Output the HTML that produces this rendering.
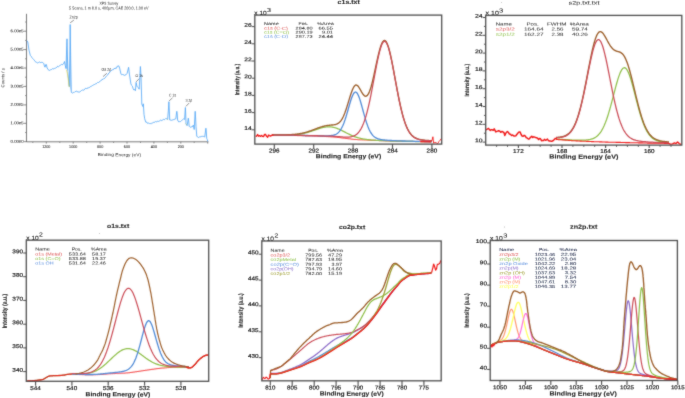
<!DOCTYPE html>
<html><head><meta charset="utf-8"><title>XPS spectra</title>
<style>
html,body{margin:0;padding:0;background:#fff;}
body{width:685px;height:398px;overflow:hidden;}
svg{display:block;font-family:"Liberation Sans", sans-serif;will-change:transform;}
</style></head><body>
<svg width="685" height="398" viewBox="0 0 685 398" fill="#333" font-family='"Liberation Sans", sans-serif'>
<defs><filter id="bl" filterUnits="userSpaceOnUse" x="0" y="0" width="685" height="398"><feConvolveMatrix order="3" kernelMatrix="1 2 1 2 16 2 1 2 1" divisor="28" edgeMode="none"/></filter><filter id="bt" filterUnits="userSpaceOnUse" x="0" y="0" width="685" height="398"><feConvolveMatrix order="3" kernelMatrix="0 1 0 1 8 1 0 1 0" divisor="12" edgeMode="none"/></filter></defs>
<rect width="685" height="398" fill="#fff"/>
<g filter="url(#bl)">
<line x1="26.5" y1="13.8" x2="26.5" y2="142.0" stroke="#6a6a6a" stroke-width="0.9"/>
<line x1="26.5" y1="141.8" x2="208.4" y2="141.8" stroke="#6a6a6a" stroke-width="0.9"/>
<line x1="24.0" y1="141.7" x2="26.5" y2="141.7" stroke="#6a6a6a" stroke-width="0.8"/>
<line x1="25.2" y1="132.5" x2="26.5" y2="132.5" stroke="#6a6a6a" stroke-width="0.8"/>
<line x1="24.0" y1="123.3" x2="26.5" y2="123.3" stroke="#6a6a6a" stroke-width="0.8"/>
<line x1="25.2" y1="114.1" x2="26.5" y2="114.1" stroke="#6a6a6a" stroke-width="0.8"/>
<line x1="24.0" y1="104.9" x2="26.5" y2="104.9" stroke="#6a6a6a" stroke-width="0.8"/>
<line x1="25.2" y1="95.6" x2="26.5" y2="95.6" stroke="#6a6a6a" stroke-width="0.8"/>
<line x1="24.0" y1="86.4" x2="26.5" y2="86.4" stroke="#6a6a6a" stroke-width="0.8"/>
<line x1="25.2" y1="77.2" x2="26.5" y2="77.2" stroke="#6a6a6a" stroke-width="0.8"/>
<line x1="24.0" y1="68.0" x2="26.5" y2="68.0" stroke="#6a6a6a" stroke-width="0.8"/>
<line x1="25.2" y1="58.8" x2="26.5" y2="58.8" stroke="#6a6a6a" stroke-width="0.8"/>
<line x1="24.0" y1="49.6" x2="26.5" y2="49.6" stroke="#6a6a6a" stroke-width="0.8"/>
<line x1="25.2" y1="40.4" x2="26.5" y2="40.4" stroke="#6a6a6a" stroke-width="0.8"/>
<line x1="24.0" y1="31.2" x2="26.5" y2="31.2" stroke="#6a6a6a" stroke-width="0.8"/>
<line x1="25.2" y1="22.0" x2="26.5" y2="22.0" stroke="#6a6a6a" stroke-width="0.8"/>
<line x1="32.8" y1="141.8" x2="32.8" y2="142.9" stroke="#6a6a6a" stroke-width="0.8"/>
<line x1="46.3" y1="141.8" x2="46.3" y2="143.6" stroke="#6a6a6a" stroke-width="0.8"/>
<line x1="59.8" y1="141.8" x2="59.8" y2="142.9" stroke="#6a6a6a" stroke-width="0.8"/>
<line x1="73.2" y1="141.8" x2="73.2" y2="143.6" stroke="#6a6a6a" stroke-width="0.8"/>
<line x1="86.7" y1="141.8" x2="86.7" y2="142.9" stroke="#6a6a6a" stroke-width="0.8"/>
<line x1="100.1" y1="141.8" x2="100.1" y2="143.6" stroke="#6a6a6a" stroke-width="0.8"/>
<line x1="113.6" y1="141.8" x2="113.6" y2="142.9" stroke="#6a6a6a" stroke-width="0.8"/>
<line x1="127.0" y1="141.8" x2="127.0" y2="143.6" stroke="#6a6a6a" stroke-width="0.8"/>
<line x1="140.5" y1="141.8" x2="140.5" y2="142.9" stroke="#6a6a6a" stroke-width="0.8"/>
<line x1="153.9" y1="141.8" x2="153.9" y2="143.6" stroke="#6a6a6a" stroke-width="0.8"/>
<line x1="167.4" y1="141.8" x2="167.4" y2="142.9" stroke="#6a6a6a" stroke-width="0.8"/>
<line x1="180.8" y1="141.8" x2="180.8" y2="143.6" stroke="#6a6a6a" stroke-width="0.8"/>
<line x1="194.2" y1="141.8" x2="194.2" y2="142.9" stroke="#6a6a6a" stroke-width="0.8"/>
<line x1="207.7" y1="141.8" x2="207.7" y2="143.6" stroke="#6a6a6a" stroke-width="0.8"/>
<line x1="70.2" y1="22.8" x2="73.9" y2="20.1" stroke="#444" stroke-width="0.6"/>
<line x1="103.0" y1="76.6" x2="106.9" y2="73.3" stroke="#444" stroke-width="0.6"/>
<line x1="136.1" y1="81.9" x2="139.3" y2="78.5" stroke="#444" stroke-width="0.6"/>
<line x1="168.9" y1="101.2" x2="172.5" y2="97.8" stroke="#444" stroke-width="0.6"/>
<line x1="185.9" y1="106.4" x2="189.2" y2="103.0" stroke="#444" stroke-width="0.6"/>
<polygon points="66.1,68 67.0,38.8 68.0,71 " fill="#b4d6f8"/>
<polygon points="69.4,86 70.2,24.5 71.2,92 " fill="#b4d6f8"/>
<polyline points="27.0,40.7 27.8,41.9 28.4,46.0 29.0,50.2 30.3,55.4 31.1,56.2 32.0,57.7 32.8,58.6 33.5,59.3 34.3,60.2 35.1,61.5 35.8,62.0 36.5,62.3 37.3,62.8 38.1,63.0 38.8,62.3 39.5,62.0 40.2,62.4 41.0,62.8 41.8,62.2 42.6,62.5 43.2,62.8 43.8,63.7 44.4,66.0 45.0,67.2 45.8,64.5 46.4,64.6 47.1,68.0 47.9,69.1 48.6,70.2 49.4,70.4 50.2,69.8 50.9,69.8 51.7,69.4 52.5,68.7 53.2,68.9 54.0,68.9 54.7,68.2 55.5,68.1 56.2,67.5 57.0,67.3 57.7,66.2 58.5,66.7 59.2,66.1 60.0,65.3 60.7,65.2 61.5,64.3 62.2,64.9 63.0,64.0 63.7,63.7 64.5,61.5 65.2,65.2 66.0,68.6 66.6,50.0 67.0,38.8 67.4,55.0 67.9,71.5 68.6,80.0 69.3,86.5 69.8,60.0 70.2,24.5 70.7,60.0 71.3,92.2 72.1,93.0 72.8,93.0 73.5,92.4 74.3,92.4 75.1,91.5 75.8,91.5 76.6,91.0 77.3,91.9 78.1,91.7 78.8,92.2 79.7,92.1 80.5,91.2 81.5,90.5 82.6,90.0 83.4,90.2 84.2,89.9 84.9,88.7 85.7,88.4 86.5,88.6 87.2,87.9 88.0,88.5 88.7,87.5 89.5,87.4 90.2,86.9 91.0,86.2 91.7,86.1 92.5,85.5 93.2,85.0 94.0,84.8 94.7,84.4 95.5,83.9 96.2,83.8 97.0,83.1 97.7,82.4 98.5,82.5 99.2,81.9 100.0,81.6 100.7,80.6 101.5,80.3 102.2,79.2 103.0,79.5 103.7,78.6 104.5,78.5 105.2,77.8 106.0,76.6 106.7,75.8 107.5,75.2 108.2,74.1 109.0,72.8 109.7,72.5 110.5,71.1 111.2,70.7 112.0,70.2 112.8,69.6 113.5,69.6 114.3,68.2 115.0,69.0 115.8,67.8 116.5,68.2 117.3,66.1 118.0,66.3 118.8,65.8 119.6,68.1 121.0,74.1 121.8,74.9 122.5,74.5 123.3,74.9 124.0,74.6 124.8,75.6 125.5,74.7 126.2,74.6 127.1,73.4 128.6,67.3 129.4,74.1 130.9,83.9 131.7,85.5 132.4,86.2 133.2,88.8 133.9,90.0 134.7,89.5 135.4,90.7 136.1,82.4 136.9,86.2 137.7,87.2 138.4,87.7 139.2,89.2 139.8,78.0 140.4,66.5 141.0,76.0 141.3,86.0 141.8,104.1 142.8,106.5 143.3,103.8 144.0,114.3 144.7,118.8 145.8,122.2 146.6,122.0 147.3,123.2 148.1,123.3 148.8,123.0 149.6,123.6 150.3,123.7 151.1,123.0 151.8,123.6 152.6,122.9 153.3,122.5 154.1,122.0 154.8,122.4 155.6,121.5 156.3,121.9 157.1,121.3 157.9,121.3 158.6,121.4 159.4,121.0 160.2,120.3 161.0,120.0 161.8,120.7 162.6,120.0 163.4,119.4 164.1,119.8 164.9,119.4 165.7,118.5 166.6,118.8 167.6,119.4 168.4,110.0 168.9,101.8 169.3,110.0 169.7,120.0 170.6,120.1 171.4,120.3 172.2,120.0 173.1,119.9 173.9,119.4 174.9,119.2 175.8,118.8 176.4,114.0 176.8,111.3 177.2,114.0 177.6,120.0 178.1,121.0 178.7,121.9 179.6,121.6 180.5,121.6 181.4,120.7 182.4,119.9 183.3,119.0 183.9,119.1 184.6,119.4 185.1,112.0 185.4,107.5 185.7,114.0 186.0,123.8 186.6,125.0 187.1,125.7 187.9,121.0 188.3,118.2 188.7,121.0 189.2,126.3 190.2,127.3 191.1,126.8 192.1,127.0 192.8,125.8 193.4,125.1 194.2,129.5 194.8,118.0 195.2,111.3 195.6,118.0 196.0,126.3 196.8,136.4 197.8,137.0 198.6,137.5 199.5,136.9 200.3,136.8 201.1,136.8 201.9,136.0 202.6,136.4 203.4,136.4 204.1,136.8 204.7,137.0 205.4,132.0 205.9,128.2 206.3,132.0 206.7,138.3 207.2,139.3 207.8,141.4" fill="none" stroke="#55a8f6" stroke-width="0.85" stroke-linejoin="round"/>
<polyline points="66.4,69.5 67.3,73.0 68.1,78.0 68.8,84.0 69.3,87.0" fill="none" stroke="#d8d040" stroke-width="0.7" stroke-linejoin="round"/>
<polyline points="167.0,118.8 167.8,119.6" fill="none" stroke="#c8d040" stroke-width="0.6" stroke-linejoin="round"/>
<polyline points="185.9,123.6 186.6,124.8" fill="none" stroke="#c8d040" stroke-width="0.6" stroke-linejoin="round"/>
<polyline points="272.0,135.2 272.5,135.2 273.0,135.2 273.5,135.2 274.0,135.2 274.5,135.2 275.0,135.2 275.5,135.2 276.0,135.2 276.5,135.2 277.0,135.2 277.5,135.2 278.0,135.2 278.5,135.2 279.0,135.2 279.5,135.2 280.0,135.3 280.5,135.3 281.0,135.3 281.5,135.3 282.0,135.3 282.5,135.3 283.0,135.3 283.5,135.3 284.0,135.3 284.5,135.3 285.0,135.3 285.5,135.3 286.0,135.3 286.5,135.3 287.0,135.3 287.5,135.4 288.0,135.4 288.5,135.4 289.0,135.4 289.5,135.4 290.0,135.4 290.5,135.4 291.0,135.4 291.5,135.4 292.0,135.4 292.5,135.4 293.0,135.5 293.5,135.5 294.0,135.5 294.5,135.5 295.0,135.5 295.5,135.5 296.0,135.5 296.5,135.5 297.0,135.5 297.5,135.6 298.0,135.6 298.5,135.6 299.0,135.6 299.5,135.6 300.0,135.6 300.5,135.6 301.0,135.6 301.5,135.7 302.0,135.7 302.5,135.7 303.0,135.7 303.5,135.7 304.0,135.7 304.5,135.7 305.0,135.8 305.5,135.8 306.0,135.8 306.5,135.8 307.0,135.8 307.5,135.8 308.0,135.8 308.5,135.9 309.0,135.9 309.5,135.9 310.0,135.9 310.5,135.9 311.0,135.9 311.5,135.9 312.0,136.0 312.5,136.0 313.0,136.0 313.5,136.0 314.0,136.0 314.5,136.1 315.0,136.1 315.5,136.1 316.0,136.1 316.5,136.1 317.0,136.1 317.5,136.2 318.0,136.2 318.5,136.2 319.0,136.2 319.5,136.2 320.0,136.3 320.5,136.3 321.0,136.3 321.5,136.3 322.0,136.4 322.5,136.4 323.0,136.4 323.5,136.4 324.0,136.5 324.5,136.5 325.0,136.5 325.5,136.5 326.0,136.6 326.5,136.6 327.0,136.6 327.5,136.6 328.0,136.7 328.5,136.7 329.0,136.7 329.5,136.7 330.0,136.8 330.5,136.8 331.0,136.8 331.5,136.9 332.0,136.9 332.5,136.9 333.0,137.0 333.5,137.0 334.0,137.0 334.5,137.1 335.0,137.1 335.5,137.2 336.0,137.2 336.5,137.2 337.0,137.3 337.5,137.4 338.0,137.4 338.5,137.5 339.0,137.5 339.5,137.6 340.0,137.7 340.5,137.7 341.0,137.8 341.5,137.9 342.0,137.9 342.5,138.0 343.0,138.1 343.5,138.1 344.0,138.2 344.5,138.2 345.0,138.3 345.5,138.4 346.0,138.4 346.5,138.5 347.0,138.5 347.5,138.6 348.0,138.7 348.5,138.7 349.0,138.8 349.5,138.8 350.0,138.9 350.5,138.9 351.0,139.0 351.5,139.1 352.0,139.1 352.5,139.2 353.0,139.2 353.5,139.3 354.0,139.3 354.5,139.4 355.0,139.4 355.5,139.4 356.0,139.5 356.5,139.5 357.0,139.6 357.5,139.6 358.0,139.6 358.5,139.7 359.0,139.7 359.5,139.7 360.0,139.7 360.5,139.8 361.0,139.8 361.5,139.8 362.0,139.9 362.5,139.9 363.0,139.9 363.5,139.9 364.0,140.0 364.5,140.0 365.0,140.0 365.5,140.0 366.0,140.0 366.5,140.1 367.0,140.1 367.5,140.1 368.0,140.1 368.5,140.2 369.0,140.2 369.5,140.2 370.0,140.2 370.5,140.2 371.0,140.2 371.5,140.3 372.0,140.3 372.5,140.3 373.0,140.3 373.5,140.3 374.0,140.4 374.5,140.4 375.0,140.4 375.5,140.4 376.0,140.4 376.5,140.5 377.0,140.5 377.5,140.5 378.0,140.5 378.5,140.6 379.0,140.6 379.5,140.6 380.0,140.6 380.5,140.6 381.0,140.7 381.5,140.7 382.0,140.7 382.5,140.7 383.0,140.7 383.5,140.8 384.0,140.8 384.5,140.8 385.0,140.8 385.5,140.8 386.0,140.9 386.5,140.9 387.0,140.9 387.5,140.9 388.0,140.9 388.5,141.0 389.0,141.0 389.5,141.0 390.0,141.0 390.5,141.0 391.0,141.0 391.5,141.0 392.0,141.1 392.5,141.1 393.0,141.1 393.5,141.1 394.0,141.1 394.5,141.1 395.0,141.1 395.5,141.1 396.0,141.1 396.5,141.2 397.0,141.2 397.5,141.2 398.0,141.2 398.5,141.2 399.0,141.2 399.5,141.2 400.0,141.2 400.5,141.2 401.0,141.2 401.5,141.3 402.0,141.3 402.5,141.3 403.0,141.3 403.5,141.3 404.0,141.3 404.5,141.3 405.0,141.3 405.5,141.3 406.0,141.3 406.5,141.3 407.0,141.3 407.5,141.4 408.0,141.4 408.5,141.4 409.0,141.4 409.5,141.4 410.0,141.4 410.5,141.4 411.0,141.4 411.5,141.4 412.0,141.4 412.5,141.4 413.0,141.4 413.5,141.5 414.0,141.5 414.5,141.5 415.0,141.5 415.5,141.5 416.0,141.5 416.5,141.5 417.0,141.5 417.5,141.5 418.0,141.5 418.5,141.5 419.0,141.5 419.5,141.5 420.0,141.5 420.5,141.5 421.0,141.6 421.5,141.6 422.0,141.6 422.5,141.6 423.0,141.6 423.5,141.6 424.0,141.6 424.5,141.6 425.0,141.6 425.5,141.6 426.0,141.6 426.5,141.6 427.0,141.6 427.5,141.6 428.0,141.6 428.5,141.6 429.0,141.6 429.5,141.7 430.0,141.7 430.5,141.7 431.0,141.7 431.5,141.7 432.0,141.7" fill="none" stroke="#f01c1c" stroke-width="1.0" stroke-linejoin="round"/>
<polyline points="272.0,135.1 272.5,135.1 273.0,135.1 273.5,135.1 274.0,135.1 274.5,135.2 275.0,135.2 275.5,135.2 276.0,135.2 276.5,135.2 277.0,135.2 277.5,135.2 278.0,135.2 278.5,135.2 279.0,135.2 279.5,135.2 280.0,135.2 280.5,135.2 281.0,135.2 281.5,135.1 282.0,135.1 282.5,135.1 283.0,135.1 283.5,135.1 284.0,135.1 284.5,135.1 285.0,135.1 285.5,135.1 286.0,135.1 286.5,135.1 287.0,135.1 287.5,135.1 288.0,135.1 288.5,135.1 289.0,135.0 289.5,135.0 290.0,135.0 290.5,135.0 291.0,135.0 291.5,134.9 292.0,134.9 292.5,134.9 293.0,134.9 293.5,134.8 294.0,134.8 294.5,134.8 295.0,134.7 295.5,134.7 296.0,134.6 296.5,134.6 297.0,134.5 297.5,134.5 298.0,134.4 298.5,134.3 299.0,134.3 299.5,134.2 300.0,134.1 300.5,134.0 301.0,134.0 301.5,133.9 302.0,133.8 302.5,133.7 303.0,133.6 303.5,133.5 304.0,133.4 304.5,133.2 305.0,133.1 305.5,133.0 306.0,132.9 306.5,132.7 307.0,132.6 307.5,132.4 308.0,132.3 308.5,132.2 309.0,132.0 309.5,131.8 310.0,131.7 310.5,131.5 311.0,131.4 311.5,131.2 312.0,131.0 312.5,130.8 313.0,130.7 313.5,130.5 314.0,130.3 314.5,130.1 315.0,130.0 315.5,129.8 316.0,129.6 316.5,129.4 317.0,129.3 317.5,129.1 318.0,128.9 318.5,128.8 319.0,128.6 319.5,128.4 320.0,128.3 320.5,128.1 321.0,128.0 321.5,127.9 322.0,127.7 322.5,127.6 323.0,127.5 323.5,127.4 324.0,127.3 324.5,127.2 325.0,127.1 325.5,127.1 326.0,127.0 326.5,126.9 327.0,126.9 327.5,126.9 328.0,126.8 328.5,126.8 329.0,126.8 329.5,126.8 330.0,126.9 330.5,126.9 331.0,126.9 331.5,127.0 332.0,127.1 332.5,127.2 333.0,127.3 333.5,127.4 334.0,127.5 334.5,127.6 335.0,127.7 335.5,127.9 336.0,128.0 336.5,128.2 337.0,128.4 337.5,128.6 338.0,128.8 338.5,129.0 339.0,129.2 339.5,129.4 340.0,129.7 340.5,129.9 341.0,130.2 341.5,130.4 342.0,130.7 342.5,130.9 343.0,131.2 343.5,131.4 344.0,131.7 344.5,131.9 345.0,132.2 345.5,132.4 346.0,132.7 346.5,133.0 347.0,133.2 347.5,133.5 348.0,133.7 348.5,134.0 349.0,134.2 349.5,134.4 350.0,134.7 350.5,134.9 351.0,135.1 351.5,135.4 352.0,135.6 352.5,135.8 353.0,136.0 353.5,136.2 354.0,136.4 354.5,136.6 355.0,136.8 355.5,136.9 356.0,137.1 356.5,137.3 357.0,137.4 357.5,137.6 358.0,137.7 358.5,137.9 359.0,138.0 359.5,138.1 360.0,138.2 360.5,138.4 361.0,138.5 361.5,138.6 362.0,138.7 362.5,138.8 363.0,138.9 363.5,139.0 364.0,139.0 364.5,139.1 365.0,139.2 365.5,139.3 366.0,139.4 366.5,139.4 367.0,139.5 367.5,139.6 368.0,139.6 368.5,139.7 369.0,139.7 369.5,139.8 370.0,139.8 370.5,139.9 371.0,139.9 371.5,140.0 372.0,140.0 372.5,140.0 373.0,140.1 373.5,140.1 374.0,140.1 374.5,140.2 375.0,140.2 375.5,140.2 376.0,140.3 376.5,140.3 377.0,140.3 377.5,140.4 378.0,140.4 378.5,140.4 379.0,140.5 379.5,140.5 380.0,140.5 380.5,140.5 381.0,140.6 381.5,140.6 382.0,140.6 382.5,140.6 383.0,140.7 383.5,140.7 384.0,140.7 384.5,140.7 385.0,140.8 385.5,140.8 386.0,140.8 386.5,140.8 387.0,140.8 387.5,140.9 388.0,140.9 388.5,140.9 389.0,140.9 389.5,140.9 390.0,141.0 390.5,141.0 391.0,141.0 391.5,141.0 392.0,141.0 392.5,141.0 393.0,141.0 393.5,141.1 394.0,141.1 394.5,141.1 395.0,141.1 395.5,141.1 396.0,141.1 396.5,141.1 397.0,141.1 397.5,141.1 398.0,141.2 398.5,141.2 399.0,141.2 399.5,141.2 400.0,141.2 400.5,141.2 401.0,141.2 401.5,141.2 402.0,141.2 402.5,141.2 403.0,141.3 403.5,141.3 404.0,141.3 404.5,141.3 405.0,141.3 405.5,141.3 406.0,141.3 406.5,141.3 407.0,141.3 407.5,141.3 408.0,141.3 408.5,141.3 409.0,141.4 409.5,141.4 410.0,141.4 410.5,141.4 411.0,141.4 411.5,141.4 412.0,141.4 412.5,141.4 413.0,141.4 413.5,141.4 414.0,141.4 414.5,141.4 415.0,141.5 415.5,141.5 416.0,141.5 416.5,141.5 417.0,141.5 417.5,141.5 418.0,141.5 418.5,141.5 419.0,141.5 419.5,141.5 420.0,141.5 420.5,141.5 421.0,141.5 421.5,141.5 422.0,141.5 422.5,141.6 423.0,141.6 423.5,141.6 424.0,141.6 424.5,141.6 425.0,141.6 425.5,141.6 426.0,141.6 426.5,141.6 427.0,141.6 427.5,141.6 428.0,141.6 428.5,141.6 429.0,141.6 429.5,141.6 430.0,141.6 430.5,141.7 431.0,141.7 431.5,141.7 432.0,141.7" fill="none" stroke="#8fbf4a" stroke-width="1.25" stroke-linejoin="round"/>
<polyline points="272.0,135.1 272.5,135.1 273.0,135.1 273.5,135.1 274.0,135.1 274.5,135.1 275.0,135.1 275.5,135.1 276.0,135.1 276.5,135.1 277.0,135.1 277.5,135.1 278.0,135.1 278.5,135.1 279.0,135.1 279.5,135.1 280.0,135.1 280.5,135.1 281.0,135.1 281.5,135.1 282.0,135.2 282.5,135.2 283.0,135.2 283.5,135.2 284.0,135.2 284.5,135.2 285.0,135.2 285.5,135.2 286.0,135.2 286.5,135.2 287.0,135.2 287.5,135.2 288.0,135.2 288.5,135.2 289.0,135.2 289.5,135.2 290.0,135.2 290.5,135.2 291.0,135.3 291.5,135.3 292.0,135.3 292.5,135.3 293.0,135.3 293.5,135.3 294.0,135.3 294.5,135.3 295.0,135.3 295.5,135.3 296.0,135.3 296.5,135.3 297.0,135.4 297.5,135.4 298.0,135.4 298.5,135.4 299.0,135.4 299.5,135.4 300.0,135.4 300.5,135.4 301.0,135.4 301.5,135.4 302.0,135.4 302.5,135.4 303.0,135.5 303.5,135.5 304.0,135.5 304.5,135.5 305.0,135.5 305.5,135.5 306.0,135.5 306.5,135.5 307.0,135.5 307.5,135.5 308.0,135.5 308.5,135.6 309.0,135.6 309.5,135.6 310.0,135.6 310.5,135.6 311.0,135.6 311.5,135.6 312.0,135.6 312.5,135.6 313.0,135.6 313.5,135.6 314.0,135.7 314.5,135.7 315.0,135.7 315.5,135.7 316.0,135.7 316.5,135.7 317.0,135.7 317.5,135.7 318.0,135.7 318.5,135.7 319.0,135.7 319.5,135.7 320.0,135.8 320.5,135.8 321.0,135.8 321.5,135.8 322.0,135.8 322.5,135.8 323.0,135.8 323.5,135.8 324.0,135.8 324.5,135.8 325.0,135.8 325.5,135.8 326.0,135.8 326.5,135.8 327.0,135.8 327.5,135.8 328.0,135.8 328.5,135.8 329.0,135.7 329.5,135.7 330.0,135.7 330.5,135.6 331.0,135.6 331.5,135.5 332.0,135.5 332.5,135.4 333.0,135.3 333.5,135.2 334.0,135.1 334.5,134.9 335.0,134.7 335.5,134.5 336.0,134.3 336.5,134.0 337.0,133.7 337.5,133.3 338.0,132.9 338.5,132.4 339.0,131.9 339.5,131.3 340.0,130.7 340.5,130.0 341.0,129.2 341.5,128.3 342.0,127.3 342.5,126.3 343.0,125.2 343.5,124.0 344.0,122.7 344.5,121.3 345.0,119.9 345.5,118.3 346.0,116.8 346.5,115.1 347.0,113.4 347.5,111.7 348.0,110.0 348.5,108.2 349.0,106.5 349.5,104.7 350.0,103.0 350.5,101.4 351.0,99.8 351.5,98.3 352.0,97.0 352.5,95.7 353.0,94.7 353.5,93.7 354.0,93.0 354.5,92.5 355.0,92.2 355.5,92.0 356.0,92.2 356.5,92.5 357.0,93.0 357.5,93.7 358.0,94.7 358.5,95.8 359.0,97.0 359.5,98.4 360.0,99.9 360.5,101.5 361.0,103.2 361.5,105.0 362.0,106.8 362.5,108.6 363.0,110.5 363.5,112.3 364.0,114.1 364.5,115.9 365.0,117.7 365.5,119.4 366.0,121.0 366.5,122.6 367.0,124.0 367.5,125.4 368.0,126.8 368.5,128.0 369.0,129.2 369.5,130.2 370.0,131.2 370.5,132.1 371.0,133.0 371.5,133.7 372.0,134.4 372.5,135.0 373.0,135.6 373.5,136.1 374.0,136.6 374.5,137.0 375.0,137.3 375.5,137.7 376.0,137.9 376.5,138.2 377.0,138.4 377.5,138.6 378.0,138.8 378.5,139.0 379.0,139.1 379.5,139.2 380.0,139.4 380.5,139.5 381.0,139.6 381.5,139.6 382.0,139.7 382.5,139.8 383.0,139.9 383.5,139.9 384.0,140.0 384.5,140.0 385.0,140.1 385.5,140.1 386.0,140.2 386.5,140.2 387.0,140.2 387.5,140.3 388.0,140.3 388.5,140.4 389.0,140.4 389.5,140.4 390.0,140.5 390.5,140.5 391.0,140.5 391.5,140.5 392.0,140.6 392.5,140.6 393.0,140.6 393.5,140.6 394.0,140.7 394.5,140.7 395.0,140.7 395.5,140.7 396.0,140.7 396.5,140.8 397.0,140.8 397.5,140.8 398.0,140.8 398.5,140.8 399.0,140.9 399.5,140.9 400.0,140.9 400.5,140.9 401.0,140.9 401.5,140.9 402.0,141.0 402.5,141.0 403.0,141.0 403.5,141.0 404.0,141.0 404.5,141.0 405.0,141.0 405.5,141.1 406.0,141.1 406.5,141.1 407.0,141.1 407.5,141.1 408.0,141.1 408.5,141.1 409.0,141.1 409.5,141.2 410.0,141.2 410.5,141.2 411.0,141.2 411.5,141.2 412.0,141.2 412.5,141.2 413.0,141.2 413.5,141.3 414.0,141.3 414.5,141.3 415.0,141.3 415.5,141.3 416.0,141.3 416.5,141.3 417.0,141.3 417.5,141.3 418.0,141.3 418.5,141.4 419.0,141.4 419.5,141.4 420.0,141.4 420.5,141.4 421.0,141.4 421.5,141.4 422.0,141.4 422.5,141.4 423.0,141.4 423.5,141.4 424.0,141.4 424.5,141.5 425.0,141.5 425.5,141.5 426.0,141.5 426.5,141.5 427.0,141.5 427.5,141.5 428.0,141.5 428.5,141.5 429.0,141.5 429.5,141.5 430.0,141.5 430.5,141.5 431.0,141.6 431.5,141.6 432.0,141.6" fill="none" stroke="#4f8ad6" stroke-width="1.3" stroke-linejoin="round"/>
<polyline points="272.0,134.9 272.5,134.9 273.0,134.9 273.5,134.9 274.0,134.9 274.5,134.9 275.0,134.9 275.5,134.9 276.0,134.9 276.5,134.9 277.0,134.9 277.5,134.9 278.0,134.9 278.5,134.9 279.0,134.9 279.5,134.9 280.0,134.9 280.5,134.9 281.0,134.8 281.5,134.8 282.0,134.8 282.5,134.8 283.0,134.8 283.5,134.8 284.0,134.8 284.5,134.8 285.0,134.8 285.5,134.8 286.0,134.8 286.5,134.8 287.0,134.7 287.5,134.7 288.0,134.7 288.5,134.7 289.0,134.7 289.5,134.7 290.0,134.6 290.5,134.6 291.0,134.6 291.5,134.6 292.0,134.5 292.5,134.5 293.0,134.5 293.5,134.4 294.0,134.4 294.5,134.3 295.0,134.3 295.5,134.2 296.0,134.2 296.5,134.1 297.0,134.1 297.5,134.0 298.0,133.9 298.5,133.9 299.0,133.8 299.5,133.7 300.0,133.6 300.5,133.5 301.0,133.5 301.5,133.4 302.0,133.3 302.5,133.1 303.0,133.0 303.5,132.9 304.0,132.8 304.5,132.7 305.0,132.6 305.5,132.4 306.0,132.3 306.5,132.1 307.0,132.0 307.5,131.8 308.0,131.7 308.5,131.5 309.0,131.4 309.5,131.2 310.0,131.0 310.5,130.8 311.0,130.7 311.5,130.5 312.0,130.3 312.5,130.1 313.0,129.9 313.5,129.7 314.0,129.6 314.5,129.4 315.0,129.2 315.5,129.0 316.0,128.8 316.5,128.6 317.0,128.4 317.5,128.2 318.0,128.0 318.5,127.9 319.0,127.7 319.5,127.5 320.0,127.3 320.5,127.2 321.0,127.0 321.5,126.8 322.0,126.7 322.5,126.5 323.0,126.4 323.5,126.3 324.0,126.1 324.5,126.0 325.0,125.9 325.5,125.8 326.0,125.7 326.5,125.6 327.0,125.5 327.5,125.5 328.0,125.4 328.5,125.3 329.0,125.3 329.5,125.2 330.0,125.2 330.5,125.1 331.0,125.1 331.5,125.0 332.0,125.0 332.5,125.0 333.0,124.9 333.5,124.8 334.0,124.8 334.5,124.7 335.0,124.6 335.5,124.5 336.0,124.3 336.5,124.2 337.0,124.0 337.5,123.7 338.0,123.4 338.5,123.1 339.0,122.7 339.5,122.3 340.0,121.8 340.5,121.2 341.0,120.6 341.5,119.8 342.0,119.1 342.5,118.2 343.0,117.2 343.5,116.2 344.0,115.0 344.5,113.8 345.0,112.5 345.5,111.1 346.0,109.7 346.5,108.2 347.0,106.6 347.5,105.0 348.0,103.4 348.5,101.8 349.0,100.1 349.5,98.4 350.0,96.8 350.5,95.2 351.0,93.7 351.5,92.2 352.0,90.9 352.5,89.6 353.0,88.5 353.5,87.5 354.0,86.6 354.5,86.0 355.0,85.5 355.5,85.2 356.0,85.0 356.5,85.1 357.0,85.3 357.5,85.6 358.0,86.1 358.5,86.7 359.0,87.5 359.5,88.3 360.0,89.1 360.5,90.0 361.0,90.9 361.5,91.8 362.0,92.6 362.5,93.5 363.0,94.2 363.5,94.8 364.0,95.4 364.5,95.8 365.0,96.1 365.5,96.2 366.0,96.2 366.5,96.0 367.0,95.7 367.5,95.2 368.0,94.5 368.5,93.7 369.0,92.6 369.5,91.5 370.0,90.1 370.5,88.6 371.0,87.0 371.5,85.2 372.0,83.3 372.5,81.3 373.0,79.2 373.5,77.1 374.0,74.8 374.5,72.5 375.0,70.2 375.5,67.9 376.0,65.5 376.5,63.2 377.0,60.9 377.5,58.6 378.0,56.4 378.5,54.3 379.0,52.3 379.5,50.4 380.0,48.6 380.5,47.0 381.0,45.5 381.5,44.2 382.0,43.1 382.5,42.1 383.0,41.4 383.5,40.9 384.0,40.6 384.5,40.5 385.0,40.6 385.5,40.9 386.0,41.5 386.5,42.2 387.0,43.2 387.5,44.4 388.0,45.7 388.5,47.3 389.0,49.0 389.5,50.9 390.0,52.9 390.5,55.0 391.0,57.3 391.5,59.7 392.0,62.1 392.5,64.7 393.0,67.3 393.5,69.9 394.0,72.6 394.5,75.3 395.0,78.1 395.5,80.8 396.0,83.5 396.5,86.2 397.0,88.9 397.5,91.5 398.0,94.1 398.5,96.7 399.0,99.1 399.5,101.5 400.0,103.9 400.5,106.1 401.0,108.3 401.5,110.4 402.0,112.4 402.5,114.3 403.0,116.2 403.5,117.9 404.0,119.5 404.5,121.1 405.0,122.6 405.5,124.0 406.0,125.3 406.5,126.5 407.0,127.6 407.5,128.7 408.0,129.7 408.5,130.6 409.0,131.5 409.5,132.3 410.0,133.0 410.5,133.7 411.0,134.3 411.5,134.9 412.0,135.4 412.5,135.9 413.0,136.3 413.5,136.7 414.0,137.1 414.5,137.4 415.0,137.7 415.5,138.0 416.0,138.2 416.5,138.5 417.0,138.7 417.5,138.8 418.0,139.0 418.5,139.2 419.0,139.3 419.5,139.4 420.0,139.5 420.5,139.6 421.0,139.7 421.5,139.8 422.0,139.9 422.5,140.0 423.0,140.0 423.5,140.1 424.0,140.2 424.5,140.2 425.0,140.3 425.5,140.3 426.0,140.4 426.5,140.4 427.0,140.4 427.5,140.5 428.0,140.5 428.5,140.5 429.0,140.6 429.5,140.6 430.0,140.6 430.5,140.7 431.0,140.7 431.5,140.7 432.0,140.7" fill="none" stroke="#9c5e2a" stroke-width="1.35" stroke-linejoin="round"/>
<polyline points="272.0,135.0 272.5,135.0 273.0,135.0 273.5,135.0 274.0,135.0 274.5,135.1 275.0,135.1 275.5,135.1 276.0,135.1 276.5,135.1 277.0,135.1 277.5,135.1 278.0,135.1 278.5,135.1 279.0,135.1 279.5,135.1 280.0,135.1 280.5,135.1 281.0,135.1 281.5,135.1 282.0,135.1 282.5,135.1 283.0,135.1 283.5,135.1 284.0,135.1 284.5,135.1 285.0,135.1 285.5,135.1 286.0,135.1 286.5,135.1 287.0,135.1 287.5,135.2 288.0,135.2 288.5,135.2 289.0,135.2 289.5,135.2 290.0,135.2 290.5,135.2 291.0,135.2 291.5,135.2 292.0,135.2 292.5,135.2 293.0,135.2 293.5,135.2 294.0,135.2 294.5,135.3 295.0,135.3 295.5,135.3 296.0,135.3 296.5,135.3 297.0,135.3 297.5,135.3 298.0,135.3 298.5,135.3 299.0,135.3 299.5,135.3 300.0,135.4 300.5,135.4 301.0,135.4 301.5,135.4 302.0,135.4 302.5,135.4 303.0,135.4 303.5,135.4 304.0,135.4 304.5,135.4 305.0,135.5 305.5,135.5 306.0,135.5 306.5,135.5 307.0,135.5 307.5,135.5 308.0,135.5 308.5,135.5 309.0,135.5 309.5,135.5 310.0,135.6 310.5,135.6 311.0,135.6 311.5,135.6 312.0,135.6 312.5,135.6 313.0,135.6 313.5,135.6 314.0,135.7 314.5,135.7 315.0,135.7 315.5,135.7 316.0,135.7 316.5,135.7 317.0,135.7 317.5,135.7 318.0,135.8 318.5,135.8 319.0,135.8 319.5,135.8 320.0,135.8 320.5,135.8 321.0,135.8 321.5,135.9 322.0,135.9 322.5,135.9 323.0,135.9 323.5,135.9 324.0,135.9 324.5,136.0 325.0,136.0 325.5,136.0 326.0,136.0 326.5,136.0 327.0,136.0 327.5,136.1 328.0,136.1 328.5,136.1 329.0,136.1 329.5,136.1 330.0,136.1 330.5,136.2 331.0,136.2 331.5,136.2 332.0,136.2 332.5,136.2 333.0,136.3 333.5,136.3 334.0,136.3 334.5,136.3 335.0,136.4 335.5,136.4 336.0,136.4 336.5,136.5 337.0,136.5 337.5,136.5 338.0,136.6 338.5,136.6 339.0,136.6 339.5,136.7 340.0,136.7 340.5,136.8 341.0,136.8 341.5,136.8 342.0,136.9 342.5,136.9 343.0,137.0 343.5,137.0 344.0,137.0 344.5,137.0 345.0,137.1 345.5,137.1 346.0,137.1 346.5,137.1 347.0,137.1 347.5,137.1 348.0,137.1 348.5,137.0 349.0,137.0 349.5,137.0 350.0,136.9 350.5,136.8 351.0,136.8 351.5,136.7 352.0,136.5 352.5,136.4 353.0,136.2 353.5,136.1 354.0,135.9 354.5,135.6 355.0,135.4 355.5,135.1 356.0,134.7 356.5,134.4 357.0,134.0 357.5,133.5 358.0,133.0 358.5,132.4 359.0,131.8 359.5,131.2 360.0,130.4 360.5,129.6 361.0,128.8 361.5,127.9 362.0,126.9 362.5,125.8 363.0,124.6 363.5,123.4 364.0,122.1 364.5,120.7 365.0,119.2 365.5,117.6 366.0,116.0 366.5,114.2 367.0,112.3 367.5,110.4 368.0,108.4 368.5,106.3 369.0,104.1 369.5,101.8 370.0,99.5 370.5,97.1 371.0,94.6 371.5,92.1 372.0,89.5 372.5,86.9 373.0,84.2 373.5,81.5 374.0,78.8 374.5,76.2 375.0,73.5 375.5,70.8 376.0,68.2 376.5,65.6 377.0,63.1 377.5,60.6 378.0,58.3 378.5,56.0 379.0,53.9 379.5,51.9 380.0,50.0 380.5,48.3 381.0,46.7 381.5,45.3 382.0,44.1 382.5,43.2 383.0,42.4 383.5,41.8 384.0,41.4 384.5,41.3 385.0,41.4 385.5,41.7 386.0,42.2 386.5,43.0 387.0,43.9 387.5,45.1 388.0,46.4 388.5,47.9 389.0,49.6 389.5,51.5 390.0,53.5 390.5,55.6 391.0,57.8 391.5,60.2 392.0,62.7 392.5,65.2 393.0,67.8 393.5,70.4 394.0,73.1 394.5,75.8 395.0,78.5 395.5,81.2 396.0,84.0 396.5,86.7 397.0,89.3 397.5,91.9 398.0,94.5 398.5,97.1 399.0,99.5 399.5,101.9 400.0,104.2 400.5,106.5 401.0,108.7 401.5,110.7 402.0,112.7 402.5,114.7 403.0,116.5 403.5,118.2 404.0,119.9 404.5,121.4 405.0,122.9 405.5,124.3 406.0,125.6 406.5,126.8 407.0,127.9 407.5,129.0 408.0,130.0 408.5,130.9 409.0,131.8 409.5,132.5 410.0,133.3 410.5,133.9 411.0,134.6 411.5,135.1 412.0,135.6 412.5,136.1 413.0,136.5 413.5,136.9 414.0,137.3 414.5,137.6 415.0,137.9 415.5,138.2 416.0,138.4 416.5,138.7 417.0,138.9 417.5,139.0 418.0,139.2 418.5,139.4 419.0,139.5 419.5,139.6 420.0,139.7 420.5,139.8 421.0,139.9 421.5,140.0 422.0,140.1 422.5,140.1 423.0,140.2 423.5,140.3 424.0,140.3 424.5,140.4 425.0,140.4 425.5,140.5 426.0,140.5 426.5,140.5 427.0,140.6 427.5,140.6 428.0,140.7 428.5,140.7 429.0,140.7 429.5,140.7 430.0,140.8 430.5,140.8 431.0,140.8 431.5,140.8 432.0,140.9" fill="none" stroke="#ca4a54" stroke-width="1.25" stroke-linejoin="round"/>
<polyline points="255.6,136.1 256.6,136.2 257.6,134.5 258.6,136.2 259.6,135.7 260.6,136.3 261.6,135.4 262.6,136.4 263.6,136.5 264.6,134.4 265.6,134.5 266.6,136.3 267.6,137.2 268.6,135.1 269.6,135.7 270.6,136.1 271.6,135.3 273.5,135.3" fill="none" stroke="#f01c1c" stroke-width="1.4" stroke-linejoin="round"/>
<polyline points="431.0,140.8 432.0,140.6 432.9,136.8 433.6,143.2 434.8,142.4 436.4,142.9 437.7,143.7 439.0,141.4 440.2,140.2 441.2,138.6" fill="none" stroke="#f01c1c" stroke-width="0.9" stroke-linejoin="round"/>
<polyline points="420.0,141.6 431.0,141.9" fill="none" stroke="#f01c1c" stroke-width="1.1" stroke-linejoin="round"/>
<rect x="254.8" y="15.1" width="186.9" height="129.0" fill="none" stroke="#4d4d4d" stroke-width="1.3"/>
<line x1="251.6" y1="129.8" x2="254.8" y2="129.8" stroke="#4d4d4d" stroke-width="1.0"/>
<line x1="251.6" y1="112.6" x2="254.8" y2="112.6" stroke="#4d4d4d" stroke-width="1.0"/>
<line x1="251.6" y1="95.4" x2="254.8" y2="95.4" stroke="#4d4d4d" stroke-width="1.0"/>
<line x1="251.6" y1="78.2" x2="254.8" y2="78.2" stroke="#4d4d4d" stroke-width="1.0"/>
<line x1="251.6" y1="61.0" x2="254.8" y2="61.0" stroke="#4d4d4d" stroke-width="1.0"/>
<line x1="251.6" y1="43.8" x2="254.8" y2="43.8" stroke="#4d4d4d" stroke-width="1.0"/>
<line x1="251.6" y1="26.6" x2="254.8" y2="26.6" stroke="#4d4d4d" stroke-width="1.0"/>
<line x1="274.3" y1="144.1" x2="274.3" y2="148.4" stroke="#4d4d4d" stroke-width="1.1"/>
<line x1="313.7" y1="144.1" x2="313.7" y2="148.4" stroke="#4d4d4d" stroke-width="1.1"/>
<line x1="353.1" y1="144.1" x2="353.1" y2="148.4" stroke="#4d4d4d" stroke-width="1.1"/>
<line x1="392.5" y1="144.1" x2="392.5" y2="148.4" stroke="#4d4d4d" stroke-width="1.1"/>
<line x1="431.9" y1="144.1" x2="431.9" y2="148.4" stroke="#4d4d4d" stroke-width="1.1"/>
<polyline points="556.0,139.0 556.5,139.0 557.0,139.1 557.5,139.1 558.0,139.1 558.5,139.2 559.0,139.2 559.5,139.2 560.0,139.3 560.5,139.3 561.0,139.3 561.5,139.4 562.0,139.4 562.5,139.4 563.0,139.5 563.5,139.5 564.0,139.5 564.5,139.5 565.0,139.6 565.5,139.6 566.0,139.6 566.5,139.7 567.0,139.7 567.5,139.7 568.0,139.8 568.5,139.8 569.0,139.8 569.5,139.8 570.0,139.9 570.5,139.9 571.0,139.9 571.5,139.9 572.0,140.0 572.5,140.0 573.0,140.0 573.5,140.0 574.0,140.0 574.5,140.1 575.0,140.1 575.5,140.1 576.0,140.1 576.5,140.1 577.0,140.1 577.5,140.1 578.0,140.1 578.5,140.2 579.0,140.2 579.5,140.2 580.0,140.2 580.5,140.2 581.0,140.2 581.5,140.2 582.0,140.2 582.5,140.1 583.0,140.1 583.5,140.1 584.0,140.1 584.5,140.1 585.0,140.1 585.5,140.0 586.0,140.0 586.5,139.9 587.0,139.9 587.5,139.8 588.0,139.8 588.5,139.7 589.0,139.6 589.5,139.5 590.0,139.5 590.5,139.3 591.0,139.2 591.5,139.1 592.0,138.9 592.5,138.8 593.0,138.6 593.5,138.4 594.0,138.1 594.5,137.9 595.0,137.6 595.5,137.3 596.0,137.0 596.5,136.6 597.0,136.2 597.5,135.8 598.0,135.3 598.5,134.8 599.0,134.2 599.5,133.6 600.0,133.0 600.5,132.3 601.0,131.6 601.5,130.8 602.0,129.9 602.5,129.0 603.0,128.1 603.5,127.0 604.0,126.0 604.5,124.8 605.0,123.6 605.5,122.4 606.0,121.0 606.5,119.7 607.0,118.2 607.5,116.7 608.0,115.2 608.5,113.6 609.0,111.9 609.5,110.2 610.0,108.4 610.5,106.7 611.0,104.8 611.5,103.0 612.0,101.1 612.5,99.2 613.0,97.3 613.5,95.3 614.0,93.4 614.5,91.5 615.0,89.6 615.5,87.7 616.0,85.8 616.5,84.0 617.0,82.3 617.5,80.6 618.0,78.9 618.5,77.4 619.0,75.9 619.5,74.6 620.0,73.3 620.5,72.1 621.0,71.1 621.5,70.2 622.0,69.4 622.5,68.8 623.0,68.3 623.5,68.0 624.0,67.8 624.5,67.7 625.0,67.9 625.5,68.1 626.0,68.5 626.5,69.1 627.0,69.8 627.5,70.7 628.0,71.7 628.5,72.8 629.0,74.0 629.5,75.3 630.0,76.7 630.5,78.3 631.0,79.9 631.5,81.6 632.0,83.3 632.5,85.1 633.0,87.0 633.5,88.8 634.0,90.8 634.5,92.7 635.0,94.6 635.5,96.6 636.0,98.5 636.5,100.5 637.0,102.4 637.5,104.3 638.0,106.2 638.5,108.0 639.0,109.8 639.5,111.6 640.0,113.3 640.5,115.0 641.0,116.6 641.5,118.1 642.0,119.6 642.5,121.1 643.0,122.5 643.5,123.8 644.0,125.0 644.5,126.2 645.0,127.4 645.5,128.5 646.0,129.5 646.5,130.5 647.0,131.4 647.5,132.2 648.0,133.0 648.5,133.8 649.0,134.5 649.5,135.1 650.0,135.7 650.5,136.3 651.0,136.8 651.5,137.3 652.0,137.8 652.5,138.2 653.0,138.6 653.5,138.9 654.0,139.2 654.5,139.5 655.0,139.8 655.5,140.0 656.0,140.3 656.5,140.5 657.0,140.7 657.5,140.9 658.0,141.0 658.5,141.2 659.0,141.3 659.5,141.4 660.0,141.5 660.5,141.6 661.0,141.7 661.5,141.8 662.0,141.9 662.5,141.9 663.0,142.0 663.5,142.1 664.0,142.1 664.5,142.2 665.0,142.2 665.5,142.3 666.0,142.3 666.5,142.3 667.0,142.4 667.5,142.4 668.0,142.4 668.5,142.5 669.0,142.5" fill="none" stroke="#8fbf4a" stroke-width="1.25" stroke-linejoin="round"/>
<polyline points="556.0,139.4 556.5,139.4 557.0,139.5 557.5,139.5 558.0,139.5 558.5,139.6 559.0,139.6 559.5,139.7 560.0,139.7 560.5,139.7 561.0,139.8 561.5,139.8 562.0,139.9 562.5,139.9 563.0,139.9 563.5,140.0 564.0,140.0 564.5,140.0 565.0,140.1 565.5,140.1 566.0,140.2 566.5,140.2 567.0,140.2 567.5,140.3 568.0,140.3 568.5,140.4 569.0,140.4 569.5,140.4 570.0,140.5 570.5,140.5 571.0,140.5 571.5,140.6 572.0,140.6 572.5,140.6 573.0,140.7 573.5,140.7 574.0,140.7 574.5,140.8 575.0,140.8 575.5,140.8 576.0,140.9 576.5,140.9 577.0,140.9 577.5,140.9 578.0,141.0 578.5,141.0 579.0,141.0 579.5,141.0 580.0,141.1 580.5,141.1 581.0,141.1 581.5,141.1 582.0,141.2 582.5,141.2 583.0,141.2 583.5,141.2 584.0,141.3 584.5,141.3 585.0,141.3 585.5,141.3 586.0,141.3 586.5,141.4 587.0,141.4 587.5,141.4 588.0,141.4 588.5,141.4 589.0,141.5 589.5,141.5 590.0,141.5 590.5,141.5 591.0,141.5 591.5,141.6 592.0,141.6 592.5,141.6 593.0,141.6 593.5,141.6 594.0,141.7 594.5,141.7 595.0,141.7 595.5,141.7 596.0,141.7 596.5,141.8 597.0,141.8 597.5,141.8 598.0,141.8 598.5,141.8 599.0,141.8 599.5,141.9 600.0,141.9 600.5,141.9 601.0,141.9 601.5,141.9 602.0,141.9 602.5,142.0 603.0,142.0 603.5,142.0 604.0,142.0 604.5,142.0 605.0,142.0 605.5,142.1 606.0,142.1 606.5,142.1 607.0,142.1 607.5,142.1 608.0,142.1 608.5,142.2 609.0,142.2 609.5,142.2 610.0,142.2 610.5,142.2 611.0,142.2 611.5,142.2 612.0,142.3 612.5,142.3 613.0,142.3 613.5,142.3 614.0,142.3 614.5,142.3 615.0,142.3 615.5,142.3 616.0,142.4 616.5,142.4 617.0,142.4 617.5,142.4 618.0,142.4 618.5,142.4 619.0,142.4 619.5,142.4 620.0,142.4 620.5,142.4 621.0,142.5 621.5,142.5 622.0,142.5 622.5,142.5 623.0,142.5 623.5,142.5 624.0,142.5 624.5,142.5 625.0,142.5 625.5,142.6 626.0,142.6 626.5,142.6 627.0,142.6 627.5,142.6 628.0,142.6 628.5,142.6 629.0,142.6 629.5,142.6 630.0,142.7 630.5,142.7 631.0,142.7 631.5,142.7 632.0,142.7 632.5,142.7 633.0,142.7 633.5,142.7 634.0,142.7 634.5,142.8 635.0,142.8 635.5,142.8 636.0,142.8 636.5,142.8 637.0,142.8 637.5,142.8 638.0,142.8 638.5,142.9 639.0,142.9 639.5,142.9 640.0,142.9 640.5,142.9 641.0,142.9 641.5,142.9 642.0,142.9 642.5,142.9 643.0,143.0 643.5,143.0 644.0,143.0 644.5,143.0 645.0,143.0 645.5,143.0 646.0,143.0 646.5,143.0 647.0,143.0 647.5,143.1 648.0,143.1 648.5,143.1 649.0,143.1 649.5,143.1 650.0,143.1 650.5,143.1 651.0,143.1 651.5,143.1 652.0,143.2 652.5,143.2 653.0,143.2 653.5,143.2 654.0,143.2 654.5,143.2 655.0,143.2 655.5,143.2 656.0,143.2 656.5,143.2 657.0,143.3 657.5,143.3 658.0,143.3 658.5,143.3 659.0,143.3 659.5,143.3 660.0,143.3 660.5,143.3 661.0,143.3 661.5,143.3 662.0,143.3 662.5,143.3 663.0,143.3 663.5,143.3 664.0,143.3 664.5,143.4 665.0,143.4 665.5,143.4 666.0,143.4 666.5,143.4 667.0,143.4 667.5,143.4 668.0,143.4 668.5,143.4 669.0,143.4" fill="none" stroke="#f01c1c" stroke-width="1.1" stroke-linejoin="round"/>
<polyline points="556.0,137.4 556.5,137.4 557.0,137.3 557.5,137.3 558.0,137.3 558.5,137.2 559.0,137.2 559.5,137.1 560.0,137.1 560.5,137.0 561.0,136.9 561.5,136.8 562.0,136.7 562.5,136.6 563.0,136.5 563.5,136.3 564.0,136.2 564.5,136.0 565.0,135.8 565.5,135.6 566.0,135.3 566.5,135.0 567.0,134.7 567.5,134.4 568.0,134.0 568.5,133.6 569.0,133.2 569.5,132.7 570.0,132.2 570.5,131.6 571.0,131.0 571.5,130.4 572.0,129.7 572.5,128.9 573.0,128.1 573.5,127.2 574.0,126.2 574.5,125.2 575.0,124.1 575.5,123.0 576.0,121.7 576.5,120.4 577.0,119.1 577.5,117.6 578.0,116.1 578.5,114.5 579.0,112.8 579.5,111.0 580.0,109.2 580.5,107.3 581.0,105.3 581.5,103.2 582.0,101.1 582.5,98.9 583.0,96.6 583.5,94.3 584.0,91.9 584.5,89.5 585.0,87.0 585.5,84.5 586.0,81.9 586.5,79.3 587.0,76.7 587.5,74.1 588.0,71.5 588.5,68.9 589.0,66.3 589.5,63.8 590.0,61.3 590.5,58.8 591.0,56.3 591.5,54.0 592.0,51.7 592.5,49.5 593.0,47.4 593.5,45.4 594.0,43.5 594.5,41.7 595.0,40.1 595.5,38.5 596.0,37.2 596.5,35.9 597.0,34.9 597.5,34.0 598.0,33.2 598.5,32.6 599.0,32.1 599.5,31.8 600.0,31.7 600.5,31.6 601.0,31.8 601.5,32.0 602.0,32.4 602.5,32.8 603.0,33.4 603.5,34.0 604.0,34.8 604.5,35.6 605.0,36.4 605.5,37.3 606.0,38.2 606.5,39.1 607.0,40.0 607.5,41.0 608.0,41.9 608.5,42.8 609.0,43.7 609.5,44.5 610.0,45.3 610.5,46.1 611.0,46.8 611.5,47.4 612.0,48.0 612.5,48.6 613.0,49.1 613.5,49.5 614.0,49.9 614.5,50.2 615.0,50.5 615.5,50.7 616.0,51.0 616.5,51.1 617.0,51.3 617.5,51.4 618.0,51.6 618.5,51.7 619.0,51.9 619.5,52.0 620.0,52.2 620.5,52.5 621.0,52.7 621.5,53.1 622.0,53.5 622.5,53.9 623.0,54.5 623.5,55.1 624.0,55.8 624.5,56.6 625.0,57.6 625.5,58.6 626.0,59.7 626.5,60.9 627.0,62.2 627.5,63.6 628.0,65.0 628.5,66.6 629.0,68.3 629.5,70.0 630.0,71.8 630.5,73.6 631.0,75.5 631.5,77.5 632.0,79.5 632.5,81.5 633.0,83.6 633.5,85.7 634.0,87.8 634.5,89.9 635.0,92.0 635.5,94.1 636.0,96.1 636.5,98.2 637.0,100.2 637.5,102.2 638.0,104.2 638.5,106.1 639.0,108.0 639.5,109.8 640.0,111.6 640.5,113.3 641.0,115.0 641.5,116.6 642.0,118.1 642.5,119.6 643.0,121.0 643.5,122.4 644.0,123.7 644.5,124.9 645.0,126.1 645.5,127.2 646.0,128.3 646.5,129.2 647.0,130.2 647.5,131.1 648.0,131.9 648.5,132.7 649.0,133.4 649.5,134.1 650.0,134.7 650.5,135.3 651.0,135.8 651.5,136.3 652.0,136.8 652.5,137.2 653.0,137.6 653.5,138.0 654.0,138.3 654.5,138.6 655.0,138.9 655.5,139.2 656.0,139.4 656.5,139.7 657.0,139.9 657.5,140.0 658.0,140.2 658.5,140.4 659.0,140.5 659.5,140.7 660.0,140.8 660.5,140.9 661.0,141.0 661.5,141.1 662.0,141.2 662.5,141.3 663.0,141.3 663.5,141.4 664.0,141.5 664.5,141.5 665.0,141.6 665.5,141.6 666.0,141.7 666.5,141.7 667.0,141.8 667.5,141.8 668.0,141.9 668.5,141.9 669.0,141.9" fill="none" stroke="#9c5e2a" stroke-width="1.35" stroke-linejoin="round"/>
<polyline points="556.0,137.8 556.5,137.7 557.0,137.7 557.5,137.7 558.0,137.7 558.5,137.6 559.0,137.6 559.5,137.6 560.0,137.5 560.5,137.4 561.0,137.4 561.5,137.3 562.0,137.2 562.5,137.1 563.0,136.9 563.5,136.8 564.0,136.7 564.5,136.5 565.0,136.3 565.5,136.1 566.0,135.8 566.5,135.6 567.0,135.3 567.5,134.9 568.0,134.6 568.5,134.2 569.0,133.8 569.5,133.3 570.0,132.8 570.5,132.2 571.0,131.7 571.5,131.0 572.0,130.3 572.5,129.5 573.0,128.7 573.5,127.9 574.0,126.9 574.5,125.9 575.0,124.8 575.5,123.7 576.0,122.5 576.5,121.2 577.0,119.9 577.5,118.4 578.0,116.9 578.5,115.3 579.0,113.7 579.5,111.9 580.0,110.1 580.5,108.2 581.0,106.2 581.5,104.2 582.0,102.1 582.5,99.9 583.0,97.7 583.5,95.4 584.0,93.1 584.5,90.7 585.0,88.2 585.5,85.8 586.0,83.3 586.5,80.8 587.0,78.2 587.5,75.7 588.0,73.2 588.5,70.7 589.0,68.2 589.5,65.7 590.0,63.3 590.5,61.0 591.0,58.7 591.5,56.5 592.0,54.3 592.5,52.3 593.0,50.4 593.5,48.6 594.0,47.0 594.5,45.5 595.0,44.1 595.5,43.0 596.0,41.9 596.5,41.1 597.0,40.4 597.5,40.0 598.0,39.7 598.5,39.6 599.0,39.7 599.5,40.1 600.0,40.6 600.5,41.2 601.0,42.1 601.5,43.2 602.0,44.4 602.5,45.8 603.0,47.3 603.5,49.0 604.0,50.8 604.5,52.8 605.0,54.8 605.5,57.0 606.0,59.2 606.5,61.5 607.0,63.9 607.5,66.4 608.0,68.8 608.5,71.4 609.0,73.9 609.5,76.5 610.0,79.0 610.5,81.6 611.0,84.2 611.5,86.7 612.0,89.2 612.5,91.7 613.0,94.1 613.5,96.5 614.0,98.8 614.5,101.0 615.0,103.3 615.5,105.4 616.0,107.5 616.5,109.5 617.0,111.4 617.5,113.2 618.0,115.0 618.5,116.7 619.0,118.4 619.5,119.9 620.0,121.4 620.5,122.8 621.0,124.1 621.5,125.3 622.0,126.5 622.5,127.6 623.0,128.7 623.5,129.7 624.0,130.6 624.5,131.4 625.0,132.2 625.5,133.0 626.0,133.7 626.5,134.3 627.0,134.9 627.5,135.5 628.0,136.0 628.5,136.5 629.0,136.9 629.5,137.3 630.0,137.7 630.5,138.0 631.0,138.3 631.5,138.6 632.0,138.9 632.5,139.1 633.0,139.4 633.5,139.6 634.0,139.8 634.5,139.9 635.0,140.1 635.5,140.2 636.0,140.4 636.5,140.5 637.0,140.6 637.5,140.7 638.0,140.8 638.5,140.9 639.0,141.0 639.5,141.1 640.0,141.2 640.5,141.2 641.0,141.3 641.5,141.4 642.0,141.4 642.5,141.5 643.0,141.5 643.5,141.6 644.0,141.6 644.5,141.7 645.0,141.7 645.5,141.7 646.0,141.8 646.5,141.8 647.0,141.9 647.5,141.9 648.0,141.9 648.5,142.0 649.0,142.0 649.5,142.0 650.0,142.1 650.5,142.1 651.0,142.1 651.5,142.2 652.0,142.2 652.5,142.2 653.0,142.2 653.5,142.3 654.0,142.3 654.5,142.3 655.0,142.3 655.5,142.4 656.0,142.4 656.5,142.4 657.0,142.4 657.5,142.5 658.0,142.5 658.5,142.5 659.0,142.5 659.5,142.5 660.0,142.6 660.5,142.6 661.0,142.6 661.5,142.6 662.0,142.6 662.5,142.6 663.0,142.7 663.5,142.7 664.0,142.7 664.5,142.7 665.0,142.7 665.5,142.7 666.0,142.7 666.5,142.8 667.0,142.8 667.5,142.8 668.0,142.8 668.5,142.8 669.0,142.8" fill="none" stroke="#ca4a54" stroke-width="1.25" stroke-linejoin="round"/>
<polyline points="486.0,130.0 487.2,129.1 488.5,128.4 490.1,130.4 491.1,129.7 492.1,129.7 493.2,130.3 494.2,128.8 495.8,131.9 497.5,131.1 498.6,130.7 499.6,130.9 500.7,132.3 501.8,131.6 502.9,131.8 504.0,132.6 504.8,135.5 506.1,132.7 507.3,131.5 508.4,132.3 509.4,134.1 510.5,134.2 511.6,135.6 512.7,135.0 513.8,136.0 514.9,135.9 515.9,135.7 517.0,134.2 518.0,133.0 519.0,132.0 520.0,131.9 521.1,134.5 522.1,136.0 523.2,136.3 524.2,135.4 525.2,135.9 526.2,137.6 527.2,138.0 528.3,139.0 529.3,138.9 530.5,137.3 531.7,136.3 532.7,137.5 533.7,136.8 534.6,137.1 535.6,137.5 536.6,137.8 537.6,138.2 538.6,139.5 539.5,138.5 540.5,138.7 541.5,140.8 542.5,140.5 543.5,140.6 544.4,139.4 545.4,140.2 546.4,140.0 547.4,139.1 548.3,140.4 549.3,141.0 550.3,141.1 551.2,141.2 552.2,141.2 553.3,140.5 554.3,139.5 555.4,138.4 557.0,139.0" fill="none" stroke="#f01c1c" stroke-width="1.5" stroke-linejoin="round"/>
<polyline points="668.5,143.3 670.5,144.1 672.5,143.9 674.5,142.9 676.0,143.6 677.6,142.0 679.2,143.6 681.0,144.3" fill="none" stroke="#f01c1c" stroke-width="1.4" stroke-linejoin="round"/>
<rect x="485.7" y="15.4" width="196.1" height="129.7" fill="none" stroke="#4d4d4d" stroke-width="1.3"/>
<line x1="482.5" y1="142.1" x2="485.7" y2="142.1" stroke="#4d4d4d" stroke-width="1.0"/>
<line x1="482.5" y1="124.3" x2="485.7" y2="124.3" stroke="#4d4d4d" stroke-width="1.0"/>
<line x1="482.5" y1="106.5" x2="485.7" y2="106.5" stroke="#4d4d4d" stroke-width="1.0"/>
<line x1="482.5" y1="88.7" x2="485.7" y2="88.7" stroke="#4d4d4d" stroke-width="1.0"/>
<line x1="482.5" y1="70.9" x2="485.7" y2="70.9" stroke="#4d4d4d" stroke-width="1.0"/>
<line x1="482.5" y1="53.1" x2="485.7" y2="53.1" stroke="#4d4d4d" stroke-width="1.0"/>
<line x1="482.5" y1="35.3" x2="485.7" y2="35.3" stroke="#4d4d4d" stroke-width="1.0"/>
<line x1="482.5" y1="17.5" x2="485.7" y2="17.5" stroke="#4d4d4d" stroke-width="1.0"/>
<line x1="483.9" y1="133.2" x2="485.7" y2="133.2" stroke="#4d4d4d" stroke-width="0.9"/>
<line x1="483.9" y1="115.4" x2="485.7" y2="115.4" stroke="#4d4d4d" stroke-width="0.9"/>
<line x1="483.9" y1="97.6" x2="485.7" y2="97.6" stroke="#4d4d4d" stroke-width="0.9"/>
<line x1="483.9" y1="79.8" x2="485.7" y2="79.8" stroke="#4d4d4d" stroke-width="0.9"/>
<line x1="483.9" y1="62.0" x2="485.7" y2="62.0" stroke="#4d4d4d" stroke-width="0.9"/>
<line x1="483.9" y1="44.2" x2="485.7" y2="44.2" stroke="#4d4d4d" stroke-width="0.9"/>
<line x1="483.9" y1="26.4" x2="485.7" y2="26.4" stroke="#4d4d4d" stroke-width="0.9"/>
<line x1="518.4" y1="145.1" x2="518.4" y2="147.9" stroke="#4d4d4d" stroke-width="1.1"/>
<line x1="562.0" y1="145.1" x2="562.0" y2="147.9" stroke="#4d4d4d" stroke-width="1.1"/>
<line x1="605.6" y1="145.1" x2="605.6" y2="147.9" stroke="#4d4d4d" stroke-width="1.1"/>
<line x1="649.2" y1="145.1" x2="649.2" y2="147.9" stroke="#4d4d4d" stroke-width="1.1"/>
<line x1="496.6" y1="145.1" x2="496.6" y2="146.9" stroke="#4d4d4d" stroke-width="0.9"/>
<line x1="507.5" y1="145.1" x2="507.5" y2="146.9" stroke="#4d4d4d" stroke-width="0.9"/>
<line x1="529.3" y1="145.1" x2="529.3" y2="146.9" stroke="#4d4d4d" stroke-width="0.9"/>
<line x1="540.2" y1="145.1" x2="540.2" y2="146.9" stroke="#4d4d4d" stroke-width="0.9"/>
<line x1="551.1" y1="145.1" x2="551.1" y2="146.9" stroke="#4d4d4d" stroke-width="0.9"/>
<line x1="572.9" y1="145.1" x2="572.9" y2="146.9" stroke="#4d4d4d" stroke-width="0.9"/>
<line x1="583.8" y1="145.1" x2="583.8" y2="146.9" stroke="#4d4d4d" stroke-width="0.9"/>
<line x1="594.7" y1="145.1" x2="594.7" y2="146.9" stroke="#4d4d4d" stroke-width="0.9"/>
<line x1="616.5" y1="145.1" x2="616.5" y2="146.9" stroke="#4d4d4d" stroke-width="0.9"/>
<line x1="627.4" y1="145.1" x2="627.4" y2="146.9" stroke="#4d4d4d" stroke-width="0.9"/>
<line x1="638.3" y1="145.1" x2="638.3" y2="146.9" stroke="#4d4d4d" stroke-width="0.9"/>
<line x1="660.1" y1="145.1" x2="660.1" y2="146.9" stroke="#4d4d4d" stroke-width="0.9"/>
<line x1="671.0" y1="145.1" x2="671.0" y2="146.9" stroke="#4d4d4d" stroke-width="0.9"/>
<polyline points="27.3,380.9 28.0,380.9 29.0,380.8 30.2,380.8 31.4,380.8 32.7,380.7 34.0,380.6 35.3,380.5 36.7,380.4 38.2,380.2 39.6,380.0 40.9,379.9 41.9,379.7 42.6,379.5 43.2,379.3 43.6,379.2 43.9,379.0 44.2,378.8 44.5,378.6 44.8,378.4 45.1,378.2 45.4,378.1 45.7,377.9 46.0,377.7 46.3,377.5 46.6,377.3 47.0,377.1 47.3,376.9 47.7,376.7 48.1,376.5 48.5,376.3 48.9,376.2 49.3,376.1 49.7,376.0 50.1,375.9 50.7,375.9 51.4,375.8 52.3,375.8 53.4,375.7 54.5,375.7 55.7,375.7 56.9,375.6 58.0,375.6 59.0,375.5 60.0,375.5 61.0,375.4 62.0,375.3 62.9,375.2 63.8,375.1 64.6,375.0 65.3,374.8 65.9,374.7 66.6,374.5 67.3,374.4 68.2,374.3 69.3,374.2 70.5,374.1 71.8,374.0 73.2,374.0 74.4,373.9 75.5,373.9 76.5,373.9 77.4,374.0 78.2,374.1 78.9,374.2 79.5,374.3 80.0,374.4" fill="none" stroke="#9c5e2a" stroke-width="1.3" stroke-linejoin="round"/>
<polyline points="27.3,380.9 28.0,380.9 29.0,380.8 30.2,380.8 31.4,380.8 32.7,380.7 34.0,380.6 35.3,380.5 36.7,380.4 38.2,380.2 39.6,380.0 40.9,379.9 41.9,379.7 42.6,379.5 43.2,379.3 43.6,379.2 43.9,379.0 44.2,378.8 44.5,378.6 44.8,378.4 45.1,378.2 45.4,378.1 45.7,377.9 46.0,377.7 46.3,377.5 46.6,377.3 47.0,377.1 47.3,376.9 47.7,376.7 48.1,376.5 48.5,376.3 48.9,376.2 49.3,376.1 49.7,376.0 50.1,375.9 50.7,375.9 51.4,375.8 52.3,375.8 53.4,375.7 54.5,375.7 55.7,375.7 56.9,375.6 58.0,375.6 59.0,375.5 60.0,375.5 61.0,375.4 62.0,375.3 62.9,375.2 63.8,375.1 64.6,375.0 65.3,374.8 65.9,374.7 66.6,374.5 67.3,374.4 68.2,374.3 69.3,374.2 70.5,374.1 71.8,374.0 73.2,374.0 74.4,373.9 75.5,373.9 76.5,373.9 77.4,374.0 78.2,374.1 78.9,374.2 79.5,374.3 80.0,374.4" fill="none" stroke="#f01c1c" stroke-width="1.0" stroke-linejoin="round"/>
<polyline points="72.0,374.1 72.5,374.1 73.0,374.2 73.5,374.2 74.0,374.3 74.5,374.3 75.0,374.3 75.5,374.4 76.0,374.4 76.5,374.4 77.0,374.5 77.5,374.5 78.0,374.5 78.5,374.5 79.0,374.6 79.5,374.6 80.0,374.6 80.5,374.6 81.0,374.6 81.5,374.6 82.0,374.7 82.5,374.7 83.0,374.7 83.5,374.7 84.0,374.7 84.5,374.7 85.0,374.7 85.5,374.8 86.0,374.8 86.5,374.8 87.0,374.8 87.5,374.8 88.0,374.8 88.5,374.8 89.0,374.8 89.5,374.8 90.0,374.8 90.5,374.8 91.0,374.8 91.5,374.8 92.0,374.8 92.5,374.8 93.0,374.8 93.5,374.8 94.0,374.8 94.5,374.8 95.0,374.8 95.5,374.8 96.0,374.8 96.5,374.7 97.0,374.7 97.5,374.7 98.0,374.7 98.5,374.6 99.0,374.6 99.5,374.6 100.0,374.5 100.5,374.5 101.0,374.5 101.5,374.4 102.0,374.4 102.5,374.4 103.0,374.3 103.5,374.3 104.0,374.3 104.5,374.2 105.0,374.2 105.5,374.1 106.0,374.1 106.5,374.1 107.0,374.0 107.5,374.0 108.0,373.9 108.5,373.9 109.0,373.9 109.5,373.8 110.0,373.8 110.5,373.8 111.0,373.7 111.5,373.7 112.0,373.7 112.5,373.7 113.0,373.6 113.5,373.6 114.0,373.6 114.5,373.6 115.0,373.5 115.5,373.5 116.0,373.5 116.5,373.5 117.0,373.5 117.5,373.4 118.0,373.4 118.5,373.4 119.0,373.4 119.5,373.3 120.0,373.3 120.5,373.3 121.0,373.2 121.5,373.2 122.0,373.2 122.5,373.2 123.0,373.1 123.5,373.1 124.0,373.1 124.5,373.1 125.0,373.0 125.5,373.0 126.0,373.0 126.5,372.9 127.0,372.9 127.5,372.9 128.0,372.8 128.5,372.8 129.0,372.7 129.5,372.7 130.0,372.6 130.5,372.5 131.0,372.5 131.5,372.4 132.0,372.3 132.5,372.3 133.0,372.2 133.5,372.1 134.0,372.1 134.5,372.0 135.0,371.9 135.5,371.8 136.0,371.8 136.5,371.7 137.0,371.6 137.5,371.5 138.0,371.5 138.5,371.4 139.0,371.3 139.5,371.2 140.0,371.2 140.5,371.1 141.0,371.0 141.5,370.9 142.0,370.8 142.5,370.8 143.0,370.7 143.5,370.6 144.0,370.5 144.5,370.5 145.0,370.4 145.5,370.3 146.0,370.3 146.5,370.2 147.0,370.1 147.5,370.0 148.0,370.0 148.5,369.9 149.0,369.8 149.5,369.7 150.0,369.7 150.5,369.6 151.0,369.5 151.5,369.4 152.0,369.4 152.5,369.3 153.0,369.2 153.5,369.2 154.0,369.1 154.5,369.0 155.0,368.9 155.5,368.9 156.0,368.8 156.5,368.7 157.0,368.7 157.5,368.6 158.0,368.5 158.5,368.5 159.0,368.4 159.5,368.4 160.0,368.3 160.5,368.2 161.0,368.2 161.5,368.1 162.0,368.1 162.5,368.0 163.0,368.0 163.5,368.0 164.0,367.9 164.5,367.9 165.0,367.8 165.5,367.8 166.0,367.7 166.5,367.7 167.0,367.7 167.5,367.6 168.0,367.6 168.5,367.6 169.0,367.6 169.5,367.5 170.0,367.5 170.5,367.5 171.0,367.4 171.5,367.4 172.0,367.4 172.5,367.4 173.0,367.4 173.5,367.3 174.0,367.3 174.5,367.3 175.0,367.3 175.5,367.3 176.0,367.3 176.5,367.3 177.0,367.3 177.5,367.3 178.0,367.3 178.5,367.3 179.0,367.3 179.5,367.3 180.0,367.3 180.5,367.3 181.0,367.3 181.5,367.3 182.0,367.3 182.5,367.3 183.0,367.3 183.5,367.3 184.0,367.4 184.5,367.4 185.0,367.4 185.5,367.4 186.0,367.5 186.5,367.5 187.0,367.5 187.5,367.6 188.0,367.6 188.5,367.6 189.0,367.6" fill="none" stroke="#f01c1c" stroke-width="1.0" stroke-linejoin="round"/>
<polyline points="72.0,373.9 72.5,373.9 73.0,374.0 73.5,374.0 74.0,374.0 74.5,374.0 75.0,374.1 75.5,374.1 76.0,374.1 76.5,374.1 77.0,374.1 77.5,374.1 78.0,374.1 78.5,374.1 79.0,374.1 79.5,374.1 80.0,374.1 80.5,374.1 81.0,374.1 81.5,374.0 82.0,374.0 82.5,374.0 83.0,373.9 83.5,373.9 84.0,373.9 84.5,373.8 85.0,373.8 85.5,373.7 86.0,373.6 86.5,373.6 87.0,373.5 87.5,373.4 88.0,373.3 88.5,373.2 89.0,373.1 89.5,373.0 90.0,372.9 90.5,372.8 91.0,372.7 91.5,372.5 92.0,372.4 92.5,372.2 93.0,372.0 93.5,371.9 94.0,371.7 94.5,371.5 95.0,371.3 95.5,371.0 96.0,370.8 96.5,370.6 97.0,370.3 97.5,370.0 98.0,369.7 98.5,369.4 99.0,369.1 99.5,368.8 100.0,368.5 100.5,368.1 101.0,367.8 101.5,367.4 102.0,367.0 102.5,366.7 103.0,366.3 103.5,365.8 104.0,365.4 104.5,365.0 105.0,364.6 105.5,364.1 106.0,363.7 106.5,363.2 107.0,362.8 107.5,362.3 108.0,361.8 108.5,361.4 109.0,360.9 109.5,360.4 110.0,359.9 110.5,359.5 111.0,359.0 111.5,358.5 112.0,358.0 112.5,357.5 113.0,357.1 113.5,356.6 114.0,356.1 114.5,355.7 115.0,355.2 115.5,354.8 116.0,354.4 116.5,353.9 117.0,353.5 117.5,353.1 118.0,352.7 118.5,352.4 119.0,352.0 119.5,351.6 120.0,351.3 120.5,351.0 121.0,350.7 121.5,350.4 122.0,350.1 122.5,349.9 123.0,349.7 123.5,349.5 124.0,349.3 124.5,349.2 125.0,349.0 125.5,348.9 126.0,348.8 126.5,348.7 127.0,348.7 127.5,348.7 128.0,348.7 128.5,348.7 129.0,348.7 129.5,348.7 130.0,348.8 130.5,348.9 131.0,349.0 131.5,349.2 132.0,349.3 132.5,349.5 133.0,349.7 133.5,349.9 134.0,350.1 134.5,350.3 135.0,350.6 135.5,350.8 136.0,351.1 136.5,351.4 137.0,351.7 137.5,352.0 138.0,352.3 138.5,352.7 139.0,353.0 139.5,353.4 140.0,353.7 140.5,354.1 141.0,354.4 141.5,354.8 142.0,355.2 142.5,355.5 143.0,355.9 143.5,356.3 144.0,356.7 144.5,357.0 145.0,357.4 145.5,357.8 146.0,358.2 146.5,358.5 147.0,358.9 147.5,359.2 148.0,359.6 148.5,359.9 149.0,360.2 149.5,360.5 150.0,360.8 150.5,361.2 151.0,361.4 151.5,361.7 152.0,362.0 152.5,362.3 153.0,362.5 153.5,362.8 154.0,363.0 154.5,363.2 155.0,363.5 155.5,363.7 156.0,363.9 156.5,364.1 157.0,364.2 157.5,364.4 158.0,364.6 158.5,364.7 159.0,364.9 159.5,365.0 160.0,365.2 160.5,365.3 161.0,365.4 161.5,365.5 162.0,365.6 162.5,365.7 163.0,365.8 163.5,365.9 164.0,366.0 164.5,366.1 165.0,366.1 165.5,366.2 166.0,366.3 166.5,366.3 167.0,366.4 167.5,366.4 168.0,366.5 168.5,366.5 169.0,366.6 169.5,366.6 170.0,366.6 170.5,366.7 171.0,366.7 171.5,366.7 172.0,366.7 172.5,366.8 173.0,366.8 173.5,366.8 174.0,366.8 174.5,366.8 175.0,366.9 175.5,366.9 176.0,366.9 176.5,366.9 177.0,366.9 177.5,367.0 178.0,367.0 178.5,367.0 179.0,367.0 179.5,367.0 180.0,367.0 180.5,367.1 181.0,367.1 181.5,367.1 182.0,367.1 182.5,367.1 183.0,367.1 183.5,367.2 184.0,367.2 184.5,367.2 185.0,367.3 185.5,367.3 186.0,367.3 186.5,367.4 187.0,367.4 187.5,367.4 188.0,367.5 188.5,367.5 189.0,367.5" fill="none" stroke="#8fbf4a" stroke-width="1.25" stroke-linejoin="round"/>
<polyline points="72.0,373.9 72.5,373.9 73.0,374.0 73.5,374.0 74.0,374.0 74.5,374.1 75.0,374.1 75.5,374.1 76.0,374.2 76.5,374.2 77.0,374.2 77.5,374.3 78.0,374.3 78.5,374.3 79.0,374.3 79.5,374.3 80.0,374.3 80.5,374.4 81.0,374.4 81.5,374.4 82.0,374.4 82.5,374.4 83.0,374.4 83.5,374.4 84.0,374.4 84.5,374.4 85.0,374.5 85.5,374.5 86.0,374.5 86.5,374.5 87.0,374.5 87.5,374.5 88.0,374.5 88.5,374.5 89.0,374.5 89.5,374.5 90.0,374.5 90.5,374.5 91.0,374.5 91.5,374.5 92.0,374.5 92.5,374.5 93.0,374.5 93.5,374.4 94.0,374.4 94.5,374.4 95.0,374.4 95.5,374.4 96.0,374.3 96.5,374.3 97.0,374.3 97.5,374.3 98.0,374.2 98.5,374.2 99.0,374.1 99.5,374.1 100.0,374.1 100.5,374.0 101.0,374.0 101.5,373.9 102.0,373.9 102.5,373.8 103.0,373.8 103.5,373.7 104.0,373.7 104.5,373.6 105.0,373.6 105.5,373.5 106.0,373.5 106.5,373.4 107.0,373.3 107.5,373.3 108.0,373.2 108.5,373.2 109.0,373.1 109.5,373.1 110.0,373.0 110.5,373.0 111.0,372.9 111.5,372.9 112.0,372.8 112.5,372.8 113.0,372.7 113.5,372.7 114.0,372.6 114.5,372.6 115.0,372.5 115.5,372.5 116.0,372.4 116.5,372.4 117.0,372.3 117.5,372.3 118.0,372.2 118.5,372.1 119.0,372.1 119.5,372.0 120.0,371.9 120.5,371.8 121.0,371.8 121.5,371.7 122.0,371.6 122.5,371.5 123.0,371.4 123.5,371.3 124.0,371.1 124.5,371.0 125.0,370.8 125.5,370.7 126.0,370.5 126.5,370.3 127.0,370.0 127.5,369.8 128.0,369.5 128.5,369.2 129.0,368.8 129.5,368.4 130.0,367.9 130.5,367.4 131.0,366.9 131.5,366.3 132.0,365.6 132.5,364.9 133.0,364.1 133.5,363.2 134.0,362.3 134.5,361.2 135.0,360.1 135.5,359.0 136.0,357.7 136.5,356.3 137.0,354.9 137.5,353.4 138.0,351.8 138.5,350.1 139.0,348.4 139.5,346.6 140.0,344.8 140.5,342.9 141.0,341.0 141.5,339.1 142.0,337.2 142.5,335.2 143.0,333.4 143.5,331.5 144.0,329.8 144.5,328.1 145.0,326.6 145.5,325.2 146.0,323.9 146.5,322.8 147.0,322.0 147.5,321.3 148.0,320.9 148.5,320.7 149.0,320.7 149.5,321.0 150.0,321.5 150.5,322.2 151.0,323.2 151.5,324.3 152.0,325.5 152.5,326.9 153.0,328.5 153.5,330.1 154.0,331.7 154.5,333.5 155.0,335.2 155.5,337.0 156.0,338.8 156.5,340.6 157.0,342.3 157.5,344.0 158.0,345.6 158.5,347.2 159.0,348.8 159.5,350.2 160.0,351.6 160.5,352.9 161.0,354.1 161.5,355.2 162.0,356.3 162.5,357.3 163.0,358.2 163.5,359.0 164.0,359.8 164.5,360.5 165.0,361.1 165.5,361.7 166.0,362.2 166.5,362.6 167.0,363.0 167.5,363.4 168.0,363.7 168.5,364.0 169.0,364.2 169.5,364.4 170.0,364.6 170.5,364.8 171.0,365.0 171.5,365.1 172.0,365.2 172.5,365.3 173.0,365.4 173.5,365.5 174.0,365.6 174.5,365.6 175.0,365.7 175.5,365.8 176.0,365.8 176.5,365.9 177.0,365.9 177.5,366.0 178.0,366.0 178.5,366.0 179.0,366.1 179.5,366.1 180.0,366.2 180.5,366.2 181.0,366.2 181.5,366.3 182.0,366.3 182.5,366.3 183.0,366.4 183.5,366.4 184.0,366.5 184.5,366.5 185.0,366.6 185.5,366.6 186.0,366.7 186.5,366.7 187.0,366.8 187.5,366.8 188.0,366.9 188.5,366.9 189.0,366.9" fill="none" stroke="#4f8ad6" stroke-width="1.3" stroke-linejoin="round"/>
<polyline points="72.0,373.5 72.5,373.5 73.0,373.5 73.5,373.6 74.0,373.6 74.5,373.6 75.0,373.7 75.5,373.7 76.0,373.7 76.5,373.7 77.0,373.7 77.5,373.7 78.0,373.7 78.5,373.7 79.0,373.7 79.5,373.7 80.0,373.7 80.5,373.7 81.0,373.7 81.5,373.7 82.0,373.7 82.5,373.6 83.0,373.6 83.5,373.6 84.0,373.5 84.5,373.5 85.0,373.4 85.5,373.4 86.0,373.3 86.5,373.3 87.0,373.2 87.5,373.1 88.0,373.0 88.5,372.9 89.0,372.8 89.5,372.7 90.0,372.5 90.5,372.4 91.0,372.2 91.5,372.0 92.0,371.8 92.5,371.6 93.0,371.4 93.5,371.1 94.0,370.8 94.5,370.5 95.0,370.2 95.5,369.8 96.0,369.4 96.5,369.0 97.0,368.6 97.5,368.1 98.0,367.5 98.5,367.0 99.0,366.4 99.5,365.7 100.0,365.1 100.5,364.3 101.0,363.6 101.5,362.7 102.0,361.9 102.5,361.0 103.0,360.0 103.5,359.0 104.0,358.0 104.5,356.9 105.0,355.7 105.5,354.5 106.0,353.2 106.5,351.9 107.0,350.5 107.5,349.1 108.0,347.7 108.5,346.1 109.0,344.6 109.5,343.0 110.0,341.3 110.5,339.6 111.0,337.9 111.5,336.1 112.0,334.3 112.5,332.5 113.0,330.7 113.5,328.8 114.0,326.9 114.5,325.0 115.0,323.0 115.5,321.1 116.0,319.2 116.5,317.2 117.0,315.3 117.5,313.4 118.0,311.5 118.5,309.7 119.0,307.9 119.5,306.1 120.0,304.4 120.5,302.7 121.0,301.1 121.5,299.6 122.0,298.1 122.5,296.7 123.0,295.4 123.5,294.2 124.0,293.1 124.5,292.1 125.0,291.3 125.5,290.5 126.0,289.8 126.5,289.3 127.0,288.8 127.5,288.5 128.0,288.3 128.5,288.3 129.0,288.3 129.5,288.5 130.0,288.8 130.5,289.3 131.0,289.8 131.5,290.5 132.0,291.2 132.5,292.1 133.0,293.1 133.5,294.2 134.0,295.4 134.5,296.6 135.0,298.0 135.5,299.4 136.0,300.9 136.5,302.5 137.0,304.1 137.5,305.7 138.0,307.4 138.5,309.2 139.0,310.9 139.5,312.7 140.0,314.5 140.5,316.4 141.0,318.2 141.5,320.0 142.0,321.9 142.5,323.7 143.0,325.5 143.5,327.3 144.0,329.0 144.5,330.8 145.0,332.5 145.5,334.2 146.0,335.8 146.5,337.4 147.0,338.9 147.5,340.4 148.0,341.9 148.5,343.3 149.0,344.7 149.5,346.0 150.0,347.3 150.5,348.5 151.0,349.6 151.5,350.7 152.0,351.8 152.5,352.8 153.0,353.8 153.5,354.7 154.0,355.5 154.5,356.3 155.0,357.1 155.5,357.8 156.0,358.5 156.5,359.1 157.0,359.7 157.5,360.2 158.0,360.8 158.5,361.2 159.0,361.7 159.5,362.1 160.0,362.5 160.5,362.8 161.0,363.2 161.5,363.5 162.0,363.7 162.5,364.0 163.0,364.2 163.5,364.4 164.0,364.6 164.5,364.8 165.0,365.0 165.5,365.1 166.0,365.3 166.5,365.4 167.0,365.5 167.5,365.6 168.0,365.7 168.5,365.8 169.0,365.8 169.5,365.9 170.0,366.0 170.5,366.0 171.0,366.1 171.5,366.1 172.0,366.1 172.5,366.2 173.0,366.2 173.5,366.2 174.0,366.3 174.5,366.3 175.0,366.3 175.5,366.3 176.0,366.4 176.5,366.4 177.0,366.4 177.5,366.4 178.0,366.5 178.5,366.5 179.0,366.5 179.5,366.5 180.0,366.5 180.5,366.6 181.0,366.6 181.5,366.6 182.0,366.6 182.5,366.7 183.0,366.7 183.5,366.7 184.0,366.7 184.5,366.8 185.0,366.8 185.5,366.9 186.0,366.9 186.5,366.9 187.0,367.0 187.5,367.0 188.0,367.1 188.5,367.1 189.0,367.1" fill="none" stroke="#ca4a54" stroke-width="1.2" stroke-linejoin="round"/>
<polyline points="75.5,373.9 76.1,373.8 77.0,373.6 78.1,373.5 79.2,373.3 80.3,373.0 81.3,372.8 82.2,372.5 83.0,372.3 83.8,372.0 84.5,371.7 85.3,371.3 86.0,371.0 86.7,370.6 87.4,370.3 88.0,369.9 88.7,369.4 89.3,369.0 90.0,368.5 90.7,368.0 91.4,367.4 92.0,366.8 92.7,366.1 93.4,365.5 94.0,364.8 94.6,364.1 95.2,363.4 95.8,362.7 96.3,361.9 96.9,361.2 97.4,360.4 97.9,359.6 98.3,358.8 98.7,358.0 99.1,357.1 99.5,356.2 100.0,355.3 100.5,354.3 101.0,353.3 101.6,352.3 102.1,351.2 102.7,350.0 103.2,348.8 103.7,347.6 104.1,346.4 104.6,345.2 105.1,343.9 105.6,342.3 106.1,340.5 106.7,338.4 107.4,335.9 108.1,333.3 108.8,330.6 109.5,327.8 110.1,325.2 110.7,322.7 111.3,320.1 111.9,317.5 112.4,315.0 113.0,312.5 113.5,310.0 114.0,307.6 114.5,305.2 114.9,302.8 115.4,300.4 115.9,298.0 116.4,295.5 117.0,292.9 117.6,290.2 118.3,287.4 118.9,284.8 119.5,282.2 120.1,280.0 120.6,278.0 121.0,276.3 121.3,274.8 121.7,273.3 122.1,271.9 122.5,270.5 123.0,269.1 123.5,267.7 124.0,266.4 124.5,265.2 125.0,264.0 125.5,263.0 126.0,262.1 126.5,261.3 126.9,260.6 127.4,260.0 127.9,259.5 128.3,259.0 128.7,258.6 129.1,258.4 129.6,258.2 130.0,258.0 130.4,258.0 130.8,257.9 131.2,257.9 131.7,257.9 132.1,257.9 132.6,258.0 133.0,258.1 133.5,258.3 134.0,258.5 134.5,258.7 135.0,259.0 135.5,259.3 136.0,259.6 136.5,260.0 137.0,260.4 137.5,260.9 138.0,261.4 138.5,261.9 139.0,262.4 139.5,263.0 140.0,263.6 140.5,264.2 141.0,264.9 141.5,265.6 142.0,266.3 142.5,267.0 142.9,267.7 143.4,268.4 143.8,269.1 144.2,269.9 144.6,270.7 145.0,271.5 145.4,272.4 145.8,273.3 146.2,274.3 146.6,275.3 146.9,276.4 147.3,277.5 147.6,278.6 148.0,279.8 148.3,281.0 148.6,282.3 148.9,283.6 149.2,285.0 149.5,286.5 149.9,288.1 150.2,289.8 150.5,291.5 150.9,293.2 151.2,295.0 151.5,296.8 151.8,298.6 152.1,300.5 152.4,302.4 152.7,304.2 153.0,306.0 153.3,307.7 153.5,309.4 153.8,311.1 154.1,312.7 154.3,314.3 154.6,316.0 154.9,317.7 155.1,319.4 155.4,321.1 155.7,322.8 155.9,324.4 156.2,326.0 156.5,327.5 156.7,328.9 157.0,330.2 157.3,331.5 157.5,332.8 157.8,334.0 158.1,335.2 158.4,336.3 158.6,337.4 158.9,338.4 159.2,339.5 159.5,340.5 159.8,341.5 160.1,342.6 160.4,343.6 160.7,344.6 161.0,345.6 161.3,346.5 161.6,347.4 162.0,348.3 162.4,349.1 162.7,349.9 163.1,350.7 163.5,351.5 163.9,352.3 164.3,353.1 164.7,353.8 165.1,354.6 165.6,355.3 166.0,356.0 166.5,356.7 167.0,357.3 167.5,357.9 168.0,358.4 168.5,359.0 169.0,359.5 169.5,360.0 170.0,360.4 170.5,360.9 171.0,361.3 171.5,361.6 172.0,362.0 172.5,362.3 173.0,362.6 173.4,362.9 173.9,363.1 174.4,363.4 175.0,363.6 175.6,363.8 176.3,364.1 176.9,364.3 177.6,364.6 178.3,364.8 179.0,365.0 179.6,365.2 180.3,365.4 180.9,365.5 181.5,365.7 182.2,365.8 183.0,366.0 184.0,366.2 185.1,366.4 186.2,366.7 187.4,366.9 188.3,367.1 189.0,367.2" fill="none" stroke="#9c5e2a" stroke-width="1.2" stroke-linejoin="round"/>
<polyline points="186.0,367.2 186.3,367.3 186.8,367.4 187.3,367.6 187.9,367.7 188.5,367.8 189.0,367.9 189.5,367.9 189.9,367.9 190.3,367.8 190.7,367.8 191.1,367.6 191.5,367.5 191.9,367.3 192.2,367.1 192.5,366.8 192.9,366.5 193.2,366.2 193.5,365.9 193.8,365.6 194.1,365.3 194.4,365.0 194.7,364.7 195.0,364.4 195.4,364.0 195.8,363.5 196.2,363.0 196.6,362.5 197.0,361.9 197.5,361.4 198.0,360.8 198.6,360.2 199.2,359.6 199.9,359.0 200.5,358.4 201.2,357.9 201.8,357.4 202.4,357.0 202.9,356.6 203.4,356.3 203.9,356.1 204.5,355.8 205.0,355.6 205.6,355.4 206.3,355.2 207.0,355.1 207.7,355.0 208.2,354.9 208.6,354.8" fill="none" stroke="#9c5e2a" stroke-width="1.3" stroke-linejoin="round"/>
<polyline points="186.0,367.2 186.3,367.3 186.8,367.4 187.3,367.6 187.9,367.7 188.5,367.8 189.0,367.9 189.5,367.9 189.9,367.9 190.3,367.8 190.7,367.8 191.1,367.6 191.5,367.5 191.9,367.3 192.2,367.1 192.5,366.8 192.9,366.5 193.2,366.2 193.5,365.9 193.8,365.6 194.1,365.3 194.4,365.0 194.7,364.7 195.0,364.4 195.4,364.0 195.8,363.5 196.2,363.0 196.6,362.5 197.0,361.9 197.5,361.4 198.0,360.8 198.6,360.2 199.2,359.6 199.9,359.0 200.5,358.4 201.2,357.9 201.8,357.4 202.4,357.0 202.9,356.6 203.4,356.3 203.9,356.1 204.5,355.8 205.0,355.6 205.6,355.4 206.3,355.2 207.0,355.1 207.7,355.0 208.2,354.9 208.6,354.8" fill="none" stroke="#f01c1c" stroke-width="1.2" stroke-linejoin="round"/>
<rect x="26.3" y="240.2" width="182.4" height="141.1" fill="none" stroke="#4d4d4d" stroke-width="1.3"/>
<line x1="23.1" y1="371.6" x2="26.3" y2="371.6" stroke="#4d4d4d" stroke-width="1.0"/>
<line x1="23.1" y1="347.9" x2="26.3" y2="347.9" stroke="#4d4d4d" stroke-width="1.0"/>
<line x1="23.1" y1="324.2" x2="26.3" y2="324.2" stroke="#4d4d4d" stroke-width="1.0"/>
<line x1="23.1" y1="300.4" x2="26.3" y2="300.4" stroke="#4d4d4d" stroke-width="1.0"/>
<line x1="23.1" y1="276.7" x2="26.3" y2="276.7" stroke="#4d4d4d" stroke-width="1.0"/>
<line x1="23.1" y1="253.0" x2="26.3" y2="253.0" stroke="#4d4d4d" stroke-width="1.0"/>
<line x1="35.6" y1="381.3" x2="35.6" y2="385.7" stroke="#4d4d4d" stroke-width="1.1"/>
<line x1="71.9" y1="381.3" x2="71.9" y2="385.7" stroke="#4d4d4d" stroke-width="1.1"/>
<line x1="108.2" y1="381.3" x2="108.2" y2="385.7" stroke="#4d4d4d" stroke-width="1.1"/>
<line x1="144.6" y1="381.3" x2="144.6" y2="385.7" stroke="#4d4d4d" stroke-width="1.1"/>
<line x1="180.9" y1="381.3" x2="180.9" y2="385.7" stroke="#4d4d4d" stroke-width="1.1"/>
<circle cx="99.4" cy="233.6" r="0.45" fill="#777"/>
<polyline points="270.4,373.8 270.9,373.8 271.4,373.8 271.9,373.8 272.4,373.8 272.9,373.8 273.4,373.8 273.9,373.8 274.4,373.8 274.9,373.8 275.4,373.8 275.9,373.8 276.4,373.7 276.9,373.7 277.4,373.6 277.9,373.6 278.4,373.5 278.9,373.4 279.4,373.3 279.9,373.2 280.4,373.1 280.9,373.0 281.4,372.8 281.9,372.7 282.4,372.5 282.9,372.4 283.4,372.2 283.9,372.0 284.4,371.8 284.9,371.7 285.4,371.5 285.9,371.3 286.4,371.1 286.9,371.0 287.4,370.8 287.9,370.6 288.4,370.4 288.9,370.3 289.4,370.1 289.9,369.9 290.4,369.7 290.9,369.6 291.4,369.4 291.9,369.2 292.4,369.0 292.9,368.8 293.4,368.7 293.9,368.5 294.4,368.3 294.9,368.1 295.4,367.9 295.9,367.8 296.4,367.6 296.9,367.4 297.4,367.2 297.9,367.0 298.4,366.8 298.9,366.6 299.4,366.4 299.9,366.2 300.4,365.9 300.9,365.7 301.4,365.5 301.9,365.2 302.4,365.0 302.9,364.7 303.4,364.5 303.9,364.2 304.4,363.9 304.9,363.7 305.4,363.4 305.9,363.1 306.4,362.8 306.9,362.5 307.4,362.3 307.9,362.0 308.4,361.7 308.9,361.5 309.4,361.2 309.9,361.0 310.4,360.7 310.9,360.5 311.4,360.3 311.9,360.0 312.4,359.8 312.9,359.6 313.4,359.3 313.9,359.1 314.4,358.8 314.9,358.6 315.4,358.3 315.9,358.1 316.4,357.8 316.9,357.6 317.4,357.3 317.9,357.0 318.4,356.8 318.9,356.5 319.4,356.2 319.9,355.9 320.4,355.7 320.9,355.4 321.4,355.1 321.9,354.8 322.4,354.5 322.9,354.2 323.4,353.9 323.9,353.6 324.4,353.3 324.9,353.0 325.4,352.7 325.9,352.4 326.4,352.1 326.9,351.8 327.4,351.5 327.9,351.2 328.4,350.8 328.9,350.5 329.4,350.2 329.9,349.9 330.4,349.6 330.9,349.3 331.4,349.0 331.9,348.7 332.4,348.4 332.9,348.1 333.4,347.8 333.9,347.5 334.4,347.2 334.9,346.9 335.4,346.6 335.9,346.3 336.4,346.0 336.9,345.8 337.4,345.5 337.9,345.2 338.4,344.9 338.9,344.7 339.4,344.4 339.9,344.1 340.4,343.9 340.9,343.6 341.4,343.4 341.9,343.1 342.4,342.8 342.9,342.6 343.4,342.3 343.9,342.1 344.4,341.8 344.9,341.5 345.4,341.3 345.9,341.0 346.4,340.7 346.9,340.5 347.4,340.2 347.9,339.9 348.4,339.7 348.9,339.4 349.4,339.1 349.9,338.8 350.4,338.5 350.9,338.2 351.4,337.9 351.9,337.6 352.4,337.3 352.9,337.0 353.4,336.6 353.9,336.2 354.4,335.9 354.9,335.5 355.4,335.1 355.9,334.7 356.4,334.3 356.9,333.9 357.4,333.5 357.9,333.2 358.4,332.8 358.9,332.4 359.4,332.0 359.9,331.6 360.4,331.2 360.9,330.8 361.4,330.4 361.9,330.0 362.4,329.6 362.9,329.2 363.4,328.8 363.9,328.3 364.4,327.9 364.9,327.4 365.4,326.9 365.9,326.4 366.4,325.9 366.9,325.3 367.4,324.8 367.9,324.2 368.4,323.7 368.9,323.1 369.4,322.5 369.9,321.9 370.4,321.3 370.9,320.7 371.4,320.1 371.9,319.5 372.4,318.9 372.9,318.2 373.4,317.6 373.9,316.9 374.4,316.3 374.9,315.6 375.4,315.0 375.9,314.3 376.4,313.6 376.9,313.0 377.4,312.3 377.9,311.6 378.4,310.9 378.9,310.2 379.4,309.4 379.9,308.7 380.4,308.0 380.9,307.3 381.4,306.6 381.9,305.9 382.4,305.2 382.9,304.5 383.4,303.8 383.9,303.1 384.4,302.5 384.9,301.8 385.4,301.1 385.9,300.4 386.4,299.7 386.9,299.0 387.4,298.3 387.9,297.6 388.4,297.0 388.9,296.3 389.4,295.6 389.9,294.9 390.4,294.2 390.9,293.6 391.4,292.9 391.9,292.3 392.4,291.6 392.9,291.0 393.4,290.4 393.9,289.8 394.4,289.2 394.9,288.6 395.4,288.0 395.9,287.4 396.4,286.8 396.9,286.3 397.4,285.7 397.9,285.1 398.4,284.4 398.9,283.8 399.4,283.2 399.9,282.6 400.4,282.0 400.9,281.5 401.4,281.0 401.9,280.6 402.4,280.2 402.9,279.8 403.4,279.5 403.9,279.1 404.4,278.8 404.9,278.4 405.4,278.0 405.9,277.6 406.4,277.3 406.9,276.9 407.4,276.6 407.9,276.3 408.4,276.0 408.9,275.8 409.4,275.6 409.9,275.4 410.4,275.3 410.9,275.3 411.4,275.2 411.9,275.1 412.4,275.1 412.9,275.0 413.4,275.0 413.9,274.9 414.4,274.8 414.9,274.7 415.4,274.7 415.9,274.6 416.4,274.5 416.9,274.5 417.4,274.4 417.9,274.4 418.4,274.3 418.9,274.2 419.4,274.2 419.9,274.1 420.4,274.1 420.9,274.0 421.4,273.9 421.9,273.9 422.4,273.9 422.9,273.8 423.4,273.8 423.9,273.8 424.4,273.7 424.9,273.7 425.4,273.7 425.9,273.6 426.4,273.6 426.9,273.6 427.4,273.5 427.9,273.5 428.4,273.5 428.9,273.4 429.4,273.4 429.9,273.3 430.4,273.2 430.9,273.0 431.4,272.8" fill="none" stroke="#4f8ad6" stroke-width="1.25" stroke-linejoin="round"/>
<polyline points="270.4,373.4 270.9,373.4 271.4,373.4 271.9,373.4 272.4,373.4 272.9,373.4 273.4,373.4 273.9,373.4 274.4,373.4 274.9,373.4 275.4,373.3 275.9,373.3 276.4,373.3 276.9,373.2 277.4,373.2 277.9,373.1 278.4,373.0 278.9,372.9 279.4,372.8 279.9,372.7 280.4,372.6 280.9,372.5 281.4,372.3 281.9,372.2 282.4,372.0 282.9,371.8 283.4,371.6 283.9,371.5 284.4,371.3 284.9,371.1 285.4,370.9 285.9,370.7 286.4,370.5 286.9,370.3 287.4,370.2 287.9,370.0 288.4,369.8 288.9,369.6 289.4,369.4 289.9,369.2 290.4,369.0 290.9,368.8 291.4,368.7 291.9,368.5 292.4,368.3 292.9,368.1 293.4,367.9 293.9,367.7 294.4,367.5 294.9,367.3 295.4,367.1 295.9,366.9 296.4,366.6 296.9,366.4 297.4,366.2 297.9,366.0 298.4,365.8 298.9,365.5 299.4,365.3 299.9,365.0 300.4,364.8 300.9,364.5 301.4,364.2 301.9,364.0 302.4,363.7 302.9,363.4 303.4,363.0 303.9,362.7 304.4,362.4 304.9,362.1 305.4,361.7 305.9,361.4 306.4,361.1 306.9,360.7 307.4,360.4 307.9,360.1 308.4,359.7 308.9,359.4 309.4,359.0 309.9,358.7 310.4,358.4 310.9,358.1 311.4,357.7 311.9,357.4 312.4,357.1 312.9,356.8 313.4,356.4 313.9,356.1 314.4,355.7 314.9,355.4 315.4,355.0 315.9,354.6 316.4,354.2 316.9,353.9 317.4,353.5 317.9,353.1 318.4,352.7 318.9,352.3 319.4,351.9 319.9,351.4 320.4,351.0 320.9,350.6 321.4,350.2 321.9,349.7 322.4,349.3 322.9,348.9 323.4,348.4 323.9,348.0 324.4,347.5 324.9,347.1 325.4,346.7 325.9,346.2 326.4,345.8 326.9,345.4 327.4,344.9 327.9,344.5 328.4,344.1 328.9,343.7 329.4,343.3 329.9,342.9 330.4,342.5 330.9,342.1 331.4,341.7 331.9,341.4 332.4,341.0 332.9,340.6 333.4,340.3 333.9,340.0 334.4,339.6 334.9,339.3 335.4,339.0 335.9,338.7 336.4,338.4 336.9,338.2 337.4,337.9 337.9,337.7 338.4,337.5 338.9,337.2 339.4,337.0 339.9,336.8 340.4,336.6 340.9,336.5 341.4,336.3 341.9,336.1 342.4,336.0 342.9,335.8 343.4,335.6 343.9,335.5 344.4,335.3 344.9,335.2 345.4,335.0 345.9,334.9 346.4,334.7 346.9,334.6 347.4,334.4 347.9,334.3 348.4,334.1 348.9,334.0 349.4,333.8 349.9,333.7 350.4,333.5 350.9,333.3 351.4,333.1 351.9,332.9 352.4,332.7 352.9,332.5 353.4,332.3 353.9,332.1 354.4,331.8 354.9,331.5 355.4,331.2 355.9,331.0 356.4,330.7 356.9,330.4 357.4,330.1 357.9,329.8 358.4,329.6 358.9,329.3 359.4,329.0 359.9,328.7 360.4,328.4 360.9,328.1 361.4,327.8 361.9,327.5 362.4,327.1 362.9,326.8 363.4,326.4 363.9,326.1 364.4,325.7 364.9,325.3 365.4,324.9 365.9,324.4 366.4,324.0 366.9,323.5 367.4,323.0 367.9,322.5 368.4,322.0 368.9,321.5 369.4,321.0 369.9,320.4 370.4,319.9 370.9,319.3 371.4,318.7 371.9,318.2 372.4,317.6 372.9,317.0 373.4,316.4 373.9,315.8 374.4,315.2 374.9,314.5 375.4,313.9 375.9,313.3 376.4,312.6 376.9,312.0 377.4,311.3 377.9,310.6 378.4,310.0 378.9,309.3 379.4,308.6 379.9,307.9 380.4,307.2 380.9,306.5 381.4,305.8 381.9,305.2 382.4,304.5 382.9,303.8 383.4,303.1 383.9,302.5 384.4,301.8 384.9,301.1 385.4,300.4 385.9,299.8 386.4,299.1 386.9,298.4 387.4,297.7 387.9,297.1 388.4,296.4 388.9,295.7 389.4,295.1 389.9,294.4 390.4,293.7 390.9,293.1 391.4,292.4 391.9,291.8 392.4,291.1 392.9,290.5 393.4,289.9 393.9,289.3 394.4,288.7 394.9,288.1 395.4,287.6 395.9,287.0 396.4,286.4 396.9,285.8 397.4,285.3 397.9,284.7 398.4,284.0 398.9,283.4 399.4,282.8 399.9,282.2 400.4,281.6 400.9,281.1 401.4,280.6 401.9,280.2 402.4,279.8 402.9,279.5 403.4,279.1 403.9,278.8 404.4,278.4 404.9,278.1 405.4,277.7 405.9,277.3 406.4,276.9 406.9,276.6 407.4,276.3 407.9,275.9 408.4,275.7 408.9,275.5 409.4,275.3 409.9,275.1 410.4,275.0 410.9,275.0 411.4,274.9 411.9,274.9 412.4,274.8 412.9,274.8 413.4,274.7 413.9,274.6 414.4,274.5 414.9,274.5 415.4,274.4 415.9,274.4 416.4,274.3 416.9,274.2 417.4,274.2 417.9,274.1 418.4,274.1 418.9,274.0 419.4,273.9 419.9,273.9 420.4,273.8 420.9,273.8 421.4,273.7 421.9,273.7 422.4,273.6 422.9,273.6 423.4,273.6 423.9,273.5 424.4,273.5 424.9,273.5 425.4,273.5 425.9,273.4 426.4,273.4 426.9,273.4 427.4,273.3 427.9,273.3 428.4,273.3 428.9,273.2 429.4,273.2 429.9,273.1 430.4,273.0 430.9,272.8 431.4,272.6" fill="none" stroke="#8c6cc8" stroke-width="1.25" stroke-linejoin="round"/>
<polyline points="270.4,370.5 270.9,370.4 271.4,370.3 271.9,370.2 272.4,370.1 272.9,370.0 273.4,369.8 273.9,369.7 274.4,369.6 274.9,369.4 275.4,369.2 275.9,369.1 276.4,368.9 276.9,368.7 277.4,368.4 277.9,368.2 278.4,368.0 278.9,367.7 279.4,367.4 279.9,367.1 280.4,366.8 280.9,366.5 281.4,366.2 281.9,365.9 282.4,365.5 282.9,365.1 283.4,364.7 283.9,364.3 284.4,363.9 284.9,363.5 285.4,363.1 285.9,362.7 286.4,362.3 286.9,361.9 287.4,361.5 287.9,361.1 288.4,360.7 288.9,360.3 289.4,359.9 289.9,359.5 290.4,359.1 290.9,358.6 291.4,358.2 291.9,357.8 292.4,357.4 292.9,356.9 293.4,356.5 293.9,356.1 294.4,355.6 294.9,355.2 295.4,354.8 295.9,354.4 296.4,353.9 296.9,353.5 297.4,353.1 297.9,352.6 298.4,352.2 298.9,351.8 299.4,351.3 299.9,350.9 300.4,350.5 300.9,350.0 301.4,349.6 301.9,349.1 302.4,348.7 302.9,348.2 303.4,347.8 303.9,347.3 304.4,346.9 304.9,346.4 305.4,346.0 305.9,345.6 306.4,345.1 306.9,344.7 307.4,344.3 307.9,343.9 308.4,343.5 308.9,343.2 309.4,342.8 309.9,342.5 310.4,342.2 310.9,341.9 311.4,341.6 311.9,341.3 312.4,341.0 312.9,340.8 313.4,340.5 313.9,340.3 314.4,340.0 314.9,339.8 315.4,339.5 315.9,339.3 316.4,339.1 316.9,338.9 317.4,338.7 317.9,338.5 318.4,338.3 318.9,338.1 319.4,337.9 319.9,337.8 320.4,337.6 320.9,337.4 321.4,337.3 321.9,337.1 322.4,337.0 322.9,336.8 323.4,336.7 323.9,336.6 324.4,336.4 324.9,336.3 325.4,336.2 325.9,336.1 326.4,336.0 326.9,335.9 327.4,335.8 327.9,335.7 328.4,335.6 328.9,335.5 329.4,335.4 329.9,335.3 330.4,335.3 330.9,335.2 331.4,335.1 331.9,335.0 332.4,335.0 332.9,334.9 333.4,334.8 333.9,334.8 334.4,334.7 334.9,334.6 335.4,334.6 335.9,334.5 336.4,334.4 336.9,334.4 337.4,334.3 337.9,334.3 338.4,334.3 338.9,334.2 339.4,334.2 339.9,334.2 340.4,334.1 340.9,334.1 341.4,334.1 341.9,334.0 342.4,334.0 342.9,333.9 343.4,333.9 343.9,333.8 344.4,333.8 344.9,333.7 345.4,333.6 345.9,333.6 346.4,333.5 346.9,333.4 347.4,333.4 347.9,333.3 348.4,333.2 348.9,333.1 349.4,333.0 349.9,332.9 350.4,332.8 350.9,332.6 351.4,332.5 351.9,332.3 352.4,332.2 352.9,332.0 353.4,331.8 353.9,331.6 354.4,331.3 354.9,331.1 355.4,330.9 355.9,330.6 356.4,330.3 356.9,330.1 357.4,329.8 357.9,329.5 358.4,329.3 358.9,329.0 359.4,328.7 359.9,328.5 360.4,328.2 360.9,327.9 361.4,327.6 361.9,327.3 362.4,327.0 362.9,326.6 363.4,326.3 363.9,325.9 364.4,325.5 364.9,325.1 365.4,324.7 365.9,324.3 366.4,323.9 366.9,323.4 367.4,322.9 367.9,322.4 368.4,321.9 368.9,321.4 369.4,320.9 369.9,320.4 370.4,319.8 370.9,319.3 371.4,318.7 371.9,318.1 372.4,317.5 372.9,316.9 373.4,316.3 373.9,315.7 374.4,315.1 374.9,314.5 375.4,313.9 375.9,313.3 376.4,312.6 376.9,312.0 377.4,311.3 377.9,310.6 378.4,310.0 378.9,309.3 379.4,308.6 379.9,307.9 380.4,307.2 380.9,306.5 381.4,305.8 381.9,305.2 382.4,304.5 382.9,303.8 383.4,303.1 383.9,302.5 384.4,301.8 384.9,301.1 385.4,300.4 385.9,299.8 386.4,299.1 386.9,298.4 387.4,297.8 387.9,297.1 388.4,296.4 388.9,295.7 389.4,295.1 389.9,294.4 390.4,293.7 390.9,293.1 391.4,292.4 391.9,291.8 392.4,291.1 392.9,290.5 393.4,289.9 393.9,289.3 394.4,288.7 394.9,288.2 395.4,287.6 395.9,287.0 396.4,286.4 396.9,285.9 397.4,285.3 397.9,284.7 398.4,284.1 398.9,283.4 399.4,282.8 399.9,282.2 400.4,281.7 400.9,281.1 401.4,280.7 401.9,280.2 402.4,279.8 402.9,279.5 403.4,279.1 403.9,278.8 404.4,278.4 404.9,278.1 405.4,277.7 405.9,277.3 406.4,276.9 406.9,276.6 407.4,276.3 407.9,275.9 408.4,275.7 408.9,275.5 409.4,275.3 409.9,275.1 410.4,275.0 410.9,275.0 411.4,274.9 411.9,274.9 412.4,274.8 412.9,274.8 413.4,274.7 413.9,274.6 414.4,274.5 414.9,274.5 415.4,274.4 415.9,274.3 416.4,274.3 416.9,274.2 417.4,274.2 417.9,274.1 418.4,274.0 418.9,274.0 419.4,273.9 419.9,273.9 420.4,273.8 420.9,273.8 421.4,273.7 421.9,273.7 422.4,273.6 422.9,273.6 423.4,273.6 423.9,273.5 424.4,273.5 424.9,273.5 425.4,273.4 425.9,273.4 426.4,273.4 426.9,273.3 427.4,273.3 427.9,273.3 428.4,273.2 428.9,273.2 429.4,273.2 429.9,273.1 430.4,273.0 430.9,272.8 431.4,272.6" fill="none" stroke="#ca4a54" stroke-width="1.15" stroke-linejoin="round"/>
<polyline points="270.4,373.6 270.9,373.6 271.4,373.7 271.9,373.7 272.4,373.7 272.9,373.7 273.4,373.7 273.9,373.7 274.4,373.7 274.9,373.7 275.4,373.7 275.9,373.6 276.4,373.6 276.9,373.6 277.4,373.5 277.9,373.4 278.4,373.4 278.9,373.3 279.4,373.2 279.9,373.1 280.4,373.0 280.9,372.9 281.4,372.7 281.9,372.6 282.4,372.5 282.9,372.3 283.4,372.1 283.9,371.9 284.4,371.8 284.9,371.6 285.4,371.4 285.9,371.2 286.4,371.1 286.9,370.9 287.4,370.7 287.9,370.6 288.4,370.4 288.9,370.3 289.4,370.1 289.9,369.9 290.4,369.8 290.9,369.6 291.4,369.4 291.9,369.3 292.4,369.1 292.9,368.9 293.4,368.8 293.9,368.6 294.4,368.4 294.9,368.3 295.4,368.1 295.9,367.9 296.4,367.8 296.9,367.6 297.4,367.4 297.9,367.3 298.4,367.1 298.9,366.9 299.4,366.7 299.9,366.5 300.4,366.3 300.9,366.1 301.4,365.9 301.9,365.7 302.4,365.5 302.9,365.2 303.4,365.0 303.9,364.8 304.4,364.5 304.9,364.3 305.4,364.0 305.9,363.8 306.4,363.5 306.9,363.3 307.4,363.0 307.9,362.8 308.4,362.6 308.9,362.3 309.4,362.1 309.9,361.9 310.4,361.7 310.9,361.4 311.4,361.2 311.9,361.0 312.4,360.8 312.9,360.6 313.4,360.4 313.9,360.2 314.4,360.0 314.9,359.8 315.4,359.5 315.9,359.3 316.4,359.0 316.9,358.8 317.4,358.5 317.9,358.3 318.4,358.0 318.9,357.8 319.4,357.5 319.9,357.2 320.4,357.0 320.9,356.7 321.4,356.4 321.9,356.1 322.4,355.8 322.9,355.5 323.4,355.2 323.9,354.9 324.4,354.6 324.9,354.2 325.4,353.9 325.9,353.6 326.4,353.3 326.9,352.9 327.4,352.6 327.9,352.3 328.4,351.9 328.9,351.6 329.4,351.3 329.9,350.9 330.4,350.6 330.9,350.2 331.4,349.9 331.9,349.5 332.4,349.2 332.9,348.8 333.4,348.5 333.9,348.1 334.4,347.8 334.9,347.4 335.4,347.0 335.9,346.7 336.4,346.3 336.9,346.0 337.4,345.6 337.9,345.2 338.4,344.9 338.9,344.5 339.4,344.2 339.9,343.8 340.4,343.5 340.9,343.1 341.4,342.8 341.9,342.4 342.4,342.0 342.9,341.6 343.4,341.3 343.9,340.9 344.4,340.5 344.9,340.1 345.4,339.6 345.9,339.2 346.4,338.8 346.9,338.3 347.4,337.9 347.9,337.4 348.4,336.9 348.9,336.4 349.4,335.9 349.9,335.4 350.4,334.9 350.9,334.3 351.4,333.7 351.9,333.1 352.4,332.5 352.9,331.9 353.4,331.2 353.9,330.5 354.4,329.7 354.9,329.0 355.4,328.2 355.9,327.4 356.4,326.6 356.9,325.8 357.4,324.9 357.9,324.1 358.4,323.2 358.9,322.3 359.4,321.5 359.9,320.6 360.4,319.7 360.9,318.7 361.4,317.8 361.9,316.9 362.4,315.9 362.9,315.0 363.4,314.0 363.9,313.1 364.4,312.1 364.9,311.2 365.4,310.2 365.9,309.3 366.4,308.4 366.9,307.5 367.4,306.7 367.9,305.9 368.4,305.1 368.9,304.3 369.4,303.7 369.9,303.0 370.4,302.4 370.9,301.9 371.4,301.4 371.9,301.0 372.4,300.6 372.9,300.2 373.4,299.9 373.9,299.6 374.4,299.4 374.9,299.2 375.4,298.9 375.9,298.8 376.4,298.6 376.9,298.4 377.4,298.2 377.9,298.0 378.4,297.8 378.9,297.6 379.4,297.4 379.9,297.2 380.4,297.0 380.9,296.8 381.4,296.6 381.9,296.4 382.4,296.1 382.9,295.9 383.4,295.6 383.9,295.3 384.4,295.0 384.9,294.7 385.4,294.4 385.9,294.0 386.4,293.7 386.9,293.3 387.4,292.9 387.9,292.5 388.4,292.1 388.9,291.7 389.4,291.2 389.9,290.8 390.4,290.3 390.9,289.8 391.4,289.4 391.9,288.9 392.4,288.4 392.9,287.9 393.4,287.5 393.9,287.0 394.4,286.5 394.9,286.1 395.4,285.6 395.9,285.1 396.4,284.6 396.9,284.1 397.4,283.6 397.9,283.1 398.4,282.6 398.9,282.0 399.4,281.5 399.9,280.9 400.4,280.4 400.9,279.9 401.4,279.5 401.9,279.1 402.4,278.8 402.9,278.4 403.4,278.1 403.9,277.8 404.4,277.5 404.9,277.2 405.4,276.8 405.9,276.5 406.4,276.1 406.9,275.8 407.4,275.5 407.9,275.2 408.4,275.0 408.9,274.8 409.4,274.6 409.9,274.5 410.4,274.4 410.9,274.4 411.4,274.3 411.9,274.3 412.4,274.3 412.9,274.2 413.4,274.2 413.9,274.1 414.4,274.0 414.9,274.0 415.4,273.9 415.9,273.9 416.4,273.8 416.9,273.8 417.4,273.7 417.9,273.7 418.4,273.6 418.9,273.6 419.4,273.5 419.9,273.5 420.4,273.5 420.9,273.4 421.4,273.4 421.9,273.3 422.4,273.3 422.9,273.3 423.4,273.2 423.9,273.2 424.4,273.2 424.9,273.2 425.4,273.2 425.9,273.1 426.4,273.1 426.9,273.1 427.4,273.1 427.9,273.0 428.4,273.0 428.9,273.0 429.4,272.9 429.9,272.9 430.4,272.8 430.9,272.6 431.4,272.4" fill="none" stroke="#8fbf4a" stroke-width="1.25" stroke-linejoin="round"/>
<polyline points="270.4,373.8 270.9,373.8 271.4,373.8 271.9,373.8 272.4,373.8 272.9,373.8 273.4,373.8 273.9,373.8 274.4,373.8 274.9,373.8 275.4,373.8 275.9,373.8 276.4,373.8 276.9,373.7 277.4,373.7 277.9,373.6 278.4,373.5 278.9,373.5 279.4,373.4 279.9,373.3 280.4,373.2 280.9,373.0 281.4,372.9 281.9,372.8 282.4,372.6 282.9,372.5 283.4,372.3 283.9,372.1 284.4,371.9 284.9,371.8 285.4,371.6 285.9,371.4 286.4,371.3 286.9,371.1 287.4,370.9 287.9,370.8 288.4,370.6 288.9,370.5 289.4,370.3 289.9,370.1 290.4,370.0 290.9,369.8 291.4,369.7 291.9,369.5 292.4,369.3 292.9,369.2 293.4,369.0 293.9,368.8 294.4,368.7 294.9,368.5 295.4,368.4 295.9,368.2 296.4,368.0 296.9,367.9 297.4,367.7 297.9,367.5 298.4,367.4 298.9,367.2 299.4,367.0 299.9,366.8 300.4,366.6 300.9,366.4 301.4,366.2 301.9,366.0 302.4,365.8 302.9,365.5 303.4,365.3 303.9,365.1 304.4,364.8 304.9,364.6 305.4,364.4 305.9,364.1 306.4,363.9 306.9,363.6 307.4,363.4 307.9,363.2 308.4,362.9 308.9,362.7 309.4,362.5 309.9,362.3 310.4,362.0 310.9,361.8 311.4,361.6 311.9,361.4 312.4,361.2 312.9,361.0 313.4,360.8 313.9,360.6 314.4,360.4 314.9,360.2 315.4,360.0 315.9,359.7 316.4,359.5 316.9,359.3 317.4,359.0 317.9,358.8 318.4,358.5 318.9,358.3 319.4,358.0 319.9,357.8 320.4,357.5 320.9,357.2 321.4,357.0 321.9,356.7 322.4,356.4 322.9,356.1 323.4,355.8 323.9,355.5 324.4,355.2 324.9,354.9 325.4,354.6 325.9,354.3 326.4,354.0 326.9,353.7 327.4,353.3 327.9,353.0 328.4,352.7 328.9,352.4 329.4,352.1 329.9,351.8 330.4,351.4 330.9,351.1 331.4,350.8 331.9,350.5 332.4,350.1 332.9,349.8 333.4,349.5 333.9,349.2 334.4,348.8 334.9,348.5 335.4,348.2 335.9,347.8 336.4,347.5 336.9,347.2 337.4,346.9 337.9,346.6 338.4,346.3 338.9,346.0 339.4,345.7 339.9,345.4 340.4,345.1 340.9,344.8 341.4,344.5 341.9,344.2 342.4,343.9 342.9,343.6 343.4,343.3 343.9,343.0 344.4,342.7 344.9,342.4 345.4,342.1 345.9,341.8 346.4,341.5 346.9,341.2 347.4,340.9 347.9,340.6 348.4,340.2 348.9,339.9 349.4,339.6 349.9,339.3 350.4,339.0 350.9,338.7 351.4,338.3 351.9,338.0 352.4,337.6 352.9,337.3 353.4,336.9 353.9,336.5 354.4,336.1 354.9,335.7 355.4,335.3 355.9,334.8 356.4,334.4 356.9,334.0 357.4,333.6 357.9,333.2 358.4,332.8 358.9,332.4 359.4,332.0 359.9,331.6 360.4,331.2 360.9,330.7 361.4,330.3 361.9,329.9 362.4,329.5 362.9,329.0 363.4,328.6 363.9,328.1 364.4,327.6 364.9,327.1 365.4,326.6 365.9,326.1 366.4,325.5 366.9,325.0 367.4,324.4 367.9,323.8 368.4,323.2 368.9,322.6 369.4,322.0 369.9,321.4 370.4,320.7 370.9,320.1 371.4,319.4 371.9,318.7 372.4,318.0 372.9,317.3 373.4,316.6 373.9,315.9 374.4,315.1 374.9,314.3 375.4,313.5 375.9,312.7 376.4,311.8 376.9,311.0 377.4,310.0 377.9,309.1 378.4,308.1 378.9,307.0 379.4,305.9 379.9,304.8 380.4,303.6 380.9,302.4 381.4,301.1 381.9,299.8 382.4,298.4 382.9,297.0 383.4,295.5 383.9,294.0 384.4,292.5 384.9,290.8 385.4,289.2 385.9,287.5 386.4,285.8 386.9,284.1 387.4,282.3 387.9,280.6 388.4,278.9 388.9,277.2 389.4,275.5 389.9,274.0 390.4,272.4 390.9,271.0 391.4,269.7 391.9,268.5 392.4,267.4 392.9,266.5 393.4,265.8 393.9,265.2 394.4,264.8 394.9,264.5 395.4,264.4 395.9,264.3 396.4,264.4 396.9,264.6 397.4,264.9 397.9,265.2 398.4,265.6 398.9,265.9 399.4,266.4 399.9,266.8 400.4,267.3 400.9,267.8 401.4,268.3 401.9,268.9 402.4,269.4 402.9,270.0 403.4,270.5 403.9,271.0 404.4,271.4 404.9,271.7 405.4,272.0 405.9,272.2 406.4,272.4 406.9,272.6 407.4,272.7 407.9,272.8 408.4,272.9 408.9,273.0 409.4,273.1 409.9,273.2 410.4,273.3 410.9,273.5 411.4,273.6 411.9,273.7 412.4,273.8 412.9,273.8 413.4,273.8 413.9,273.9 414.4,273.9 414.9,273.9 415.4,273.8 415.9,273.8 416.4,273.8 416.9,273.8 417.4,273.8 417.9,273.7 418.4,273.7 418.9,273.7 419.4,273.6 419.9,273.6 420.4,273.6 420.9,273.5 421.4,273.5 421.9,273.5 422.4,273.4 422.9,273.4 423.4,273.4 423.9,273.4 424.4,273.3 424.9,273.3 425.4,273.3 425.9,273.3 426.4,273.3 426.9,273.2 427.4,273.2 427.9,273.2 428.4,273.2 428.9,273.1 429.4,273.1 429.9,273.0 430.4,272.9 430.9,272.7 431.4,272.5" fill="none" stroke="#a0a038" stroke-width="1.3" stroke-linejoin="round"/>
<polyline points="270.3,378.2 270.6,370.6 271.2,370.3 272.1,369.9 273.1,369.5 274.2,369.0 275.3,368.5 276.3,368.1 277.2,367.8 278.0,367.5 278.8,367.3 279.6,367.0 280.4,366.7 281.2,366.3 282.0,365.7 282.9,365.1 283.7,364.3 284.5,363.6 285.3,362.9 286.1,362.2 286.8,361.6 287.5,361.1 288.1,360.6 288.7,360.1 289.3,359.6 290.0,358.9 290.7,358.1 291.5,357.2 292.2,356.3 293.0,355.4 293.8,354.4 294.5,353.5 295.2,352.6 296.0,351.8 296.7,350.9 297.4,350.0 298.1,349.2 298.8,348.4 299.5,347.6 300.2,346.9 300.9,346.2 301.6,345.4 302.3,344.7 303.0,344.0 303.7,343.3 304.5,342.5 305.3,341.8 306.1,341.0 306.8,340.3 307.6,339.6 308.3,338.9 309.1,338.2 309.8,337.5 310.5,336.8 311.3,336.2 312.0,335.5 312.7,334.8 313.5,334.1 314.2,333.5 314.9,332.8 315.7,332.2 316.4,331.6 317.1,331.1 317.9,330.6 318.6,330.1 319.3,329.7 320.1,329.2 320.8,328.8 321.5,328.4 322.3,328.0 323.0,327.5 323.7,327.1 324.4,326.8 325.2,326.4 326.0,326.0 326.8,325.7 327.6,325.4 328.4,325.1 329.2,324.8 330.0,324.5 330.7,324.2 331.3,323.9 332.0,323.6 332.6,323.4 333.3,323.2 334.0,323.0 334.8,322.9 335.7,322.8 336.6,322.8 337.5,322.8 338.4,322.7 339.2,322.7 339.9,322.7 340.6,322.6 341.2,322.6 341.8,322.5 342.4,322.5 343.0,322.4 343.6,322.3 344.2,322.3 344.7,322.2 345.3,322.2 345.8,322.1 346.3,322.0 346.8,321.9 347.3,321.7 347.7,321.6 348.1,321.4 348.6,321.2 349.0,321.0 349.4,320.8 349.8,320.5 350.2,320.3 350.7,320.0 351.1,319.7 351.5,319.3 352.0,318.9 352.4,318.5 352.9,318.0 353.4,317.5 353.8,317.0 354.3,316.5 354.7,316.0 355.2,315.5 355.6,315.0 356.1,314.5 356.5,314.0 357.0,313.5 357.5,313.0 358.0,312.5 358.6,312.0 359.2,311.6 359.7,311.0 360.3,310.5 360.9,309.9 361.5,309.3 362.1,308.7 362.7,308.1 363.3,307.5 363.9,306.8 364.5,306.1 365.1,305.4 365.6,304.7 366.2,304.0 366.8,303.3 367.4,302.6 368.0,302.0 368.6,301.4 369.2,300.9 369.8,300.3 370.4,299.8 371.1,299.2 371.8,298.6 372.7,297.9 373.5,297.3 374.3,296.7 375.1,296.1 375.8,295.6 376.4,295.2 376.9,294.9 377.3,294.6 377.7,294.3 378.1,294.1 378.5,293.8 378.9,293.5 379.3,293.2 379.6,292.9 379.9,292.5 380.3,292.2 380.6,291.8 380.9,291.4 381.2,291.0 381.6,290.6 381.9,290.1 382.2,289.6 382.5,289.0 382.8,288.4 383.2,287.7 383.5,286.9 383.8,286.2 384.2,285.4 384.5,284.5 384.8,283.6 385.2,282.6 385.5,281.6 385.8,280.5 386.2,279.5 386.5,278.5 386.8,277.5 387.2,276.5 387.5,275.5 387.9,274.6 388.2,273.6 388.5,272.8 388.8,272.0 389.1,271.3 389.4,270.6 389.6,270.0 389.9,269.4 390.2,268.8 390.5,268.2 390.8,267.6 391.1,267.0 391.4,266.5 391.7,266.0 392.0,265.5 392.3,265.1 392.6,264.7 392.9,264.4 393.2,264.1 393.5,263.8 393.8,263.6 394.1,263.5 394.4,263.4 394.6,263.3 394.9,263.3 395.2,263.4 395.5,263.4 395.8,263.5 396.1,263.5 396.3,263.6 396.6,263.8 396.9,264.0 397.3,264.2 397.7,264.5 398.1,264.9 398.6,265.3 399.1,265.7 399.5,266.2 400.0,266.6 400.4,267.0 400.9,267.4 401.3,267.8 401.7,268.2 402.2,268.6 402.6,269.0 403.0,269.4 403.5,269.8 403.9,270.3 404.3,270.7 404.8,271.1 405.3,271.5 405.8,271.9 406.4,272.3 407.1,272.7 407.7,273.1 408.3,273.4 408.8,273.7 409.3,273.9 409.8,274.1 410.2,274.3 410.6,274.4 411.0,274.5 411.4,274.6 411.8,274.7 412.1,274.7 412.5,274.8 412.8,274.8 413.0,274.8 413.2,274.8" fill="none" stroke="#9c5e2a" stroke-width="1.3" stroke-linejoin="round"/>
<polyline points="262.3,379.6 263.3,377.3 264.9,378.7 266.2,377.1 267.3,378.0 268.2,379.1 269.5,378.5 270.0,374.5 270.4,373.8" fill="none" stroke="#f01c1c" stroke-width="1.1" stroke-linejoin="round"/>
<polyline points="270.4,373.8 270.9,373.8 271.4,373.8 271.9,373.8 272.4,373.8 272.9,373.8 273.4,373.9 273.9,373.9 274.4,373.9 274.9,373.9 275.4,373.8 275.9,373.8 276.4,373.8 276.9,373.7 277.4,373.7 277.9,373.6 278.4,373.6 278.9,373.5 279.4,373.4 279.9,373.3 280.4,373.2 280.9,373.1 281.4,372.9 281.9,372.8 282.4,372.7 282.9,372.5 283.4,372.3 283.9,372.2 284.4,372.0 284.9,371.8 285.4,371.6 285.9,371.5 286.4,371.3 286.9,371.1 287.4,371.0 287.9,370.8 288.4,370.7 288.9,370.5 289.4,370.3 289.9,370.2 290.4,370.0 290.9,369.9 291.4,369.7 291.9,369.5 292.4,369.4 292.9,369.2 293.4,369.0 293.9,368.9 294.4,368.7 294.9,368.6 295.4,368.4 295.9,368.2 296.4,368.1 296.9,367.9 297.4,367.7 297.9,367.6 298.4,367.4 298.9,367.2 299.4,367.0 299.9,366.9 300.4,366.7 300.9,366.5 301.4,366.3 301.9,366.0 302.4,365.8 302.9,365.6 303.4,365.4 303.9,365.1 304.4,364.9 304.9,364.6 305.4,364.4 305.9,364.2 306.4,363.9 306.9,363.7 307.4,363.4 307.9,363.2 308.4,363.0 308.9,362.7 309.4,362.5 309.9,362.3 310.4,362.1 310.9,361.9 311.4,361.7 311.9,361.5 312.4,361.3 312.9,361.1 313.4,360.9 313.9,360.7 314.4,360.5 314.9,360.3 315.4,360.0 315.9,359.8 316.4,359.6 316.9,359.3 317.4,359.1 317.9,358.9 318.4,358.6 318.9,358.4 319.4,358.1 319.9,357.8 320.4,357.6 320.9,357.3 321.4,357.0 321.9,356.8 322.4,356.5 322.9,356.2 323.4,355.9 323.9,355.6 324.4,355.3 324.9,355.0 325.4,354.7 325.9,354.4 326.4,354.1 326.9,353.7 327.4,353.4 327.9,353.1 328.4,352.8 328.9,352.5 329.4,352.2 329.9,351.9 330.4,351.5 330.9,351.2 331.4,350.9 331.9,350.6 332.4,350.3 332.9,349.9 333.4,349.6 333.9,349.3 334.4,348.9 334.9,348.6 335.4,348.3 335.9,348.0 336.4,347.6 336.9,347.3 337.4,347.0 337.9,346.7 338.4,346.4 338.9,346.1 339.4,345.8 339.9,345.5 340.4,345.2 340.9,344.9 341.4,344.6 341.9,344.3 342.4,344.0 342.9,343.7 343.4,343.4 343.9,343.1 344.4,342.8 344.9,342.5 345.4,342.2 345.9,341.9 346.4,341.6 346.9,341.3 347.4,341.0 347.9,340.7 348.4,340.4 348.9,340.1 349.4,339.8 349.9,339.5 350.4,339.2 350.9,338.9 351.4,338.5 351.9,338.2 352.4,337.8 352.9,337.5 353.4,337.1 353.9,336.7 354.4,336.3 354.9,335.9 355.4,335.5 355.9,335.1 356.4,334.7 356.9,334.3 357.4,333.9 357.9,333.5 358.4,333.1 358.9,332.7 359.4,332.3 359.9,331.9 360.4,331.5 360.9,331.1 361.4,330.7 361.9,330.3 362.4,329.8 362.9,329.4 363.4,329.0 363.9,328.5 364.4,328.0 364.9,327.5 365.4,327.0 365.9,326.5 366.4,326.0 366.9,325.5 367.4,324.9 367.9,324.4 368.4,323.8 368.9,323.2 369.4,322.6 369.9,322.0 370.4,321.4 370.9,320.8 371.4,320.2 371.9,319.6 372.4,318.9 372.9,318.3 373.4,317.7 373.9,317.0 374.4,316.4 374.9,315.7 375.4,315.0 375.9,314.4 376.4,313.7 376.9,313.0 377.4,312.3 377.9,311.6 378.4,310.9 378.9,310.2 379.4,309.5 379.9,308.8 380.4,308.0 380.9,307.3 381.4,306.6 381.9,305.9 382.4,305.2 382.9,304.6 383.4,303.9 383.9,303.2 384.4,302.5 384.9,301.8 385.4,301.1 385.9,300.4 386.4,299.7 386.9,299.0 387.4,298.3 387.9,297.7 388.4,297.0 388.9,296.3 389.4,295.6 389.9,294.9 390.4,294.3 390.9,293.6 391.4,292.9 391.9,292.3 392.4,291.6 392.9,291.0 393.4,290.4 393.9,289.8 394.4,289.2 394.9,288.6 395.4,288.0 395.9,287.4 396.4,286.9 396.9,286.3 397.4,285.7 397.9,285.1 398.4,284.5 398.9,283.8 399.4,283.2 399.9,282.6 400.4,282.0 400.9,281.5 401.4,281.0 401.9,280.6 402.4,280.2 402.9,279.8 403.4,279.5 403.9,279.1 404.4,278.8 404.9,278.4 405.4,278.0 405.9,277.6 406.4,277.3 406.9,276.9 407.4,276.6 407.9,276.3 408.4,276.0 408.9,275.8 409.4,275.6 409.9,275.4 410.4,275.3 410.9,275.3 411.4,275.2 411.9,275.2 412.4,275.1 412.9,275.0 413.4,275.0 413.9,274.9 414.4,274.8 414.9,274.7 415.4,274.7 415.9,274.6 416.4,274.6 416.9,274.5 417.4,274.4 417.9,274.4 418.4,274.3 418.9,274.2 419.4,274.2 419.9,274.1 420.4,274.1 420.9,274.0 421.4,274.0 421.9,273.9 422.4,273.9 422.9,273.8 423.4,273.8 423.9,273.8 424.4,273.7 424.9,273.7 425.4,273.7 425.9,273.6 426.4,273.6 426.9,273.6 427.4,273.5 427.9,273.5 428.4,273.5 428.9,273.4 429.4,273.4 429.9,273.3 430.4,273.2 430.9,273.0 431.4,272.8" fill="none" stroke="#f01c1c" stroke-width="1.35" stroke-linejoin="round"/>
<polyline points="431.6,272.7 433.0,267.1 433.6,264.1 434.4,265.8 435.6,270.2 436.5,268.9 437.3,264.5 438.7,264.1 439.5,263.6 440.2,262.3 440.8,260.5" fill="none" stroke="#f01c1c" stroke-width="1.2" stroke-linejoin="round"/>
<rect x="261.8" y="241.0" width="179.4" height="139.8" fill="none" stroke="#4d4d4d" stroke-width="1.3"/>
<line x1="258.6" y1="357.6" x2="261.8" y2="357.6" stroke="#4d4d4d" stroke-width="1.0"/>
<line x1="258.6" y1="331.8" x2="261.8" y2="331.8" stroke="#4d4d4d" stroke-width="1.0"/>
<line x1="258.6" y1="305.9" x2="261.8" y2="305.9" stroke="#4d4d4d" stroke-width="1.0"/>
<line x1="258.6" y1="280.1" x2="261.8" y2="280.1" stroke="#4d4d4d" stroke-width="1.0"/>
<line x1="258.6" y1="254.2" x2="261.8" y2="254.2" stroke="#4d4d4d" stroke-width="1.0"/>
<line x1="270.3" y1="380.8" x2="270.3" y2="385.2" stroke="#4d4d4d" stroke-width="1.1"/>
<line x1="292.2" y1="380.8" x2="292.2" y2="385.2" stroke="#4d4d4d" stroke-width="1.1"/>
<line x1="314.2" y1="380.8" x2="314.2" y2="385.2" stroke="#4d4d4d" stroke-width="1.1"/>
<line x1="336.1" y1="380.8" x2="336.1" y2="385.2" stroke="#4d4d4d" stroke-width="1.1"/>
<line x1="358.1" y1="380.8" x2="358.1" y2="385.2" stroke="#4d4d4d" stroke-width="1.1"/>
<line x1="380.1" y1="380.8" x2="380.1" y2="385.2" stroke="#4d4d4d" stroke-width="1.1"/>
<line x1="402.0" y1="380.8" x2="402.0" y2="385.2" stroke="#4d4d4d" stroke-width="1.1"/>
<line x1="423.9" y1="380.8" x2="423.9" y2="385.2" stroke="#4d4d4d" stroke-width="1.1"/>
<polyline points="490.5,346.6 490.9,345.9 491.3,345.2 491.7,344.7 492.1,344.4 492.5,344.1 492.9,343.9 493.3,343.7 493.7,343.6 494.1,343.4 494.5,343.2 494.9,343.1 495.3,342.9 495.7,342.7 496.1,342.5 496.5,342.3 496.9,342.1 497.3,341.9 497.7,341.8 498.1,341.6 498.5,341.5 498.9,341.3 499.3,341.1 499.7,340.9 500.1,340.7 500.5,340.4 500.9,340.1 501.3,339.7 501.7,339.3 502.1,338.8 502.5,338.2 502.9,337.5 503.3,336.7 503.7,335.8 504.1,334.8 504.5,333.6 504.9,332.3 505.3,330.9 505.7,329.4 506.1,327.7 506.5,326.0 506.9,324.2 507.3,322.3 507.7,320.5 508.1,318.6 508.5,316.8 508.9,315.1 509.3,313.5 509.7,312.2 510.1,311.0 510.5,310.1 510.9,309.6 511.3,309.3 511.7,309.4 512.1,309.8 512.5,310.5 512.9,311.5 513.3,312.8 513.7,314.2 514.1,315.9 514.5,317.6 514.9,319.4 515.3,321.3 515.7,323.2 516.1,325.0 516.5,326.8 516.9,328.4 517.3,330.0 517.7,331.5 518.1,332.9 518.5,334.1 518.9,335.2 519.3,336.2 519.7,337.1 520.1,337.9 520.5,338.6 520.9,339.2 521.3,339.7 521.7,340.1 522.1,340.5 522.5,340.8 522.9,341.1 523.3,341.4 523.7,341.6 524.1,341.8 524.5,342.0 524.9,342.2 525.3,342.4 525.7,342.5 526.1,342.7 526.5,342.8 526.9,343.0 527.3,343.1 527.7,343.2 528.1,343.4 528.5,343.5 528.9,343.7 529.3,343.8 529.7,344.0 530.1,344.1 530.5,344.3 530.9,344.4 531.3,344.5 531.7,344.7 532.1,344.8 532.5,345.0 532.9,345.2 533.3,345.3 533.7,345.5 534.1,345.6 534.5,345.8 534.9,345.9 535.3,346.1 535.7,346.3 536.1,346.4 536.5,346.6 536.9,346.7 537.3,346.9 537.7,347.1 538.1,347.3 538.5,347.4 538.9,347.6 539.3,347.8 539.7,348.0 540.1,348.1 540.5,348.3 540.9,348.5 541.3,348.6 541.7,348.8 542.1,349.0 542.5,349.1 542.9,349.3 543.3,349.5 543.7,349.6 544.1,349.8 544.5,350.0 544.9,350.1 545.3,350.3 545.7,350.5 546.1,350.6 546.5,350.8 546.9,351.0 547.3,351.1 547.7,351.3 548.1,351.5 548.5,351.6 548.9,351.8 549.3,352.0 549.7,352.1 550.1,352.3 550.5,352.5 550.9,352.6 551.3,352.8 551.7,352.9 552.1,353.1 552.5,353.3 552.9,353.4 553.3,353.6 553.7,353.7 554.1,353.9 554.5,354.1 554.9,354.2 555.3,354.4 555.7,354.5 556.1,354.7 556.5,354.8 556.9,355.0 557.3,355.2 557.7,355.3 558.1,355.5 558.5,355.7 558.9,355.8 559.3,356.0 559.7,356.1 560.1,356.3 560.5,356.5 560.9,356.6 561.3,356.8 561.7,357.0 562.1,357.1 562.5,357.3 562.9,357.4 563.3,357.6 563.7,357.7 564.1,357.9 564.5,358.0 564.9,358.2 565.3,358.3 565.7,358.5 566.1,358.6 566.5,358.7 566.9,358.9 567.3,359.0 567.7,359.2 568.1,359.3 568.5,359.4 568.9,359.6 569.3,359.7 569.7,359.8 570.1,359.9 570.5,360.1 570.9,360.2 571.3,360.3 571.7,360.5 572.1,360.6 572.5,360.7 572.9,360.8 573.3,360.9 573.7,361.0 574.1,361.2 574.5,361.3 574.9,361.4 575.3,361.5 575.7,361.6 576.1,361.7 576.5,361.8 576.9,361.9 577.3,362.1 577.7,362.2 578.1,362.3 578.5,362.4 578.9,362.5 579.3,362.6 579.7,362.8 580.1,362.9 580.5,363.0 580.9,363.1 581.3,363.2 581.7,363.3 582.1,363.5 582.5,363.6 582.9,363.7 583.3,363.8 583.7,363.9 584.1,364.1 584.5,364.2 584.9,364.3 585.3,364.5 585.7,364.6 586.1,364.7 586.5,364.9 586.9,365.0 587.3,365.1 587.7,365.3 588.1,365.4 588.5,365.6 588.9,365.7 589.3,365.9 589.7,366.0 590.1,366.2 590.5,366.3 590.9,366.4 591.3,366.6 591.7,366.7 592.1,366.9 592.5,367.0 592.9,367.1 593.3,367.3 593.7,367.4 594.1,367.5 594.5,367.7 594.9,367.8 595.3,367.9 595.7,368.1 596.1,368.2 596.5,368.3 596.9,368.4 597.3,368.6 597.7,368.7 598.1,368.8 598.5,368.9 598.9,369.0 599.3,369.2 599.7,369.3 600.1,369.4 600.5,369.6 600.9,369.7 601.3,369.8 601.7,369.9 602.1,370.1 602.5,370.2 602.9,370.4 603.3,370.5 603.7,370.6 604.1,370.8 604.5,370.9 604.9,371.0 605.3,371.1 605.7,371.2 606.1,371.3 606.5,371.4 606.9,371.5 607.3,371.6 607.7,371.6 608.1,371.7 608.5,371.7 608.9,371.8 609.3,371.9 609.7,371.9 610.1,372.0 610.5,372.0 610.9,372.1 611.3,372.1 611.7,372.2 612.1,372.2 612.5,372.2 612.9,372.3 613.3,372.3 613.7,372.4 614.1,372.4 614.5,372.5 614.9,372.5 615.3,372.5 615.7,372.6 616.1,372.6 616.5,372.6 616.9,372.7 617.3,372.7 617.7,372.8 618.1,372.8 618.5,372.8 618.9,372.9 619.3,372.9 619.7,373.0 620.1,373.0 620.5,373.0 620.9,373.1 621.3,373.1 621.7,373.2 622.1,373.2 622.5,373.3 622.9,373.4 623.3,373.4 623.7,373.5 624.1,373.5 624.5,373.6 624.9,373.6 625.3,373.7 625.7,373.7 626.1,373.8 626.5,373.8 626.9,373.9 627.3,373.9 627.7,374.0 628.1,374.0 628.5,374.1 628.9,374.1 629.3,374.2 629.7,374.2 630.1,374.2 630.5,374.3 630.9,374.3 631.3,374.4 631.7,374.4 632.1,374.5 632.5,374.5 632.9,374.6 633.3,374.6 633.7,374.6 634.1,374.7 634.5,374.7 634.9,374.8 635.3,374.8 635.7,374.9 636.1,374.9 636.5,375.0 636.9,375.0 637.3,375.0 637.7,375.1 638.1,375.1 638.5,375.2 638.9,375.2 639.3,375.3 639.7,375.3 640.1,375.3 640.5,375.4 640.9,375.4 641.3,375.5 641.7,375.5 642.1,375.6 642.5,375.6 642.9,375.6 643.3,375.7 643.7,375.7 644.1,375.8 644.5,375.8 644.9,375.9 645.3,375.9 645.7,376.0 646.1,376.0 646.5,376.1 646.9,376.1 647.3,376.2 647.7,376.3 648.1,376.3 648.5,376.4 648.9,376.4 649.3,376.5 649.7,376.6 650.1,376.6 650.5,376.7 650.9,376.8 651.3,376.8 651.7,376.9 652.1,377.0 652.5,377.0 652.9,377.1 653.3,377.1 653.7,377.2 654.1,377.3 654.5,377.3 654.9,377.4 655.3,377.4 655.7,377.5 656.1,377.5 656.5,377.6 656.9,377.7 657.3,377.7 657.7,377.8 658.1,377.8 658.5,377.9 658.9,377.9 659.3,378.0 659.7,378.0 660.1,378.1 660.5,378.1 660.9,378.2 661.3,378.2 661.7,378.3 662.1,378.3 662.5,378.4 662.9,378.4 663.3,378.5 663.7,378.5 664.1,378.6 664.5,378.6 664.9,378.7 665.3,378.7 665.7,378.8 666.1,378.8 666.5,378.8 666.9,378.9 667.3,378.9 667.7,379.0 668.1,379.0 668.5,379.0 668.9,379.1 669.3,379.1 669.7,379.1 670.1,379.2 670.5,379.2 670.9,379.2 671.3,379.2 671.7,379.3 672.1,379.3 672.5,379.3 672.9,379.3 673.3,379.4 673.7,379.4 674.1,379.4 674.5,379.4 674.9,379.5 675.3,379.5 675.7,379.5 676.1,379.5 676.5,379.6 676.9,379.6" fill="none" stroke="#ff9a72" stroke-width="1.2" stroke-linejoin="round"/>
<polyline points="490.5,346.5 490.9,345.8 491.3,345.2 491.7,344.7 492.1,344.3 492.5,344.1 492.9,343.9 493.3,343.7 493.7,343.5 494.1,343.4 494.5,343.2 494.9,343.1 495.3,342.9 495.7,342.7 496.1,342.5 496.5,342.4 496.9,342.2 497.3,342.0 497.7,341.9 498.1,341.8 498.5,341.7 498.9,341.6 499.3,341.5 499.7,341.4 500.1,341.3 500.5,341.2 500.9,341.1 501.3,341.0 501.7,340.9 502.1,340.7 502.5,340.6 502.9,340.4 503.3,340.3 503.7,340.1 504.1,339.8 504.5,339.6 504.9,339.3 505.3,339.0 505.7,338.6 506.1,338.2 506.5,337.7 506.9,337.1 507.3,336.5 507.7,335.8 508.1,335.0 508.5,334.2 508.9,333.2 509.3,332.2 509.7,331.0 510.1,329.8 510.5,328.5 510.9,327.0 511.3,325.5 511.7,323.9 512.1,322.2 512.5,320.5 512.9,318.8 513.3,317.0 513.7,315.2 514.1,313.4 514.5,311.6 514.9,310.0 515.3,308.4 515.7,307.0 516.1,305.7 516.5,304.5 516.9,303.6 517.3,302.9 517.7,302.5 518.1,302.3 518.5,302.3 518.9,302.7 519.3,303.2 519.7,304.1 520.1,305.1 520.5,306.4 520.9,307.8 521.3,309.3 521.7,311.0 522.1,312.8 522.5,314.7 522.9,316.6 523.3,318.5 523.7,320.4 524.1,322.2 524.5,324.1 524.9,325.8 525.3,327.5 525.7,329.2 526.1,330.7 526.5,332.1 526.9,333.5 527.3,334.7 527.7,335.9 528.1,336.9 528.5,337.9 528.9,338.8 529.3,339.6 529.7,340.3 530.1,340.9 530.5,341.5 530.9,342.0 531.3,342.5 531.7,342.9 532.1,343.3 532.5,343.7 532.9,344.0 533.3,344.3 533.7,344.5 534.1,344.8 534.5,345.0 534.9,345.3 535.3,345.5 535.7,345.7 536.1,345.9 536.5,346.1 536.9,346.3 537.3,346.5 537.7,346.7 538.1,346.9 538.5,347.1 538.9,347.3 539.3,347.5 539.7,347.6 540.1,347.8 540.5,348.0 540.9,348.2 541.3,348.4 541.7,348.6 542.1,348.7 542.5,348.9 542.9,349.1 543.3,349.3 543.7,349.4 544.1,349.6 544.5,349.8 544.9,350.0 545.3,350.1 545.7,350.3 546.1,350.5 546.5,350.6 546.9,350.8 547.3,351.0 547.7,351.2 548.1,351.3 548.5,351.5 548.9,351.7 549.3,351.8 549.7,352.0 550.1,352.2 550.5,352.3 550.9,352.5 551.3,352.7 551.7,352.8 552.1,353.0 552.5,353.1 552.9,353.3 553.3,353.5 553.7,353.6 554.1,353.8 554.5,354.0 554.9,354.1 555.3,354.3 555.7,354.4 556.1,354.6 556.5,354.8 556.9,354.9 557.3,355.1 557.7,355.2 558.1,355.4 558.5,355.6 558.9,355.7 559.3,355.9 559.7,356.1 560.1,356.2 560.5,356.4 560.9,356.6 561.3,356.7 561.7,356.9 562.1,357.0 562.5,357.2 562.9,357.4 563.3,357.5 563.7,357.7 564.1,357.8 564.5,358.0 564.9,358.1 565.3,358.3 565.7,358.4 566.1,358.5 566.5,358.7 566.9,358.8 567.3,359.0 567.7,359.1 568.1,359.2 568.5,359.4 568.9,359.5 569.3,359.6 569.7,359.8 570.1,359.9 570.5,360.0 570.9,360.2 571.3,360.3 571.7,360.4 572.1,360.5 572.5,360.7 572.9,360.8 573.3,360.9 573.7,361.0 574.1,361.1 574.5,361.2 574.9,361.3 575.3,361.5 575.7,361.6 576.1,361.7 576.5,361.8 576.9,361.9 577.3,362.0 577.7,362.1 578.1,362.3 578.5,362.4 578.9,362.5 579.3,362.6 579.7,362.7 580.1,362.8 580.5,363.0 580.9,363.1 581.3,363.2 581.7,363.3 582.1,363.4 582.5,363.6 582.9,363.7 583.3,363.8 583.7,363.9 584.1,364.0 584.5,364.2 584.9,364.3 585.3,364.4 585.7,364.6 586.1,364.7 586.5,364.8 586.9,365.0 587.3,365.1 587.7,365.2 588.1,365.4 588.5,365.5 588.9,365.7 589.3,365.8 589.7,366.0 590.1,366.1 590.5,366.3 590.9,366.4 591.3,366.6 591.7,366.7 592.1,366.9 592.5,367.0 592.9,367.1 593.3,367.3 593.7,367.4 594.1,367.5 594.5,367.7 594.9,367.8 595.3,367.9 595.7,368.0 596.1,368.2 596.5,368.3 596.9,368.4 597.3,368.5 597.7,368.7 598.1,368.8 598.5,368.9 598.9,369.0 599.3,369.2 599.7,369.3 600.1,369.4 600.5,369.5 600.9,369.7 601.3,369.8 601.7,369.9 602.1,370.1 602.5,370.2 602.9,370.3 603.3,370.5 603.7,370.6 604.1,370.7 604.5,370.9 604.9,371.0 605.3,371.1 605.7,371.2 606.1,371.3 606.5,371.4 606.9,371.5 607.3,371.5 607.7,371.6 608.1,371.7 608.5,371.7 608.9,371.8 609.3,371.8 609.7,371.9 610.1,371.9 610.5,372.0 610.9,372.0 611.3,372.1 611.7,372.1 612.1,372.2 612.5,372.2 612.9,372.3 613.3,372.3 613.7,372.4 614.1,372.4 614.5,372.4 614.9,372.5 615.3,372.5 615.7,372.6 616.1,372.6 616.5,372.6 616.9,372.7 617.3,372.7 617.7,372.7 618.1,372.8 618.5,372.8 618.9,372.9 619.3,372.9 619.7,372.9 620.1,373.0 620.5,373.0 620.9,373.1 621.3,373.1 621.7,373.2 622.1,373.2 622.5,373.3 622.9,373.3 623.3,373.4 623.7,373.5 624.1,373.5 624.5,373.6 624.9,373.6 625.3,373.7 625.7,373.7 626.1,373.8 626.5,373.8 626.9,373.9 627.3,373.9 627.7,374.0 628.1,374.0 628.5,374.1 628.9,374.1 629.3,374.2 629.7,374.2 630.1,374.2 630.5,374.3 630.9,374.3 631.3,374.4 631.7,374.4 632.1,374.5 632.5,374.5 632.9,374.6 633.3,374.6 633.7,374.6 634.1,374.7 634.5,374.7 634.9,374.8 635.3,374.8 635.7,374.9 636.1,374.9 636.5,374.9 636.9,375.0 637.3,375.0 637.7,375.1 638.1,375.1 638.5,375.2 638.9,375.2 639.3,375.2 639.7,375.3 640.1,375.3 640.5,375.4 640.9,375.4 641.3,375.5 641.7,375.5 642.1,375.5 642.5,375.6 642.9,375.6 643.3,375.7 643.7,375.7 644.1,375.8 644.5,375.8 644.9,375.9 645.3,375.9 645.7,376.0 646.1,376.0 646.5,376.1 646.9,376.1 647.3,376.2 647.7,376.3 648.1,376.3 648.5,376.4 648.9,376.4 649.3,376.5 649.7,376.6 650.1,376.6 650.5,376.7 650.9,376.8 651.3,376.8 651.7,376.9 652.1,377.0 652.5,377.0 652.9,377.1 653.3,377.1 653.7,377.2 654.1,377.3 654.5,377.3 654.9,377.4 655.3,377.4 655.7,377.5 656.1,377.5 656.5,377.6 656.9,377.6 657.3,377.7 657.7,377.8 658.1,377.8 658.5,377.9 658.9,377.9 659.3,378.0 659.7,378.0 660.1,378.1 660.5,378.1 660.9,378.2 661.3,378.2 661.7,378.3 662.1,378.3 662.5,378.4 662.9,378.4 663.3,378.5 663.7,378.5 664.1,378.6 664.5,378.6 664.9,378.7 665.3,378.7 665.7,378.8 666.1,378.8 666.5,378.8 666.9,378.9 667.3,378.9 667.7,379.0 668.1,379.0 668.5,379.0 668.9,379.1 669.3,379.1 669.7,379.1 670.1,379.2 670.5,379.2 670.9,379.2 671.3,379.2 671.7,379.3 672.1,379.3 672.5,379.3 672.9,379.3 673.3,379.4 673.7,379.4 674.1,379.4 674.5,379.4 674.9,379.5 675.3,379.5 675.7,379.5 676.1,379.5 676.5,379.6 676.9,379.6" fill="none" stroke="#ffff66" stroke-width="1.35" stroke-linejoin="round"/>
<polyline points="490.5,346.7 490.9,346.0 491.3,345.4 491.7,344.9 492.1,344.6 492.5,344.3 492.9,344.1 493.3,344.0 493.7,343.8 494.1,343.7 494.5,343.5 494.9,343.4 495.3,343.2 495.7,343.0 496.1,342.8 496.5,342.7 496.9,342.5 497.3,342.4 497.7,342.3 498.1,342.2 498.5,342.1 498.9,342.0 499.3,341.9 499.7,341.9 500.1,341.8 500.5,341.7 500.9,341.7 501.3,341.6 501.7,341.6 502.1,341.5 502.5,341.5 502.9,341.4 503.3,341.3 503.7,341.3 504.1,341.2 504.5,341.2 504.9,341.1 505.3,341.1 505.7,341.0 506.1,341.0 506.5,340.9 506.9,340.9 507.3,340.9 507.7,340.8 508.1,340.8 508.5,340.7 508.9,340.7 509.3,340.7 509.7,340.6 510.1,340.6 510.5,340.6 510.9,340.6 511.3,340.5 511.7,340.5 512.1,340.5 512.5,340.5 512.9,340.4 513.3,340.4 513.7,340.3 514.1,340.3 514.5,340.2 514.9,340.1 515.3,340.0 515.7,339.9 516.1,339.7 516.5,339.4 516.9,339.1 517.3,338.8 517.7,338.3 518.1,337.8 518.5,337.1 518.9,336.3 519.3,335.4 519.7,334.4 520.1,333.2 520.5,331.8 520.9,330.3 521.3,328.7 521.7,327.0 522.1,325.2 522.5,323.3 522.9,321.5 523.3,319.8 523.7,318.1 524.1,316.6 524.5,315.4 524.9,314.4 525.3,313.8 525.7,313.5 526.1,313.6 526.5,314.1 526.9,315.0 527.3,316.2 527.7,317.6 528.1,319.3 528.5,321.2 528.9,323.2 529.3,325.3 529.7,327.3 530.1,329.4 530.5,331.3 530.9,333.2 531.3,334.9 531.7,336.5 532.1,337.9 532.5,339.2 532.9,340.3 533.3,341.3 533.7,342.2 534.1,343.0 534.5,343.6 534.9,344.2 535.3,344.7 535.7,345.1 536.1,345.5 536.5,345.8 536.9,346.1 537.3,346.4 537.7,346.6 538.1,346.8 538.5,347.1 538.9,347.3 539.3,347.5 539.7,347.7 540.1,347.9 540.5,348.1 540.9,348.3 541.3,348.4 541.7,348.6 542.1,348.8 542.5,349.0 542.9,349.2 543.3,349.3 543.7,349.5 544.1,349.7 544.5,349.9 544.9,350.0 545.3,350.2 545.7,350.4 546.1,350.5 546.5,350.7 546.9,350.9 547.3,351.1 547.7,351.2 548.1,351.4 548.5,351.6 548.9,351.7 549.3,351.9 549.7,352.1 550.1,352.2 550.5,352.4 550.9,352.6 551.3,352.7 551.7,352.9 552.1,353.0 552.5,353.2 552.9,353.4 553.3,353.5 553.7,353.7 554.1,353.9 554.5,354.0 554.9,354.2 555.3,354.3 555.7,354.5 556.1,354.7 556.5,354.8 556.9,355.0 557.3,355.1 557.7,355.3 558.1,355.5 558.5,355.6 558.9,355.8 559.3,356.0 559.7,356.1 560.1,356.3 560.5,356.4 560.9,356.6 561.3,356.8 561.7,356.9 562.1,357.1 562.5,357.2 562.9,357.4 563.3,357.6 563.7,357.7 564.1,357.9 564.5,358.0 564.9,358.1 565.3,358.3 565.7,358.4 566.1,358.6 566.5,358.7 566.9,358.9 567.3,359.0 567.7,359.1 568.1,359.3 568.5,359.4 568.9,359.5 569.3,359.7 569.7,359.8 570.1,359.9 570.5,360.1 570.9,360.2 571.3,360.3 571.7,360.4 572.1,360.6 572.5,360.7 572.9,360.8 573.3,360.9 573.7,361.0 574.1,361.2 574.5,361.3 574.9,361.4 575.3,361.5 575.7,361.6 576.1,361.7 576.5,361.8 576.9,361.9 577.3,362.1 577.7,362.2 578.1,362.3 578.5,362.4 578.9,362.5 579.3,362.6 579.7,362.8 580.1,362.9 580.5,363.0 580.9,363.1 581.3,363.2 581.7,363.3 582.1,363.5 582.5,363.6 582.9,363.7 583.3,363.8 583.7,363.9 584.1,364.1 584.5,364.2 584.9,364.3 585.3,364.4 585.7,364.6 586.1,364.7 586.5,364.8 586.9,365.0 587.3,365.1 587.7,365.3 588.1,365.4 588.5,365.6 588.9,365.7 589.3,365.9 589.7,366.0 590.1,366.2 590.5,366.3 590.9,366.4 591.3,366.6 591.7,366.7 592.1,366.9 592.5,367.0 592.9,367.1 593.3,367.3 593.7,367.4 594.1,367.5 594.5,367.7 594.9,367.8 595.3,367.9 595.7,368.1 596.1,368.2 596.5,368.3 596.9,368.4 597.3,368.6 597.7,368.7 598.1,368.8 598.5,368.9 598.9,369.0 599.3,369.2 599.7,369.3 600.1,369.4 600.5,369.6 600.9,369.7 601.3,369.8 601.7,369.9 602.1,370.1 602.5,370.2 602.9,370.4 603.3,370.5 603.7,370.6 604.1,370.8 604.5,370.9 604.9,371.0 605.3,371.1 605.7,371.2 606.1,371.3 606.5,371.4 606.9,371.5 607.3,371.6 607.7,371.6 608.1,371.7 608.5,371.7 608.9,371.8 609.3,371.9 609.7,371.9 610.1,372.0 610.5,372.0 610.9,372.1 611.3,372.1 611.7,372.2 612.1,372.2 612.5,372.2 612.9,372.3 613.3,372.3 613.7,372.4 614.1,372.4 614.5,372.5 614.9,372.5 615.3,372.5 615.7,372.6 616.1,372.6 616.5,372.6 616.9,372.7 617.3,372.7 617.7,372.8 618.1,372.8 618.5,372.8 618.9,372.9 619.3,372.9 619.7,373.0 620.1,373.0 620.5,373.0 620.9,373.1 621.3,373.1 621.7,373.2 622.1,373.2 622.5,373.3 622.9,373.4 623.3,373.4 623.7,373.5 624.1,373.5 624.5,373.6 624.9,373.6 625.3,373.7 625.7,373.7 626.1,373.8 626.5,373.8 626.9,373.9 627.3,373.9 627.7,374.0 628.1,374.0 628.5,374.1 628.9,374.1 629.3,374.2 629.7,374.2 630.1,374.3 630.5,374.3 630.9,374.3 631.3,374.4 631.7,374.4 632.1,374.5 632.5,374.5 632.9,374.6 633.3,374.6 633.7,374.6 634.1,374.7 634.5,374.7 634.9,374.8 635.3,374.8 635.7,374.9 636.1,374.9 636.5,375.0 636.9,375.0 637.3,375.0 637.7,375.1 638.1,375.1 638.5,375.2 638.9,375.2 639.3,375.3 639.7,375.3 640.1,375.3 640.5,375.4 640.9,375.4 641.3,375.5 641.7,375.5 642.1,375.6 642.5,375.6 642.9,375.6 643.3,375.7 643.7,375.7 644.1,375.8 644.5,375.8 644.9,375.9 645.3,375.9 645.7,376.0 646.1,376.0 646.5,376.1 646.9,376.1 647.3,376.2 647.7,376.3 648.1,376.3 648.5,376.4 648.9,376.4 649.3,376.5 649.7,376.6 650.1,376.6 650.5,376.7 650.9,376.8 651.3,376.8 651.7,376.9 652.1,377.0 652.5,377.0 652.9,377.1 653.3,377.1 653.7,377.2 654.1,377.3 654.5,377.3 654.9,377.4 655.3,377.4 655.7,377.5 656.1,377.5 656.5,377.6 656.9,377.7 657.3,377.7 657.7,377.8 658.1,377.8 658.5,377.9 658.9,377.9 659.3,378.0 659.7,378.0 660.1,378.1 660.5,378.1 660.9,378.2 661.3,378.2 661.7,378.3 662.1,378.3 662.5,378.4 662.9,378.4 663.3,378.5 663.7,378.5 664.1,378.6 664.5,378.6 664.9,378.7 665.3,378.7 665.7,378.8 666.1,378.8 666.5,378.8 666.9,378.9 667.3,378.9 667.7,379.0 668.1,379.0 668.5,379.0 668.9,379.1 669.3,379.1 669.7,379.1 670.1,379.2 670.5,379.2 670.9,379.2 671.3,379.2 671.7,379.3 672.1,379.3 672.5,379.3 672.9,379.3 673.3,379.4 673.7,379.4 674.1,379.4 674.5,379.4 674.9,379.5 675.3,379.5 675.7,379.5 676.1,379.5 676.5,379.6 676.9,379.6" fill="none" stroke="#ff72da" stroke-width="1.2" stroke-linejoin="round"/>
<polyline points="490.5,346.7 490.9,346.0 491.3,345.4 491.7,344.9 492.1,344.5 492.5,344.3 492.9,344.1 493.3,343.9 493.7,343.8 494.1,343.6 494.5,343.5 494.9,343.3 495.3,343.1 495.7,343.0 496.1,342.8 496.5,342.6 496.9,342.5 497.3,342.3 497.7,342.2 498.1,342.1 498.5,342.0 498.9,341.9 499.3,341.8 499.7,341.8 500.1,341.7 500.5,341.6 500.9,341.6 501.3,341.5 501.7,341.4 502.1,341.4 502.5,341.3 502.9,341.2 503.3,341.2 503.7,341.1 504.1,341.0 504.5,341.0 504.9,340.9 505.3,340.9 505.7,340.8 506.1,340.7 506.5,340.7 506.9,340.6 507.3,340.6 507.7,340.5 508.1,340.5 508.5,340.4 508.9,340.4 509.3,340.3 509.7,340.3 510.1,340.3 510.5,340.2 510.9,340.2 511.3,340.2 511.7,340.1 512.1,340.1 512.5,340.1 512.9,340.0 513.3,340.0 513.7,340.0 514.1,340.0 514.5,339.9 514.9,339.9 515.3,339.9 515.7,339.9 516.1,339.9 516.5,339.9 516.9,339.9 517.3,339.9 517.7,339.9 518.1,339.9 518.5,339.9 518.9,340.0 519.3,340.0 519.7,340.1 520.1,340.1 520.5,340.2 520.9,340.2 521.3,340.3 521.7,340.3 522.1,340.4 522.5,340.4 522.9,340.5 523.3,340.6 523.7,340.6 524.1,340.7 524.5,340.7 524.9,340.8 525.3,340.9 525.7,340.9 526.1,341.0 526.5,341.1 526.9,341.2 527.3,341.2 527.7,341.3 528.1,341.4 528.5,341.5 528.9,341.6 529.3,341.7 529.7,341.8 530.1,341.9 530.5,342.0 530.9,342.1 531.3,342.2 531.7,342.3 532.1,342.4 532.5,342.5 532.9,342.6 533.3,342.7 533.7,342.9 534.1,343.0 534.5,343.1 534.9,343.3 535.3,343.4 535.7,343.5 536.1,343.7 536.5,343.8 536.9,344.0 537.3,344.1 537.7,344.3 538.1,344.4 538.5,344.6 538.9,344.7 539.3,344.9 539.7,345.1 540.1,345.2 540.5,345.4 540.9,345.6 541.3,345.8 541.7,345.9 542.1,346.1 542.5,346.3 542.9,346.5 543.3,346.6 543.7,346.8 544.1,347.0 544.5,347.2 544.9,347.4 545.3,347.6 545.7,347.7 546.1,347.9 546.5,348.1 546.9,348.3 547.3,348.5 547.7,348.7 548.1,348.9 548.5,349.1 548.9,349.3 549.3,349.5 549.7,349.7 550.1,349.9 550.5,350.1 550.9,350.3 551.3,350.5 551.7,350.6 552.1,350.8 552.5,351.0 552.9,351.2 553.3,351.4 553.7,351.6 554.1,351.8 554.5,352.0 554.9,352.2 555.3,352.4 555.7,352.6 556.1,352.8 556.5,353.0 556.9,353.2 557.3,353.4 557.7,353.6 558.1,353.8 558.5,354.1 558.9,354.3 559.3,354.5 559.7,354.7 560.1,354.9 560.5,355.1 560.9,355.3 561.3,355.5 561.7,355.7 562.1,355.9 562.5,356.1 562.9,356.2 563.3,356.4 563.7,356.6 564.1,356.8 564.5,357.0 564.9,357.2 565.3,357.3 565.7,357.5 566.1,357.7 566.5,357.9 566.9,358.0 567.3,358.2 567.7,358.4 568.1,358.5 568.5,358.7 568.9,358.9 569.3,359.0 569.7,359.2 570.1,359.3 570.5,359.5 570.9,359.6 571.3,359.8 571.7,359.9 572.1,360.1 572.5,360.2 572.9,360.3 573.3,360.5 573.7,360.6 574.1,360.7 574.5,360.9 574.9,361.0 575.3,361.1 575.7,361.3 576.1,361.4 576.5,361.5 576.9,361.6 577.3,361.8 577.7,361.9 578.1,362.0 578.5,362.2 578.9,362.3 579.3,362.4 579.7,362.5 580.1,362.7 580.5,362.8 580.9,362.9 581.3,363.1 581.7,363.2 582.1,363.3 582.5,363.4 582.9,363.6 583.3,363.7 583.7,363.8 584.1,363.9 584.5,364.1 584.9,364.2 585.3,364.3 585.7,364.5 586.1,364.6 586.5,364.8 586.9,364.9 587.3,365.0 587.7,365.2 588.1,365.3 588.5,365.5 588.9,365.6 589.3,365.8 589.7,365.9 590.1,366.1 590.5,366.2 590.9,366.4 591.3,366.5 591.7,366.7 592.1,366.8 592.5,367.0 592.9,367.1 593.3,367.2 593.7,367.4 594.1,367.5 594.5,367.6 594.9,367.8 595.3,367.9 595.7,368.0 596.1,368.2 596.5,368.3 596.9,368.4 597.3,368.5 597.7,368.7 598.1,368.8 598.5,368.9 598.9,369.0 599.3,369.2 599.7,369.3 600.1,369.4 600.5,369.5 600.9,369.7 601.3,369.8 601.7,369.9 602.1,370.1 602.5,370.2 602.9,370.3 603.3,370.5 603.7,370.6 604.1,370.7 604.5,370.9 604.9,371.0 605.3,371.1 605.7,371.2 606.1,371.3 606.5,371.4 606.9,371.5 607.3,371.5 607.7,371.6 608.1,371.7 608.5,371.7 608.9,371.8 609.3,371.8 609.7,371.9 610.1,371.9 610.5,372.0 610.9,372.0 611.3,372.1 611.7,372.1 612.1,372.2 612.5,372.2 612.9,372.3 613.3,372.3 613.7,372.4 614.1,372.4 614.5,372.4 614.9,372.5 615.3,372.5 615.7,372.6 616.1,372.6 616.5,372.6 616.9,372.7 617.3,372.7 617.7,372.7 618.1,372.8 618.5,372.8 618.9,372.9 619.3,372.9 619.7,372.9 620.1,373.0 620.5,373.0 620.9,373.1 621.3,373.1 621.7,373.2 622.1,373.2 622.5,373.3 622.9,373.3 623.3,373.4 623.7,373.5 624.1,373.5 624.5,373.6 624.9,373.6 625.3,373.7 625.7,373.7 626.1,373.8 626.5,373.8 626.9,373.9 627.3,373.9 627.7,374.0 628.1,374.0 628.5,374.1 628.9,374.1 629.3,374.2 629.7,374.2 630.1,374.2 630.5,374.3 630.9,374.3 631.3,374.4 631.7,374.4 632.1,374.5 632.5,374.5 632.9,374.6 633.3,374.6 633.7,374.6 634.1,374.7 634.5,374.7 634.9,374.8 635.3,374.8 635.7,374.9 636.1,374.9 636.5,375.0 636.9,375.0 637.3,375.0 637.7,375.1 638.1,375.1 638.5,375.2 638.9,375.2 639.3,375.2 639.7,375.3 640.1,375.3 640.5,375.4 640.9,375.4 641.3,375.5 641.7,375.5 642.1,375.6 642.5,375.6 642.9,375.6 643.3,375.7 643.7,375.7 644.1,375.8 644.5,375.8 644.9,375.9 645.3,375.9 645.7,376.0 646.1,376.0 646.5,376.1 646.9,376.1 647.3,376.2 647.7,376.3 648.1,376.3 648.5,376.4 648.9,376.4 649.3,376.5 649.7,376.6 650.1,376.6 650.5,376.7 650.9,376.8 651.3,376.8 651.7,376.9 652.1,377.0 652.5,377.0 652.9,377.1 653.3,377.1 653.7,377.2 654.1,377.3 654.5,377.3 654.9,377.4 655.3,377.4 655.7,377.5 656.1,377.5 656.5,377.6 656.9,377.7 657.3,377.7 657.7,377.8 658.1,377.8 658.5,377.9 658.9,377.9 659.3,378.0 659.7,378.0 660.1,378.1 660.5,378.1 660.9,378.2 661.3,378.2 661.7,378.3 662.1,378.3 662.5,378.4 662.9,378.4 663.3,378.5 663.7,378.5 664.1,378.6 664.5,378.6 664.9,378.7 665.3,378.7 665.7,378.8 666.1,378.8 666.5,378.8 666.9,378.9 667.3,378.9 667.7,379.0 668.1,379.0 668.5,379.0 668.9,379.1 669.3,379.1 669.7,379.1 670.1,379.2 670.5,379.2 670.9,379.2 671.3,379.2 671.7,379.3 672.1,379.3 672.5,379.3 672.9,379.3 673.3,379.4 673.7,379.4 674.1,379.4 674.5,379.4 674.9,379.5 675.3,379.5 675.7,379.5 676.1,379.5 676.5,379.6 676.9,379.6" fill="none" stroke="#4f8ad6" stroke-width="1.2" stroke-linejoin="round"/>
<polyline points="490.5,346.7 490.9,346.1 491.3,345.4 491.7,344.9 492.1,344.6 492.5,344.3 492.9,344.1 493.3,344.0 493.7,343.8 494.1,343.7 494.5,343.5 494.9,343.4 495.3,343.2 495.7,343.0 496.1,342.9 496.5,342.7 496.9,342.6 497.3,342.4 497.7,342.3 498.1,342.2 498.5,342.1 498.9,342.0 499.3,342.0 499.7,341.9 500.1,341.8 500.5,341.8 500.9,341.7 501.3,341.7 501.7,341.6 502.1,341.6 502.5,341.5 502.9,341.4 503.3,341.4 503.7,341.3 504.1,341.3 504.5,341.2 504.9,341.2 505.3,341.1 505.7,341.1 506.1,341.0 506.5,341.0 506.9,341.0 507.3,340.9 507.7,340.9 508.1,340.8 508.5,340.8 508.9,340.8 509.3,340.7 509.7,340.7 510.1,340.7 510.5,340.7 510.9,340.7 511.3,340.7 511.7,340.6 512.1,340.6 512.5,340.6 512.9,340.6 513.3,340.6 513.7,340.6 514.1,340.6 514.5,340.6 514.9,340.6 515.3,340.6 515.7,340.6 516.1,340.6 516.5,340.6 516.9,340.6 517.3,340.7 517.7,340.7 518.1,340.7 518.5,340.8 518.9,340.8 519.3,340.9 519.7,340.9 520.1,341.0 520.5,341.1 520.9,341.1 521.3,341.2 521.7,341.3 522.1,341.3 522.5,341.4 522.9,341.5 523.3,341.5 523.7,341.6 524.1,341.7 524.5,341.7 524.9,341.8 525.3,341.9 525.7,342.0 526.1,342.0 526.5,342.1 526.9,342.2 527.3,342.2 527.7,342.3 528.1,342.4 528.5,342.5 528.9,342.6 529.3,342.6 529.7,342.7 530.1,342.8 530.5,342.9 530.9,343.0 531.3,343.0 531.7,343.1 532.1,343.2 532.5,343.3 532.9,343.4 533.3,343.5 533.7,343.6 534.1,343.6 534.5,343.7 534.9,343.8 535.3,343.9 535.7,344.0 536.1,344.1 536.5,344.2 536.9,344.3 537.3,344.4 537.7,344.5 538.1,344.6 538.5,344.7 538.9,344.8 539.3,344.9 539.7,345.0 540.1,345.1 540.5,345.2 540.9,345.3 541.3,345.3 541.7,345.4 542.1,345.5 542.5,345.6 542.9,345.7 543.3,345.8 543.7,345.9 544.1,346.0 544.5,346.1 544.9,346.2 545.3,346.3 545.7,346.4 546.1,346.5 546.5,346.6 546.9,346.7 547.3,346.8 547.7,346.9 548.1,347.0 548.5,347.1 548.9,347.2 549.3,347.4 549.7,347.5 550.1,347.6 550.5,347.7 550.9,347.8 551.3,347.9 551.7,348.0 552.1,348.2 552.5,348.3 552.9,348.4 553.3,348.5 553.7,348.7 554.1,348.8 554.5,348.9 554.9,349.0 555.3,349.2 555.7,349.3 556.1,349.5 556.5,349.6 556.9,349.8 557.3,349.9 557.7,350.1 558.1,350.2 558.5,350.4 558.9,350.6 559.3,350.7 559.7,350.9 560.1,351.1 560.5,351.3 560.9,351.4 561.3,351.6 561.7,351.8 562.1,352.0 562.5,352.2 562.9,352.4 563.3,352.6 563.7,352.7 564.1,352.9 564.5,353.1 564.9,353.3 565.3,353.5 565.7,353.7 566.1,353.9 566.5,354.1 566.9,354.2 567.3,354.4 567.7,354.6 568.1,354.8 568.5,355.0 568.9,355.2 569.3,355.4 569.7,355.6 570.1,355.8 570.5,356.0 570.9,356.2 571.3,356.4 571.7,356.6 572.1,356.8 572.5,356.9 572.9,357.1 573.3,357.3 573.7,357.5 574.1,357.7 574.5,357.9 574.9,358.0 575.3,358.2 575.7,358.4 576.1,358.6 576.5,358.8 576.9,359.0 577.3,359.1 577.7,359.3 578.1,359.5 578.5,359.7 578.9,359.9 579.3,360.1 579.7,360.2 580.1,360.4 580.5,360.6 580.9,360.8 581.3,361.0 581.7,361.2 582.1,361.3 582.5,361.5 582.9,361.7 583.3,361.9 583.7,362.1 584.1,362.2 584.5,362.4 584.9,362.6 585.3,362.8 585.7,363.0 586.1,363.2 586.5,363.4 586.9,363.5 587.3,363.7 587.7,363.9 588.1,364.1 588.5,364.3 588.9,364.5 589.3,364.7 589.7,364.9 590.1,365.1 590.5,365.3 590.9,365.4 591.3,365.6 591.7,365.8 592.1,366.0 592.5,366.2 592.9,366.3 593.3,366.5 593.7,366.7 594.1,366.8 594.5,367.0 594.9,367.1 595.3,367.3 595.7,367.4 596.1,367.6 596.5,367.7 596.9,367.9 597.3,368.0 597.7,368.2 598.1,368.3 598.5,368.5 598.9,368.6 599.3,368.8 599.7,368.9 600.1,369.0 600.5,369.2 600.9,369.3 601.3,369.5 601.7,369.6 602.1,369.8 602.5,369.9 602.9,370.1 603.3,370.2 603.7,370.4 604.1,370.5 604.5,370.6 604.9,370.8 605.3,370.9 605.7,371.0 606.1,371.1 606.5,371.2 606.9,371.3 607.3,371.4 607.7,371.5 608.1,371.5 608.5,371.6 608.9,371.7 609.3,371.7 609.7,371.8 610.1,371.8 610.5,371.9 610.9,371.9 611.3,372.0 611.7,372.0 612.1,372.1 612.5,372.1 612.9,372.2 613.3,372.2 613.7,372.3 614.1,372.3 614.5,372.4 614.9,372.4 615.3,372.5 615.7,372.5 616.1,372.5 616.5,372.6 616.9,372.6 617.3,372.6 617.7,372.7 618.1,372.7 618.5,372.8 618.9,372.8 619.3,372.9 619.7,372.9 620.1,372.9 620.5,373.0 620.9,373.0 621.3,373.1 621.7,373.1 622.1,373.2 622.5,373.3 622.9,373.3 623.3,373.4 623.7,373.4 624.1,373.5 624.5,373.5 624.9,373.6 625.3,373.6 625.7,373.7 626.1,373.7 626.5,373.8 626.9,373.8 627.3,373.9 627.7,373.9 628.1,374.0 628.5,374.0 628.9,374.1 629.3,374.1 629.7,374.2 630.1,374.2 630.5,374.3 630.9,374.3 631.3,374.3 631.7,374.4 632.1,374.4 632.5,374.5 632.9,374.5 633.3,374.6 633.7,374.6 634.1,374.7 634.5,374.7 634.9,374.8 635.3,374.8 635.7,374.8 636.1,374.9 636.5,374.9 636.9,375.0 637.3,375.0 637.7,375.1 638.1,375.1 638.5,375.1 638.9,375.2 639.3,375.2 639.7,375.3 640.1,375.3 640.5,375.4 640.9,375.4 641.3,375.4 641.7,375.5 642.1,375.5 642.5,375.6 642.9,375.6 643.3,375.7 643.7,375.7 644.1,375.8 644.5,375.8 644.9,375.9 645.3,375.9 645.7,376.0 646.1,376.0 646.5,376.1 646.9,376.1 647.3,376.2 647.7,376.2 648.1,376.3 648.5,376.4 648.9,376.4 649.3,376.5 649.7,376.6 650.1,376.6 650.5,376.7 650.9,376.7 651.3,376.8 651.7,376.9 652.1,376.9 652.5,377.0 652.9,377.1 653.3,377.1 653.7,377.2 654.1,377.2 654.5,377.3 654.9,377.4 655.3,377.4 655.7,377.5 656.1,377.5 656.5,377.6 656.9,377.6 657.3,377.7 657.7,377.7 658.1,377.8 658.5,377.9 658.9,377.9 659.3,378.0 659.7,378.0 660.1,378.1 660.5,378.1 660.9,378.2 661.3,378.2 661.7,378.3 662.1,378.3 662.5,378.4 662.9,378.4 663.3,378.5 663.7,378.5 664.1,378.6 664.5,378.6 664.9,378.7 665.3,378.7 665.7,378.7 666.1,378.8 666.5,378.8 666.9,378.9 667.3,378.9 667.7,378.9 668.1,379.0 668.5,379.0 668.9,379.1 669.3,379.1 669.7,379.1 670.1,379.1 670.5,379.2 670.9,379.2 671.3,379.2 671.7,379.3 672.1,379.3 672.5,379.3 672.9,379.3 673.3,379.4 673.7,379.4 674.1,379.4 674.5,379.4 674.9,379.5 675.3,379.5 675.7,379.5 676.1,379.5 676.5,379.6 676.9,379.6" fill="none" stroke="#a0a038" stroke-width="1.2" stroke-linejoin="round"/>
<polyline points="490.5,346.8 490.9,346.1 491.3,345.5 491.7,345.0 492.1,344.6 492.5,344.4 492.9,344.2 493.3,344.0 493.7,343.9 494.1,343.7 494.5,343.6 494.9,343.4 495.3,343.3 495.7,343.1 496.1,342.9 496.5,342.8 496.9,342.6 497.3,342.5 497.7,342.4 498.1,342.3 498.5,342.2 498.9,342.1 499.3,342.0 499.7,342.0 500.1,341.9 500.5,341.8 500.9,341.8 501.3,341.7 501.7,341.7 502.1,341.6 502.5,341.6 502.9,341.5 503.3,341.5 503.7,341.4 504.1,341.4 504.5,341.3 504.9,341.3 505.3,341.2 505.7,341.2 506.1,341.2 506.5,341.1 506.9,341.1 507.3,341.1 507.7,341.0 508.1,341.0 508.5,341.0 508.9,340.9 509.3,340.9 509.7,340.9 510.1,340.9 510.5,340.9 510.9,340.9 511.3,340.9 511.7,340.9 512.1,340.9 512.5,340.9 512.9,340.9 513.3,340.9 513.7,340.9 514.1,340.9 514.5,340.9 514.9,340.9 515.3,340.9 515.7,341.0 516.1,341.0 516.5,341.0 516.9,341.1 517.3,341.1 517.7,341.1 518.1,341.2 518.5,341.3 518.9,341.3 519.3,341.4 519.7,341.5 520.1,341.6 520.5,341.7 520.9,341.8 521.3,341.9 521.7,342.0 522.1,342.1 522.5,342.2 522.9,342.3 523.3,342.4 523.7,342.5 524.1,342.6 524.5,342.7 524.9,342.8 525.3,342.9 525.7,343.0 526.1,343.1 526.5,343.2 526.9,343.4 527.3,343.5 527.7,343.6 528.1,343.7 528.5,343.8 528.9,344.0 529.3,344.1 529.7,344.2 530.1,344.4 530.5,344.5 530.9,344.6 531.3,344.8 531.7,344.9 532.1,345.1 532.5,345.2 532.9,345.3 533.3,345.5 533.7,345.6 534.1,345.8 534.5,345.9 534.9,346.1 535.3,346.2 535.7,346.4 536.1,346.6 536.5,346.7 536.9,346.9 537.3,347.0 537.7,347.2 538.1,347.4 538.5,347.5 538.9,347.7 539.3,347.9 539.7,348.0 540.1,348.2 540.5,348.4 540.9,348.5 541.3,348.7 541.7,348.9 542.1,349.0 542.5,349.2 542.9,349.4 543.3,349.5 543.7,349.7 544.1,349.9 544.5,350.0 544.9,350.2 545.3,350.4 545.7,350.5 546.1,350.7 546.5,350.9 546.9,351.0 547.3,351.2 547.7,351.3 548.1,351.5 548.5,351.7 548.9,351.8 549.3,352.0 549.7,352.2 550.1,352.3 550.5,352.5 550.9,352.6 551.3,352.8 551.7,353.0 552.1,353.1 552.5,353.3 552.9,353.4 553.3,353.6 553.7,353.7 554.1,353.9 554.5,354.1 554.9,354.2 555.3,354.4 555.7,354.5 556.1,354.7 556.5,354.8 556.9,355.0 557.3,355.2 557.7,355.3 558.1,355.5 558.5,355.7 558.9,355.8 559.3,356.0 559.7,356.1 560.1,356.3 560.5,356.5 560.9,356.6 561.3,356.8 561.7,356.9 562.1,357.1 562.5,357.2 562.9,357.4 563.3,357.5 563.7,357.7 564.1,357.8 564.5,358.0 564.9,358.1 565.3,358.3 565.7,358.4 566.1,358.6 566.5,358.7 566.9,358.8 567.3,359.0 567.7,359.1 568.1,359.2 568.5,359.4 568.9,359.5 569.3,359.6 569.7,359.8 570.1,359.9 570.5,360.0 570.9,360.2 571.3,360.3 571.7,360.4 572.1,360.5 572.5,360.6 572.9,360.8 573.3,360.9 573.7,361.0 574.1,361.1 574.5,361.2 574.9,361.3 575.3,361.4 575.7,361.5 576.1,361.6 576.5,361.8 576.9,361.9 577.3,362.0 577.7,362.1 578.1,362.2 578.5,362.3 578.9,362.4 579.3,362.6 579.7,362.7 580.1,362.8 580.5,362.9 580.9,363.0 581.3,363.1 581.7,363.2 582.1,363.4 582.5,363.5 582.9,363.6 583.3,363.7 583.7,363.8 584.1,364.0 584.5,364.1 584.9,364.2 585.3,364.3 585.7,364.5 586.1,364.6 586.5,364.7 586.9,364.9 587.3,365.0 587.7,365.1 588.1,365.3 588.5,365.4 588.9,365.6 589.3,365.7 589.7,365.8 590.1,366.0 590.5,366.1 590.9,366.3 591.3,366.4 591.7,366.5 592.1,366.7 592.5,366.8 592.9,367.0 593.3,367.1 593.7,367.2 594.1,367.3 594.5,367.5 594.9,367.6 595.3,367.7 595.7,367.8 596.1,367.9 596.5,368.1 596.9,368.2 597.3,368.3 597.7,368.4 598.1,368.5 598.5,368.6 598.9,368.8 599.3,368.9 599.7,369.0 600.1,369.1 600.5,369.2 600.9,369.3 601.3,369.5 601.7,369.6 602.1,369.7 602.5,369.8 602.9,370.0 603.3,370.1 603.7,370.2 604.1,370.3 604.5,370.4 604.9,370.5 605.3,370.6 605.7,370.7 606.1,370.8 606.5,370.9 606.9,370.9 607.3,371.0 607.7,371.0 608.1,371.1 608.5,371.1 608.9,371.1 609.3,371.2 609.7,371.2 610.1,371.2 610.5,371.2 610.9,371.2 611.3,371.2 611.7,371.2 612.1,371.2 612.5,371.2 612.9,371.2 613.3,371.2 613.7,371.2 614.1,371.2 614.5,371.1 614.9,371.1 615.3,371.0 615.7,370.9 616.1,370.8 616.5,370.6 616.9,370.4 617.3,370.2 617.7,369.8 618.1,369.4 618.5,368.9 618.9,368.2 619.3,367.4 619.7,366.4 620.1,365.1 620.5,363.6 620.9,361.9 621.3,359.8 621.7,357.4 622.1,354.6 622.5,351.5 622.9,348.0 623.3,344.2 623.7,340.1 624.1,335.8 624.5,331.2 624.9,326.6 625.3,322.0 625.7,317.5 626.1,313.3 626.5,309.4 626.9,306.1 627.3,303.5 627.7,301.7 628.1,300.8 628.5,300.9 628.9,301.9 629.3,303.8 629.7,306.5 630.1,309.9 630.5,313.8 630.9,318.1 631.3,322.7 631.7,327.4 632.1,332.1 632.5,336.8 632.9,341.2 633.3,345.4 633.7,349.3 634.1,352.9 634.5,356.1 634.9,359.0 635.3,361.5 635.7,363.6 636.1,365.5 636.5,367.1 636.9,368.4 637.3,369.5 637.7,370.4 638.1,371.2 638.5,371.8 638.9,372.3 639.3,372.7 639.7,373.0 640.1,373.3 640.5,373.5 640.9,373.7 641.3,373.9 641.7,374.1 642.1,374.2 642.5,374.3 642.9,374.5 643.3,374.6 643.7,374.7 644.1,374.8 644.5,374.9 644.9,375.0 645.3,375.1 645.7,375.1 646.1,375.2 646.5,375.3 646.9,375.4 647.3,375.5 647.7,375.6 648.1,375.7 648.5,375.8 648.9,375.8 649.3,375.9 649.7,376.0 650.1,376.1 650.5,376.2 650.9,376.3 651.3,376.3 651.7,376.4 652.1,376.5 652.5,376.6 652.9,376.7 653.3,376.7 653.7,376.8 654.1,376.9 654.5,376.9 654.9,377.0 655.3,377.1 655.7,377.1 656.1,377.2 656.5,377.3 656.9,377.3 657.3,377.4 657.7,377.5 658.1,377.5 658.5,377.6 658.9,377.6 659.3,377.7 659.7,377.8 660.1,377.8 660.5,377.9 660.9,377.9 661.3,378.0 661.7,378.0 662.1,378.1 662.5,378.2 662.9,378.2 663.3,378.3 663.7,378.3 664.1,378.4 664.5,378.4 664.9,378.5 665.3,378.5 665.7,378.6 666.1,378.6 666.5,378.7 666.9,378.7 667.3,378.8 667.7,378.8 668.1,378.8 668.5,378.9 668.9,378.9 669.3,378.9 669.7,379.0 670.1,379.0 670.5,379.0 670.9,379.1 671.3,379.1 671.7,379.1 672.1,379.2 672.5,379.2 672.9,379.2 673.3,379.2 673.7,379.3 674.1,379.3 674.5,379.3 674.9,379.3 675.3,379.4 675.7,379.4 676.1,379.4 676.5,379.5 676.9,379.5" fill="none" stroke="#8c6cc8" stroke-width="1.2" stroke-linejoin="round"/>
<polyline points="490.5,346.8 490.9,346.1 491.3,345.5 491.7,345.0 492.1,344.6 492.5,344.4 492.9,344.2 493.3,344.0 493.7,343.9 494.1,343.7 494.5,343.6 494.9,343.4 495.3,343.3 495.7,343.1 496.1,342.9 496.5,342.8 496.9,342.6 497.3,342.5 497.7,342.4 498.1,342.3 498.5,342.2 498.9,342.1 499.3,342.0 499.7,342.0 500.1,341.9 500.5,341.8 500.9,341.8 501.3,341.7 501.7,341.7 502.1,341.6 502.5,341.6 502.9,341.5 503.3,341.5 503.7,341.4 504.1,341.4 504.5,341.3 504.9,341.3 505.3,341.2 505.7,341.2 506.1,341.2 506.5,341.1 506.9,341.1 507.3,341.1 507.7,341.0 508.1,341.0 508.5,341.0 508.9,340.9 509.3,340.9 509.7,340.9 510.1,340.9 510.5,340.9 510.9,340.9 511.3,340.9 511.7,340.9 512.1,340.9 512.5,340.9 512.9,340.9 513.3,340.9 513.7,340.9 514.1,340.9 514.5,340.9 514.9,340.9 515.3,340.9 515.7,341.0 516.1,341.0 516.5,341.0 516.9,341.1 517.3,341.1 517.7,341.1 518.1,341.2 518.5,341.3 518.9,341.3 519.3,341.4 519.7,341.5 520.1,341.6 520.5,341.7 520.9,341.8 521.3,341.9 521.7,342.0 522.1,342.1 522.5,342.2 522.9,342.3 523.3,342.4 523.7,342.5 524.1,342.6 524.5,342.7 524.9,342.8 525.3,342.9 525.7,343.0 526.1,343.1 526.5,343.2 526.9,343.4 527.3,343.5 527.7,343.6 528.1,343.7 528.5,343.8 528.9,344.0 529.3,344.1 529.7,344.2 530.1,344.4 530.5,344.5 530.9,344.6 531.3,344.8 531.7,344.9 532.1,345.1 532.5,345.2 532.9,345.3 533.3,345.5 533.7,345.6 534.1,345.8 534.5,345.9 534.9,346.1 535.3,346.2 535.7,346.4 536.1,346.6 536.5,346.7 536.9,346.9 537.3,347.0 537.7,347.2 538.1,347.4 538.5,347.5 538.9,347.7 539.3,347.9 539.7,348.0 540.1,348.2 540.5,348.4 540.9,348.6 541.3,348.7 541.7,348.9 542.1,349.0 542.5,349.2 542.9,349.4 543.3,349.5 543.7,349.7 544.1,349.9 544.5,350.0 544.9,350.2 545.3,350.4 545.7,350.5 546.1,350.7 546.5,350.9 546.9,351.0 547.3,351.2 547.7,351.4 548.1,351.5 548.5,351.7 548.9,351.8 549.3,352.0 549.7,352.2 550.1,352.3 550.5,352.5 550.9,352.6 551.3,352.8 551.7,353.0 552.1,353.1 552.5,353.3 552.9,353.4 553.3,353.6 553.7,353.7 554.1,353.9 554.5,354.1 554.9,354.2 555.3,354.4 555.7,354.5 556.1,354.7 556.5,354.9 556.9,355.0 557.3,355.2 557.7,355.3 558.1,355.5 558.5,355.7 558.9,355.8 559.3,356.0 559.7,356.1 560.1,356.3 560.5,356.5 560.9,356.6 561.3,356.8 561.7,356.9 562.1,357.1 562.5,357.3 562.9,357.4 563.3,357.6 563.7,357.7 564.1,357.9 564.5,358.0 564.9,358.1 565.3,358.3 565.7,358.4 566.1,358.6 566.5,358.7 566.9,358.8 567.3,359.0 567.7,359.1 568.1,359.3 568.5,359.4 568.9,359.5 569.3,359.7 569.7,359.8 570.1,359.9 570.5,360.0 570.9,360.2 571.3,360.3 571.7,360.4 572.1,360.5 572.5,360.7 572.9,360.8 573.3,360.9 573.7,361.0 574.1,361.1 574.5,361.2 574.9,361.3 575.3,361.4 575.7,361.6 576.1,361.7 576.5,361.8 576.9,361.9 577.3,362.0 577.7,362.1 578.1,362.2 578.5,362.3 578.9,362.5 579.3,362.6 579.7,362.7 580.1,362.8 580.5,362.9 580.9,363.0 581.3,363.1 581.7,363.3 582.1,363.4 582.5,363.5 582.9,363.6 583.3,363.7 583.7,363.9 584.1,364.0 584.5,364.1 584.9,364.2 585.3,364.4 585.7,364.5 586.1,364.6 586.5,364.7 586.9,364.9 587.3,365.0 587.7,365.2 588.1,365.3 588.5,365.4 588.9,365.6 589.3,365.7 589.7,365.9 590.1,366.0 590.5,366.2 590.9,366.3 591.3,366.5 591.7,366.6 592.1,366.7 592.5,366.9 592.9,367.0 593.3,367.1 593.7,367.3 594.1,367.4 594.5,367.5 594.9,367.6 595.3,367.8 595.7,367.9 596.1,368.0 596.5,368.1 596.9,368.2 597.3,368.4 597.7,368.5 598.1,368.6 598.5,368.7 598.9,368.8 599.3,369.0 599.7,369.1 600.1,369.2 600.5,369.3 600.9,369.4 601.3,369.6 601.7,369.7 602.1,369.8 602.5,370.0 602.9,370.1 603.3,370.2 603.7,370.3 604.1,370.5 604.5,370.6 604.9,370.7 605.3,370.8 605.7,370.9 606.1,371.0 606.5,371.0 606.9,371.1 607.3,371.2 607.7,371.2 608.1,371.3 608.5,371.3 608.9,371.4 609.3,371.4 609.7,371.5 610.1,371.5 610.5,371.5 610.9,371.6 611.3,371.6 611.7,371.6 612.1,371.6 612.5,371.7 612.9,371.7 613.3,371.7 613.7,371.7 614.1,371.7 614.5,371.8 614.9,371.8 615.3,371.8 615.7,371.8 616.1,371.8 616.5,371.8 616.9,371.8 617.3,371.8 617.7,371.8 618.1,371.8 618.5,371.8 618.9,371.7 619.3,371.7 619.7,371.7 620.1,371.7 620.5,371.6 620.9,371.6 621.3,371.5 621.7,371.4 622.1,371.3 622.5,371.1 622.9,370.9 623.3,370.6 623.7,370.3 624.1,369.8 624.5,369.2 624.9,368.5 625.3,367.6 625.7,366.5 626.1,365.1 626.5,363.5 626.9,361.5 627.3,359.2 627.7,356.6 628.1,353.6 628.5,350.2 628.9,346.4 629.3,342.3 629.7,337.9 630.1,333.2 630.5,328.4 630.9,323.5 631.3,318.6 631.7,314.0 632.1,309.6 632.5,305.7 632.9,302.4 633.3,299.8 633.7,298.1 634.1,297.4 634.5,297.7 634.9,299.0 635.3,301.2 635.7,304.3 636.1,308.0 636.5,312.2 636.9,316.9 637.3,321.7 637.7,326.7 638.1,331.7 638.5,336.5 638.9,341.2 639.3,345.5 639.7,349.5 640.1,353.2 640.5,356.5 640.9,359.4 641.3,362.0 641.7,364.2 642.1,366.1 642.5,367.7 642.9,369.0 643.3,370.1 643.7,371.0 644.1,371.8 644.5,372.4 644.9,372.9 645.3,373.3 645.7,373.7 646.1,373.9 646.5,374.2 646.9,374.4 647.3,374.6 647.7,374.8 648.1,374.9 648.5,375.1 648.9,375.2 649.3,375.3 649.7,375.5 650.1,375.6 650.5,375.7 650.9,375.8 651.3,375.9 651.7,376.0 652.1,376.1 652.5,376.2 652.9,376.3 653.3,376.4 653.7,376.5 654.1,376.6 654.5,376.7 654.9,376.7 655.3,376.8 655.7,376.9 656.1,377.0 656.5,377.1 656.9,377.1 657.3,377.2 657.7,377.3 658.1,377.3 658.5,377.4 658.9,377.5 659.3,377.5 659.7,377.6 660.1,377.7 660.5,377.7 660.9,377.8 661.3,377.9 661.7,377.9 662.1,378.0 662.5,378.0 662.9,378.1 663.3,378.2 663.7,378.2 664.1,378.3 664.5,378.3 664.9,378.4 665.3,378.4 665.7,378.5 666.1,378.5 666.5,378.6 666.9,378.6 667.3,378.7 667.7,378.7 668.1,378.8 668.5,378.8 668.9,378.8 669.3,378.9 669.7,378.9 670.1,378.9 670.5,379.0 670.9,379.0 671.3,379.0 671.7,379.1 672.1,379.1 672.5,379.1 672.9,379.2 673.3,379.2 673.7,379.2 674.1,379.2 674.5,379.3 674.9,379.3 675.3,379.3 675.7,379.4 676.1,379.4 676.5,379.4 676.9,379.4" fill="none" stroke="#ca4a54" stroke-width="1.2" stroke-linejoin="round"/>
<polyline points="490.5,346.8 490.9,346.1 491.3,345.5 491.7,345.0 492.1,344.6 492.5,344.4 492.9,344.2 493.3,344.0 493.7,343.9 494.1,343.7 494.5,343.6 494.9,343.4 495.3,343.3 495.7,343.1 496.1,342.9 496.5,342.8 496.9,342.6 497.3,342.5 497.7,342.4 498.1,342.3 498.5,342.2 498.9,342.1 499.3,342.0 499.7,342.0 500.1,341.9 500.5,341.8 500.9,341.8 501.3,341.7 501.7,341.7 502.1,341.6 502.5,341.6 502.9,341.5 503.3,341.5 503.7,341.4 504.1,341.4 504.5,341.3 504.9,341.3 505.3,341.2 505.7,341.2 506.1,341.2 506.5,341.1 506.9,341.1 507.3,341.1 507.7,341.0 508.1,341.0 508.5,341.0 508.9,340.9 509.3,340.9 509.7,340.9 510.1,340.9 510.5,340.9 510.9,340.9 511.3,340.9 511.7,340.9 512.1,340.9 512.5,340.9 512.9,340.9 513.3,340.9 513.7,340.9 514.1,340.9 514.5,340.9 514.9,340.9 515.3,340.9 515.7,341.0 516.1,341.0 516.5,341.0 516.9,341.1 517.3,341.1 517.7,341.1 518.1,341.2 518.5,341.3 518.9,341.3 519.3,341.4 519.7,341.5 520.1,341.6 520.5,341.7 520.9,341.8 521.3,341.9 521.7,342.0 522.1,342.1 522.5,342.2 522.9,342.3 523.3,342.4 523.7,342.5 524.1,342.6 524.5,342.7 524.9,342.8 525.3,342.9 525.7,343.0 526.1,343.1 526.5,343.2 526.9,343.4 527.3,343.5 527.7,343.6 528.1,343.7 528.5,343.8 528.9,344.0 529.3,344.1 529.7,344.2 530.1,344.4 530.5,344.5 530.9,344.6 531.3,344.8 531.7,344.9 532.1,345.1 532.5,345.2 532.9,345.3 533.3,345.5 533.7,345.6 534.1,345.8 534.5,345.9 534.9,346.1 535.3,346.2 535.7,346.4 536.1,346.5 536.5,346.7 536.9,346.9 537.3,347.0 537.7,347.2 538.1,347.4 538.5,347.5 538.9,347.7 539.3,347.9 539.7,348.0 540.1,348.2 540.5,348.4 540.9,348.5 541.3,348.7 541.7,348.9 542.1,349.0 542.5,349.2 542.9,349.4 543.3,349.5 543.7,349.7 544.1,349.9 544.5,350.0 544.9,350.2 545.3,350.4 545.7,350.5 546.1,350.7 546.5,350.9 546.9,351.0 547.3,351.2 547.7,351.3 548.1,351.5 548.5,351.7 548.9,351.8 549.3,352.0 549.7,352.2 550.1,352.3 550.5,352.5 550.9,352.6 551.3,352.8 551.7,353.0 552.1,353.1 552.5,353.3 552.9,353.4 553.3,353.6 553.7,353.7 554.1,353.9 554.5,354.1 554.9,354.2 555.3,354.4 555.7,354.5 556.1,354.7 556.5,354.8 556.9,355.0 557.3,355.2 557.7,355.3 558.1,355.5 558.5,355.6 558.9,355.8 559.3,356.0 559.7,356.1 560.1,356.3 560.5,356.5 560.9,356.6 561.3,356.8 561.7,356.9 562.1,357.1 562.5,357.2 562.9,357.4 563.3,357.5 563.7,357.7 564.1,357.8 564.5,358.0 564.9,358.1 565.3,358.3 565.7,358.4 566.1,358.6 566.5,358.7 566.9,358.8 567.3,359.0 567.7,359.1 568.1,359.2 568.5,359.4 568.9,359.5 569.3,359.6 569.7,359.8 570.1,359.9 570.5,360.0 570.9,360.2 571.3,360.3 571.7,360.4 572.1,360.5 572.5,360.6 572.9,360.8 573.3,360.9 573.7,361.0 574.1,361.1 574.5,361.2 574.9,361.3 575.3,361.4 575.7,361.5 576.1,361.7 576.5,361.8 576.9,361.9 577.3,362.0 577.7,362.1 578.1,362.2 578.5,362.3 578.9,362.4 579.3,362.6 579.7,362.7 580.1,362.8 580.5,362.9 580.9,363.0 581.3,363.1 581.7,363.3 582.1,363.4 582.5,363.5 582.9,363.6 583.3,363.7 583.7,363.8 584.1,364.0 584.5,364.1 584.9,364.2 585.3,364.3 585.7,364.5 586.1,364.6 586.5,364.7 586.9,364.9 587.3,365.0 587.7,365.2 588.1,365.3 588.5,365.4 588.9,365.6 589.3,365.7 589.7,365.9 590.1,366.0 590.5,366.2 590.9,366.3 591.3,366.4 591.7,366.6 592.1,366.7 592.5,366.9 592.9,367.0 593.3,367.1 593.7,367.3 594.1,367.4 594.5,367.5 594.9,367.6 595.3,367.8 595.7,367.9 596.1,368.0 596.5,368.1 596.9,368.2 597.3,368.4 597.7,368.5 598.1,368.6 598.5,368.7 598.9,368.8 599.3,369.0 599.7,369.1 600.1,369.2 600.5,369.3 600.9,369.5 601.3,369.6 601.7,369.7 602.1,369.8 602.5,370.0 602.9,370.1 603.3,370.2 603.7,370.4 604.1,370.5 604.5,370.6 604.9,370.7 605.3,370.8 605.7,370.9 606.1,371.0 606.5,371.1 606.9,371.2 607.3,371.2 607.7,371.3 608.1,371.4 608.5,371.4 608.9,371.5 609.3,371.5 609.7,371.5 610.1,371.6 610.5,371.6 610.9,371.7 611.3,371.7 611.7,371.7 612.1,371.8 612.5,371.8 612.9,371.8 613.3,371.9 613.7,371.9 614.1,371.9 614.5,371.9 614.9,372.0 615.3,372.0 615.7,372.0 616.1,372.0 616.5,372.0 616.9,372.1 617.3,372.1 617.7,372.1 618.1,372.1 618.5,372.1 618.9,372.1 619.3,372.1 619.7,372.2 620.1,372.2 620.5,372.2 620.9,372.2 621.3,372.2 621.7,372.2 622.1,372.3 622.5,372.3 622.9,372.3 623.3,372.3 623.7,372.3 624.1,372.3 624.5,372.3 624.9,372.3 625.3,372.3 625.7,372.3 626.1,372.2 626.5,372.2 626.9,372.2 627.3,372.1 627.7,372.1 628.1,372.0 628.5,371.9 628.9,371.8 629.3,371.7 629.7,371.6 630.1,371.4 630.5,371.2 630.9,371.0 631.3,370.7 631.7,370.3 632.1,369.8 632.5,369.2 632.9,368.4 633.3,367.5 633.7,366.3 634.1,364.8 634.5,363.0 634.9,360.8 635.3,358.2 635.7,355.1 636.1,351.6 636.5,347.5 636.9,343.0 637.3,338.0 637.7,332.6 638.1,326.8 638.5,320.8 638.9,314.8 639.3,308.8 639.7,303.1 640.1,298.0 640.5,293.7 640.9,290.4 641.3,288.3 641.7,287.6 642.1,288.4 642.5,290.5 642.9,293.9 643.3,298.4 643.7,303.6 644.1,309.3 644.5,315.4 644.9,321.5 645.3,327.6 645.7,333.5 646.1,339.0 646.5,344.1 646.9,348.7 647.3,352.9 647.7,356.5 648.1,359.7 648.5,362.4 648.9,364.7 649.3,366.6 649.7,368.2 650.1,369.5 650.5,370.6 650.9,371.5 651.3,372.2 651.7,372.8 652.1,373.3 652.5,373.7 652.9,374.0 653.3,374.3 653.7,374.6 654.1,374.8 654.5,375.1 654.9,375.2 655.3,375.4 655.7,375.6 656.1,375.7 656.5,375.9 656.9,376.0 657.3,376.2 657.7,376.3 658.1,376.4 658.5,376.5 658.9,376.6 659.3,376.7 659.7,376.8 660.1,376.9 660.5,377.0 660.9,377.1 661.3,377.2 661.7,377.3 662.1,377.4 662.5,377.5 662.9,377.6 663.3,377.7 663.7,377.7 664.1,377.8 664.5,377.9 664.9,377.9 665.3,378.0 665.7,378.1 666.1,378.1 666.5,378.2 666.9,378.3 667.3,378.3 667.7,378.4 668.1,378.4 668.5,378.5 668.9,378.5 669.3,378.6 669.7,378.6 670.1,378.7 670.5,378.7 670.9,378.8 671.3,378.8 671.7,378.8 672.1,378.9 672.5,378.9 672.9,378.9 673.3,379.0 673.7,379.0 674.1,379.0 674.5,379.1 674.9,379.1 675.3,379.1 675.7,379.2 676.1,379.2 676.5,379.2 676.9,379.3" fill="none" stroke="#8fbf4a" stroke-width="1.2" stroke-linejoin="round"/>
<polyline points="490.5,347.2 491.3,345.6 492.0,347.0 492.8,345.2 493.7,345.8 494.5,344.2 495.5,343.8" fill="none" stroke="#f01c1c" stroke-width="1.2" stroke-linejoin="round"/>
<polyline points="490.5,346.8 490.9,346.1 491.3,345.5 491.7,345.0 492.1,344.6 492.5,344.4 492.9,344.2 493.3,344.0 493.7,343.9 494.1,343.7 494.5,343.6 494.9,343.4 495.3,343.3 495.7,343.1 496.1,342.9 496.5,342.8 496.9,342.6 497.3,342.5 497.7,342.4 498.1,342.3 498.5,342.2 498.9,342.1 499.3,342.0 499.7,342.0 500.1,341.9 500.5,341.9 500.9,341.8 501.3,341.8 501.7,341.7 502.1,341.7 502.5,341.6 502.9,341.5 503.3,341.5 503.7,341.4 504.1,341.4 504.5,341.4 504.9,341.3 505.3,341.3 505.7,341.2 506.1,341.2 506.5,341.1 506.9,341.1 507.3,341.1 507.7,341.0 508.1,341.0 508.5,341.0 508.9,341.0 509.3,340.9 509.7,340.9 510.1,340.9 510.5,340.9 510.9,340.9 511.3,340.9 511.7,340.9 512.1,340.9 512.5,340.9 512.9,340.9 513.3,340.9 513.7,340.9 514.1,340.9 514.5,340.9 514.9,340.9 515.3,341.0 515.7,341.0 516.1,341.0 516.5,341.0 516.9,341.1 517.3,341.1 517.7,341.2 518.1,341.2 518.5,341.3 518.9,341.4 519.3,341.4 519.7,341.5 520.1,341.6 520.5,341.7 520.9,341.8 521.3,341.9 521.7,342.0 522.1,342.1 522.5,342.2 522.9,342.3 523.3,342.4 523.7,342.5 524.1,342.6 524.5,342.7 524.9,342.8 525.3,342.9 525.7,343.0 526.1,343.2 526.5,343.3 526.9,343.4 527.3,343.5 527.7,343.6 528.1,343.7 528.5,343.9 528.9,344.0 529.3,344.1 529.7,344.3 530.1,344.4 530.5,344.5 530.9,344.7 531.3,344.8 531.7,344.9 532.1,345.1 532.5,345.2 532.9,345.4 533.3,345.5 533.7,345.7 534.1,345.8 534.5,346.0 534.9,346.1 535.3,346.3 535.7,346.4 536.1,346.6 536.5,346.7 536.9,346.9 537.3,347.1 537.7,347.2 538.1,347.4 538.5,347.6 538.9,347.7 539.3,347.9 539.7,348.1 540.1,348.2 540.5,348.4 540.9,348.6 541.3,348.8 541.7,348.9 542.1,349.1 542.5,349.2 542.9,349.4 543.3,349.6 543.7,349.7 544.1,349.9 544.5,350.1 544.9,350.2 545.3,350.4 545.7,350.6 546.1,350.7 546.5,350.9 546.9,351.1 547.3,351.2 547.7,351.4 548.1,351.6 548.5,351.7 548.9,351.9 549.3,352.0 549.7,352.2 550.1,352.4 550.5,352.5 550.9,352.7 551.3,352.8 551.7,353.0 552.1,353.2 552.5,353.3 552.9,353.5 553.3,353.6 553.7,353.8 554.1,354.0 554.5,354.1 554.9,354.3 555.3,354.4 555.7,354.6 556.1,354.7 556.5,354.9 556.9,355.1 557.3,355.2 557.7,355.4 558.1,355.5 558.5,355.7 558.9,355.9 559.3,356.0 559.7,356.2 560.1,356.4 560.5,356.5 560.9,356.7 561.3,356.8 561.7,357.0 562.1,357.2 562.5,357.3 562.9,357.5 563.3,357.6 563.7,357.8 564.1,357.9 564.5,358.1 564.9,358.2 565.3,358.3 565.7,358.5 566.1,358.6 566.5,358.8 566.9,358.9 567.3,359.0 567.7,359.2 568.1,359.3 568.5,359.5 568.9,359.6 569.3,359.7 569.7,359.9 570.1,360.0 570.5,360.1 570.9,360.2 571.3,360.4 571.7,360.5 572.1,360.6 572.5,360.7 572.9,360.8 573.3,361.0 573.7,361.1 574.1,361.2 574.5,361.3 574.9,361.4 575.3,361.5 575.7,361.6 576.1,361.7 576.5,361.9 576.9,362.0 577.3,362.1 577.7,362.2 578.1,362.3 578.5,362.4 578.9,362.5 579.3,362.7 579.7,362.8 580.1,362.9 580.5,363.0 580.9,363.1 581.3,363.2 581.7,363.4 582.1,363.5 582.5,363.6 582.9,363.7 583.3,363.8 583.7,364.0 584.1,364.1 584.5,364.2 584.9,364.3 585.3,364.5 585.7,364.6 586.1,364.7 586.5,364.9 586.9,365.0 587.3,365.1 587.7,365.3 588.1,365.4 588.5,365.6 588.9,365.7 589.3,365.9 589.7,366.0 590.1,366.2 590.5,366.3 590.9,366.5 591.3,366.6 591.7,366.7 592.1,366.9 592.5,367.0 592.9,367.2 593.3,367.3 593.7,367.4 594.1,367.6 594.5,367.7 594.9,367.8 595.3,367.9 595.7,368.1 596.1,368.2 596.5,368.3 596.9,368.4 597.3,368.6 597.7,368.7 598.1,368.8 598.5,368.9 598.9,369.1 599.3,369.2 599.7,369.3 600.1,369.4 600.5,369.6 600.9,369.7 601.3,369.8 601.7,370.0 602.1,370.1 602.5,370.2 602.9,370.4 603.3,370.5 603.7,370.6 604.1,370.8 604.5,370.9 604.9,371.0 605.3,371.1 605.7,371.2 606.1,371.3 606.5,371.4 606.9,371.5 607.3,371.6 607.7,371.6 608.1,371.7 608.5,371.8 608.9,371.8 609.3,371.9 609.7,371.9 610.1,372.0 610.5,372.0 610.9,372.1 611.3,372.1 611.7,372.2 612.1,372.2 612.5,372.3 612.9,372.3 613.3,372.3 613.7,372.4 614.1,372.4 614.5,372.5 614.9,372.5 615.3,372.5 615.7,372.6 616.1,372.6 616.5,372.7 616.9,372.7 617.3,372.7 617.7,372.8 618.1,372.8 618.5,372.8 618.9,372.9 619.3,372.9 619.7,373.0 620.1,373.0 620.5,373.1 620.9,373.1 621.3,373.2 621.7,373.2 622.1,373.3 622.5,373.3 622.9,373.4 623.3,373.4 623.7,373.5 624.1,373.5 624.5,373.6 624.9,373.6 625.3,373.7 625.7,373.7 626.1,373.8 626.5,373.8 626.9,373.9 627.3,373.9 627.7,374.0 628.1,374.0 628.5,374.1 628.9,374.1 629.3,374.2 629.7,374.2 630.1,374.3 630.5,374.3 630.9,374.3 631.3,374.4 631.7,374.4 632.1,374.5 632.5,374.5 632.9,374.6 633.3,374.6 633.7,374.7 634.1,374.7 634.5,374.7 634.9,374.8 635.3,374.8 635.7,374.9 636.1,374.9 636.5,375.0 636.9,375.0 637.3,375.0 637.7,375.1 638.1,375.1 638.5,375.2 638.9,375.2 639.3,375.3 639.7,375.3 640.1,375.3 640.5,375.4 640.9,375.4 641.3,375.5 641.7,375.5 642.1,375.6 642.5,375.6 642.9,375.7 643.3,375.7 643.7,375.7 644.1,375.8 644.5,375.8 644.9,375.9 645.3,375.9 645.7,376.0 646.1,376.0 646.5,376.1 646.9,376.1 647.3,376.2 647.7,376.3 648.1,376.3 648.5,376.4 648.9,376.5 649.3,376.5 649.7,376.6 650.1,376.6 650.5,376.7 650.9,376.8 651.3,376.8 651.7,376.9 652.1,377.0 652.5,377.0 652.9,377.1 653.3,377.2 653.7,377.2 654.1,377.3 654.5,377.3 654.9,377.4 655.3,377.4 655.7,377.5 656.1,377.6 656.5,377.6 656.9,377.7 657.3,377.7 657.7,377.8 658.1,377.8 658.5,377.9 658.9,377.9 659.3,378.0 659.7,378.0 660.1,378.1 660.5,378.1 660.9,378.2 661.3,378.2 661.7,378.3 662.1,378.3 662.5,378.4 662.9,378.4 663.3,378.5 663.7,378.5 664.1,378.6 664.5,378.6 664.9,378.7 665.3,378.7 665.7,378.8 666.1,378.8 666.5,378.8 666.9,378.9 667.3,378.9 667.7,379.0 668.1,379.0 668.5,379.0 668.9,379.1 669.3,379.1 669.7,379.1 670.1,379.2 670.5,379.2 670.9,379.2 671.3,379.2 671.7,379.3 672.1,379.3 672.5,379.3 672.9,379.4 673.3,379.4 673.7,379.4 674.1,379.4 674.5,379.4 674.9,379.5 675.3,379.5 675.7,379.5 676.1,379.5 676.5,379.6 676.9,379.6" fill="none" stroke="#f01c1c" stroke-width="1.15" stroke-linejoin="round"/>
<polyline points="495.5,343.6 495.8,343.3 496.3,342.9 496.8,342.4 497.4,341.8 498.0,341.2 498.5,340.5 498.9,339.7 499.4,338.7 499.8,337.7 500.2,336.7 500.6,335.7 501.0,334.7 501.4,333.8 501.9,333.0 502.3,332.1 502.7,331.3 503.1,330.4 503.5,329.5 503.9,328.5 504.2,327.5 504.5,326.5 504.9,325.4 505.2,324.2 505.5,323.0 505.8,321.6 506.1,320.2 506.4,318.7 506.7,317.1 507.0,315.6 507.3,314.0 507.6,312.5 507.9,310.9 508.3,309.3 508.6,307.7 508.9,306.2 509.3,304.6 509.7,303.0 510.0,301.4 510.4,299.7 510.8,298.2 511.2,296.7 511.6,295.5 512.0,294.5 512.3,293.6 512.7,292.8 513.1,292.1 513.4,291.6 513.8,291.2 514.1,290.9 514.5,290.9 514.8,290.9 515.2,291.0 515.5,291.1 515.8,291.2 516.1,291.3 516.4,291.3 516.7,291.4 517.0,291.5 517.3,291.7 517.6,291.8 517.9,292.0 518.3,292.2 518.7,292.5 519.1,292.7 519.5,292.9 519.8,293.0 520.1,293.0 520.4,292.9 520.7,292.8 521.0,292.7 521.2,292.5 521.5,292.4 521.8,292.3 522.0,292.1 522.2,292.0 522.4,291.9 522.7,291.8 522.9,291.8 523.1,291.8 523.4,291.9 523.6,292.0 523.9,292.2 524.1,292.4 524.3,292.6 524.5,292.9 524.7,293.2 524.9,293.5 525.1,293.9 525.2,294.4 525.4,295.0 525.6,295.6 525.7,296.3 525.9,297.1 526.1,298.0 526.2,298.9 526.4,300.0 526.6,301.2 526.7,302.5 526.9,303.9 527.0,305.4 527.2,306.9 527.4,308.5 527.6,310.1 527.8,311.9 528.1,313.7 528.3,315.5 528.6,317.3 528.8,319.0 529.1,320.7 529.3,322.4 529.6,324.0 529.9,325.6 530.1,327.1 530.4,328.5 530.7,329.7 530.9,330.9 531.2,331.9 531.5,332.8 531.7,333.7 532.0,334.5 532.2,335.2 532.4,335.8 532.6,336.3 532.9,336.8 533.1,337.2 533.4,337.7 533.8,338.2 534.2,338.7 534.6,339.2 535.1,339.6 535.5,340.0 536.0,340.4 536.4,340.7 536.9,341.0 537.3,341.3 537.8,341.5 538.2,341.7 538.7,341.9 539.2,342.1 539.6,342.2 540.0,342.3 540.5,342.4 541.1,342.5 541.9,342.8 542.9,343.2 544.0,343.6 545.3,344.1 546.6,344.6 547.9,345.1 549.2,345.6 550.4,346.1 551.6,346.6 552.9,347.1 554.1,347.6 555.3,348.1 556.5,348.6 557.7,349.1 558.9,349.6 560.1,350.0 561.4,350.5 562.6,351.0 563.8,351.6 565.0,352.2 566.2,352.8 567.4,353.5 568.7,354.1 569.9,354.8 571.1,355.5 572.3,356.2 573.5,356.9 574.8,357.7 576.0,358.4 577.2,359.1 578.4,359.8 579.6,360.5 580.8,361.1 582.0,361.8 583.3,362.4 584.5,363.0 585.7,363.6 586.9,364.1 588.1,364.7 589.4,365.2 590.6,365.6 591.8,366.1 593.0,366.6 594.2,367.1 595.5,367.6 596.8,368.1 598.1,368.6 599.2,369.0 600.3,369.4 601.2,369.7 602.0,370.0 602.8,370.2 603.5,370.4 604.2,370.6 605.0,370.8 605.9,371.0 606.9,371.1 607.9,371.3 608.9,371.4 609.8,371.5 610.6,371.5 611.2,371.5 611.8,371.4 612.3,371.4 612.7,371.3 613.1,371.1 613.5,371.0 613.9,370.9 614.4,370.7 614.8,370.5 615.2,370.3 615.6,370.1 615.9,369.9 616.2,369.6 616.5,369.3 616.8,369.0 617.0,368.7 617.3,368.3 617.5,368.0 617.7,367.7 617.9,367.4 618.2,367.1 618.4,366.7 618.6,366.3 618.8,365.8 619.0,365.2 619.3,364.5 619.6,363.8 619.8,362.9 620.1,362.0 620.3,361.1 620.5,360.1 620.7,359.0 620.9,357.9 621.1,356.7 621.3,355.4 621.5,354.1 621.7,352.8 621.9,351.4 622.1,349.9 622.3,348.4 622.4,346.9 622.6,345.2 622.7,343.4 622.9,341.6 623.0,339.7 623.1,337.7 623.3,335.6 623.4,333.5 623.5,331.3 623.7,328.9 623.8,326.5 624.0,324.1 624.1,321.7 624.3,319.5 624.4,317.5 624.6,315.5 624.7,313.7 624.9,311.8 625.0,309.9 625.2,308.0 625.4,306.0 625.5,303.9 625.7,301.8 625.9,299.7 626.0,297.6 626.2,295.5 626.4,293.5 626.6,291.5 626.7,289.5 626.9,287.5 627.1,285.5 627.3,283.5 627.5,281.3 627.7,279.1 628.0,276.8 628.2,274.6 628.4,272.6 628.6,270.8 628.8,269.3 629.0,268.1 629.1,267.0 629.3,266.1 629.4,265.3 629.6,264.5 629.8,263.8 629.9,263.3 630.1,262.8 630.3,262.5 630.4,262.2 630.6,262.0 630.8,261.9 630.9,261.8 631.1,261.8 631.3,261.9 631.4,262.0 631.6,262.2 631.8,262.4 632.0,262.7 632.2,263.0 632.4,263.4 632.6,263.8 632.8,264.2 633.0,264.7 633.2,265.2 633.5,265.8 633.7,266.4 633.9,267.0 634.2,267.5 634.5,268.0 634.8,268.4 635.1,268.8 635.5,269.2 635.8,269.4 636.1,269.6 636.4,269.6 636.6,269.5 636.9,269.4 637.1,269.1 637.4,268.9 637.6,268.6 637.8,268.3 638.1,267.9 638.3,267.5 638.5,267.1 638.8,266.7 639.0,266.4 639.2,266.2 639.5,265.9 639.7,265.8 639.9,265.6 640.2,265.6 640.4,265.6 640.6,265.7 640.8,265.9 641.0,266.2 641.2,266.5 641.4,266.9 641.6,267.4 641.8,268.0 642.0,268.6 642.1,269.3 642.3,270.1 642.4,271.0 642.6,272.0 642.7,273.1 642.9,274.3 643.0,275.5 643.1,276.9 643.3,278.4 643.4,280.0 643.5,281.8 643.7,283.7 643.8,285.8 643.9,287.9 644.1,290.0 644.2,292.0 644.3,294.0 644.5,296.0 644.6,298.0 644.7,300.0 644.9,302.0 645.0,304.0 645.2,306.0 645.3,307.9 645.5,309.9 645.7,311.9 645.8,313.9 646.0,316.0 646.2,318.2 646.3,320.6 646.5,323.0 646.7,325.4 646.8,327.8 647.0,330.0 647.2,332.1 647.3,334.1 647.5,336.0 647.7,337.9 647.9,339.7 648.1,341.5 648.3,343.3 648.5,345.0 648.8,346.7 649.0,348.3 649.2,349.9 649.5,351.5 649.8,353.0 650.0,354.5 650.3,355.9 650.6,357.2 650.9,358.5 651.3,359.8 651.7,361.0 652.1,362.2 652.5,363.3 653.0,364.4 653.5,365.4 654.0,366.3 654.6,367.2 655.2,367.9 655.8,368.6 656.5,369.3 657.1,369.9 657.7,370.5 658.3,371.0 658.8,371.6 659.4,372.0 659.9,372.4 660.5,372.8 661.0,373.2 661.5,373.5 661.9,373.8 662.4,374.0 662.9,374.2 663.4,374.5 664.1,374.8 664.9,375.2 665.8,375.6 666.8,376.0 667.8,376.5 668.9,376.9 670.0,377.3 671.2,377.7 672.5,378.1 673.9,378.5 675.1,378.8 676.2,379.1 677.0,379.3" fill="none" stroke="#9c5e2a" stroke-width="1.35" stroke-linejoin="round"/>
<polyline points="664.0,378.6 668.0,378.7 670.0,378.2 672.0,379.3 674.0,378.8 677.0,379.4" fill="none" stroke="#f01c1c" stroke-width="1.0" stroke-linejoin="round"/>
<rect x="490.2" y="240.5" width="187.2" height="140.0" fill="none" stroke="#4d4d4d" stroke-width="1.3"/>
<line x1="487.0" y1="369.4" x2="490.2" y2="369.4" stroke="#4d4d4d" stroke-width="1.0"/>
<line x1="487.0" y1="348.3" x2="490.2" y2="348.3" stroke="#4d4d4d" stroke-width="1.0"/>
<line x1="487.0" y1="327.2" x2="490.2" y2="327.2" stroke="#4d4d4d" stroke-width="1.0"/>
<line x1="487.0" y1="306.2" x2="490.2" y2="306.2" stroke="#4d4d4d" stroke-width="1.0"/>
<line x1="487.0" y1="285.1" x2="490.2" y2="285.1" stroke="#4d4d4d" stroke-width="1.0"/>
<line x1="487.0" y1="264.0" x2="490.2" y2="264.0" stroke="#4d4d4d" stroke-width="1.0"/>
<line x1="487.0" y1="242.9" x2="490.2" y2="242.9" stroke="#4d4d4d" stroke-width="1.0"/>
<line x1="500.0" y1="380.5" x2="500.0" y2="384.9" stroke="#4d4d4d" stroke-width="1.1"/>
<line x1="525.4" y1="380.5" x2="525.4" y2="384.9" stroke="#4d4d4d" stroke-width="1.1"/>
<line x1="550.8" y1="380.5" x2="550.8" y2="384.9" stroke="#4d4d4d" stroke-width="1.1"/>
<line x1="576.2" y1="380.5" x2="576.2" y2="384.9" stroke="#4d4d4d" stroke-width="1.1"/>
<line x1="601.6" y1="380.5" x2="601.6" y2="384.9" stroke="#4d4d4d" stroke-width="1.1"/>
<line x1="627.0" y1="380.5" x2="627.0" y2="384.9" stroke="#4d4d4d" stroke-width="1.1"/>
<line x1="652.4" y1="380.5" x2="652.4" y2="384.9" stroke="#4d4d4d" stroke-width="1.1"/>
<line x1="677.8" y1="380.5" x2="677.8" y2="384.9" stroke="#4d4d4d" stroke-width="1.1"/>
<circle cx="504.5" cy="227.0" r="0.45" fill="#777"/>
<circle cx="501.5" cy="2.4" r="0.45" fill="#777"/>
</g>
<g filter="url(#bt)">
<text transform="matrix(1,0.002,0,0.75,0,35.628)" x="23.6" y="142.70" font-size="5.33" fill="#3a3a3a" stroke="#3a3a3a" stroke-width="0.12" text-anchor="end" textLength="13.0" lengthAdjust="spacingAndGlyphs">0.00e0</text>
<text transform="matrix(1,0.002,0,0.75,0,31.023)" x="23.6" y="124.28" font-size="5.33" fill="#3a3a3a" stroke="#3a3a3a" stroke-width="0.12" text-anchor="end" textLength="13.0" lengthAdjust="spacingAndGlyphs">1.00e5</text>
<text transform="matrix(1,0.002,0,0.75,0,26.418)" x="23.6" y="105.86" font-size="5.33" fill="#3a3a3a" stroke="#3a3a3a" stroke-width="0.12" text-anchor="end" textLength="13.0" lengthAdjust="spacingAndGlyphs">2.00e5</text>
<text transform="matrix(1,0.002,0,0.75,0,21.813)" x="23.6" y="87.44" font-size="5.33" fill="#3a3a3a" stroke="#3a3a3a" stroke-width="0.12" text-anchor="end" textLength="13.0" lengthAdjust="spacingAndGlyphs">3.00e5</text>
<text transform="matrix(1,0.002,0,0.75,0,17.208)" x="23.6" y="69.02" font-size="5.33" fill="#3a3a3a" stroke="#3a3a3a" stroke-width="0.12" text-anchor="end" textLength="13.0" lengthAdjust="spacingAndGlyphs">4.00e5</text>
<text transform="matrix(1,0.002,0,0.75,0,12.603)" x="23.6" y="50.60" font-size="5.33" fill="#3a3a3a" stroke="#3a3a3a" stroke-width="0.12" text-anchor="end" textLength="13.0" lengthAdjust="spacingAndGlyphs">5.00e5</text>
<text transform="matrix(1,0.002,0,0.75,0,7.998)" x="23.6" y="32.18" font-size="5.33" fill="#3a3a3a" stroke="#3a3a3a" stroke-width="0.12" text-anchor="end" textLength="13.0" lengthAdjust="spacingAndGlyphs">6.00e5</text>
<text transform="matrix(1,0.002,0,0.75,0,36.882)" x="46.3" y="147.90" font-size="5.33" fill="#3a3a3a" stroke="#3a3a3a" stroke-width="0.12" text-anchor="middle" textLength="8.2" lengthAdjust="spacingAndGlyphs">1200</text>
<text transform="matrix(1,0.002,0,0.75,0,36.829)" x="73.2" y="147.90" font-size="5.33" fill="#3a3a3a" stroke="#3a3a3a" stroke-width="0.12" text-anchor="middle" textLength="8.2" lengthAdjust="spacingAndGlyphs">1000</text>
<text transform="matrix(1,0.002,0,0.75,0,36.775)" x="100.1" y="147.90" font-size="5.33" fill="#3a3a3a" stroke="#3a3a3a" stroke-width="0.12" text-anchor="middle" textLength="6.3" lengthAdjust="spacingAndGlyphs">800</text>
<text transform="matrix(1,0.002,0,0.75,0,36.721)" x="127.0" y="147.90" font-size="5.33" fill="#3a3a3a" stroke="#3a3a3a" stroke-width="0.12" text-anchor="middle" textLength="6.3" lengthAdjust="spacingAndGlyphs">600</text>
<text transform="matrix(1,0.002,0,0.75,0,36.667)" x="153.9" y="147.90" font-size="5.33" fill="#3a3a3a" stroke="#3a3a3a" stroke-width="0.12" text-anchor="middle" textLength="6.3" lengthAdjust="spacingAndGlyphs">400</text>
<text transform="matrix(1,0.002,0,0.75,0,36.613)" x="180.8" y="147.90" font-size="5.33" fill="#3a3a3a" stroke="#3a3a3a" stroke-width="0.12" text-anchor="middle" textLength="6.3" lengthAdjust="spacingAndGlyphs">200</text>
<text transform="matrix(1,0.002,0,0.75,0,38.831)" x="97.8" y="156.10" font-size="5.73" fill="#444" stroke="#444" stroke-width="0.04" textLength="43.2" lengthAdjust="spacingAndGlyphs">Binding Energy (eV)</text>
<text transform="translate(2.9,77.8) rotate(-89.9) scale(1,0.75)" text-anchor="middle" y="1.96" font-size="5.6" fill="#444" stroke="#444" stroke-width="0.04" textLength="19.2" lengthAdjust="spacingAndGlyphs">Counts / s</text>
<text transform="matrix(1,0.002,0,0.75,0,0.969)" x="99.4" y="4.67" font-size="5.6" fill="#444" stroke="#444" stroke-width="0.04" textLength="19.0" lengthAdjust="spacingAndGlyphs">XPS Survey</text>
<text transform="matrix(1,0.002,0,0.75,0,2.230)" x="69.0" y="9.47" font-size="5.6" fill="#444" stroke="#444" stroke-width="0.04" textLength="79.6" lengthAdjust="spacingAndGlyphs">5 Scans, 1 m 8.0 s, 400µm, CAE 200.0, 1.00 eV</text>
<text transform="matrix(1,0.002,0,0.75,0,4.511)" x="69.5" y="18.60" font-size="5.33" fill="#444" stroke="#444" stroke-width="0.04" textLength="8.3" lengthAdjust="spacingAndGlyphs">Zn2p</text>
<text transform="matrix(1,0.002,0,0.75,0,17.497)" x="101.5" y="70.80" font-size="5.33" fill="#444" stroke="#444" stroke-width="0.04" textLength="9.8" lengthAdjust="spacingAndGlyphs">Ga 2p</text>
<text transform="matrix(1,0.002,0,0.75,0,18.954)" x="135.4" y="76.90" font-size="5.33" fill="#444" stroke="#444" stroke-width="0.04" textLength="7.5" lengthAdjust="spacingAndGlyphs">O 1s</text>
<text transform="matrix(1,0.002,0,0.75,0,23.762)" x="168.9" y="96.40" font-size="5.33" fill="#444" stroke="#444" stroke-width="0.04" textLength="7.0" lengthAdjust="spacingAndGlyphs">C 1s</text>
<text transform="matrix(1,0.002,0,0.75,0,25.054)" x="185.4" y="101.70" font-size="5.33" fill="#444" stroke="#444" stroke-width="0.04" textLength="6.8" lengthAdjust="spacingAndGlyphs">S 2p</text>
<text transform="matrix(1,0.002,0,0.75,0,31.994)" x="251.6" y="129.99" font-size="7.2" stroke="#333" stroke-width="0.3" text-anchor="end" textLength="7.4" lengthAdjust="spacingAndGlyphs">14</text>
<text transform="matrix(1,0.002,0,0.75,0,27.694)" x="251.6" y="112.79" font-size="7.2" stroke="#333" stroke-width="0.3" text-anchor="end" textLength="7.4" lengthAdjust="spacingAndGlyphs">16</text>
<text transform="matrix(1,0.002,0,0.75,0,23.394)" x="251.6" y="95.59" font-size="7.2" stroke="#333" stroke-width="0.3" text-anchor="end" textLength="7.4" lengthAdjust="spacingAndGlyphs">18</text>
<text transform="matrix(1,0.002,0,0.75,0,19.094)" x="251.6" y="78.39" font-size="7.2" stroke="#333" stroke-width="0.3" text-anchor="end" textLength="7.4" lengthAdjust="spacingAndGlyphs">20</text>
<text transform="matrix(1,0.002,0,0.75,0,14.794)" x="251.6" y="61.19" font-size="7.2" stroke="#333" stroke-width="0.3" text-anchor="end" textLength="7.4" lengthAdjust="spacingAndGlyphs">22</text>
<text transform="matrix(1,0.002,0,0.75,0,10.494)" x="251.6" y="43.99" font-size="7.2" stroke="#333" stroke-width="0.3" text-anchor="end" textLength="7.4" lengthAdjust="spacingAndGlyphs">24</text>
<text transform="matrix(1,0.002,0,0.75,0,6.194)" x="251.6" y="26.79" font-size="7.2" stroke="#333" stroke-width="0.3" text-anchor="end" textLength="7.4" lengthAdjust="spacingAndGlyphs">26</text>
<text transform="matrix(1,0.002,0,0.75,0,37.591)" x="274.3" y="152.56" font-size="7.47" stroke="#333" stroke-width="0.3" text-anchor="middle" textLength="10.6" lengthAdjust="spacingAndGlyphs">296</text>
<text transform="matrix(1,0.002,0,0.75,0,37.513)" x="313.7" y="152.56" font-size="7.47" stroke="#333" stroke-width="0.3" text-anchor="middle" textLength="10.6" lengthAdjust="spacingAndGlyphs">292</text>
<text transform="matrix(1,0.002,0,0.75,0,37.434)" x="353.1" y="152.56" font-size="7.47" stroke="#333" stroke-width="0.3" text-anchor="middle" textLength="10.6" lengthAdjust="spacingAndGlyphs">288</text>
<text transform="matrix(1,0.002,0,0.75,0,37.355)" x="392.5" y="152.56" font-size="7.47" stroke="#333" stroke-width="0.3" text-anchor="middle" textLength="10.6" lengthAdjust="spacingAndGlyphs">284</text>
<text transform="matrix(1,0.002,0,0.75,0,37.276)" x="431.9" y="152.56" font-size="7.47" stroke="#333" stroke-width="0.3" text-anchor="middle" textLength="10.6" lengthAdjust="spacingAndGlyphs">280</text>
<text transform="matrix(1,0.002,0,0.75,0,38.918)" x="315.8" y="158.20" font-size="8.0" font-weight="bold" stroke="#333" stroke-width="0.2" textLength="65.4" lengthAdjust="spacingAndGlyphs">Binding Energy (eV)</text>
<text transform="translate(237.0,79.6) rotate(-89.9) scale(1,0.75)" text-anchor="middle" y="2.89" font-size="8.27" font-weight="bold" stroke="#333" stroke-width="0.2" textLength="31.3" lengthAdjust="spacingAndGlyphs">Intensity (a.u.)</text>
<text transform="matrix(1,0.002,0,0.75,0,3.241)" x="254.3" y="15.00" font-size="8.0" stroke="#333" stroke-width="0.15" textLength="12.5" lengthAdjust="spacingAndGlyphs">x 10</text>
<text transform="matrix(1,0.002,0,0.75,0,2.473)" x="267.1" y="12.03" font-size="7.73" stroke="#333" stroke-width="0.15" textLength="4.0" lengthAdjust="spacingAndGlyphs">3</text>
<text transform="matrix(1,0.002,0,0.75,0,0.325)" x="337.6" y="4.00" font-size="8.0" font-weight="bold" stroke="#333" stroke-width="0.15" textLength="22.2" lengthAdjust="spacingAndGlyphs">c1s.txt</text>
<text transform="matrix(1,0.002,0,0.75,0,5.697)" x="264.1" y="24.90" font-size="5.33" stroke="#333" stroke-width="0.06" textLength="14.6" lengthAdjust="spacingAndGlyphs">Name</text>
<text transform="matrix(1,0.002,0,0.75,0,6.872)" x="264.1" y="29.60" font-size="5.33" fill="#e06a6a" stroke="#e06a6a" stroke-width="0.06" textLength="23.9" lengthAdjust="spacingAndGlyphs">c1s (C-C)</text>
<text transform="matrix(1,0.002,0,0.75,0,7.872)" x="264.1" y="33.60" font-size="5.33" fill="#9cc860" stroke="#9cc860" stroke-width="0.06" textLength="24.9" lengthAdjust="spacingAndGlyphs">c1s (C=O)</text>
<text transform="matrix(1,0.002,0,0.75,0,8.897)" x="264.1" y="37.70" font-size="5.33" fill="#6f9ce0" stroke="#6f9ce0" stroke-width="0.06" textLength="23.9" lengthAdjust="spacingAndGlyphs">c1s (C-O)</text>
<text transform="matrix(1,0.002,0,0.75,0,5.628)" x="298.5" y="24.90" font-size="5.33" stroke="#333" stroke-width="0.06" textLength="9.6" lengthAdjust="spacingAndGlyphs">Pos.</text>
<text transform="matrix(1,0.002,0,0.75,0,6.809)" x="295.6" y="29.60" font-size="5.33" stroke="#333" stroke-width="0.06" textLength="17.0" lengthAdjust="spacingAndGlyphs">284.80</text>
<text transform="matrix(1,0.002,0,0.75,0,7.809)" x="295.6" y="33.60" font-size="5.33" stroke="#333" stroke-width="0.06" textLength="17.0" lengthAdjust="spacingAndGlyphs">290.19</text>
<text transform="matrix(1,0.002,0,0.75,0,8.834)" x="295.6" y="37.70" font-size="5.33" stroke="#333" stroke-width="0.06" textLength="17.0" lengthAdjust="spacingAndGlyphs">287.73</text>
<text transform="matrix(1,0.002,0,0.75,0,5.591)" x="317.2" y="24.90" font-size="5.33" stroke="#333" stroke-width="0.06" textLength="16.6" lengthAdjust="spacingAndGlyphs">%Area</text>
<text transform="matrix(1,0.002,0,0.75,0,6.734)" x="333.0" y="29.60" font-size="5.33" stroke="#333" stroke-width="0.06" text-anchor="end" textLength="14.6" lengthAdjust="spacingAndGlyphs">66.55</text>
<text transform="matrix(1,0.002,0,0.75,0,7.734)" x="333.0" y="33.60" font-size="5.33" stroke="#333" stroke-width="0.06" text-anchor="end" textLength="11.0" lengthAdjust="spacingAndGlyphs">9.01</text>
<text transform="matrix(1,0.002,0,0.75,0,8.759)" x="333.0" y="37.70" font-size="5.33" stroke="#333" stroke-width="0.06" text-anchor="end" textLength="14.6" lengthAdjust="spacingAndGlyphs">24.44</text>
<text transform="matrix(1,0.002,0,0.75,0,34.607)" x="482.5" y="142.29" font-size="7.2" stroke="#333" stroke-width="0.3" text-anchor="end" textLength="7.6" lengthAdjust="spacingAndGlyphs">10</text>
<text transform="matrix(1,0.002,0,0.75,0,30.157)" x="482.5" y="124.49" font-size="7.2" stroke="#333" stroke-width="0.3" text-anchor="end" textLength="7.6" lengthAdjust="spacingAndGlyphs">12</text>
<text transform="matrix(1,0.002,0,0.75,0,25.707)" x="482.5" y="106.69" font-size="7.2" stroke="#333" stroke-width="0.3" text-anchor="end" textLength="7.6" lengthAdjust="spacingAndGlyphs">14</text>
<text transform="matrix(1,0.002,0,0.75,0,21.257)" x="482.5" y="88.89" font-size="7.2" stroke="#333" stroke-width="0.3" text-anchor="end" textLength="7.6" lengthAdjust="spacingAndGlyphs">16</text>
<text transform="matrix(1,0.002,0,0.75,0,16.807)" x="482.5" y="71.09" font-size="7.2" stroke="#333" stroke-width="0.3" text-anchor="end" textLength="7.6" lengthAdjust="spacingAndGlyphs">18</text>
<text transform="matrix(1,0.002,0,0.75,0,12.357)" x="482.5" y="53.29" font-size="7.2" stroke="#333" stroke-width="0.3" text-anchor="end" textLength="7.6" lengthAdjust="spacingAndGlyphs">20</text>
<text transform="matrix(1,0.002,0,0.75,0,7.907)" x="482.5" y="35.49" font-size="7.2" stroke="#333" stroke-width="0.3" text-anchor="end" textLength="7.6" lengthAdjust="spacingAndGlyphs">22</text>
<text transform="matrix(1,0.002,0,0.75,0,3.457)" x="482.5" y="17.69" font-size="7.2" stroke="#333" stroke-width="0.3" text-anchor="end" textLength="7.6" lengthAdjust="spacingAndGlyphs">24</text>
<text transform="matrix(1,0.002,0,0.75,0,37.228)" x="518.4" y="153.06" font-size="7.47" stroke="#333" stroke-width="0.3" text-anchor="middle" textLength="10.6" lengthAdjust="spacingAndGlyphs">172</text>
<text transform="matrix(1,0.002,0,0.75,0,37.141)" x="562.0" y="153.06" font-size="7.47" stroke="#333" stroke-width="0.3" text-anchor="middle" textLength="10.6" lengthAdjust="spacingAndGlyphs">168</text>
<text transform="matrix(1,0.002,0,0.75,0,37.054)" x="605.6" y="153.06" font-size="7.47" stroke="#333" stroke-width="0.3" text-anchor="middle" textLength="10.6" lengthAdjust="spacingAndGlyphs">164</text>
<text transform="matrix(1,0.002,0,0.75,0,36.967)" x="649.2" y="153.06" font-size="7.47" stroke="#333" stroke-width="0.3" text-anchor="middle" textLength="10.6" lengthAdjust="spacingAndGlyphs">160</text>
<text transform="matrix(1,0.002,0,0.75,0,38.552)" x="549.2" y="158.60" font-size="8.0" font-weight="bold" stroke="#333" stroke-width="0.2" textLength="69.2" lengthAdjust="spacingAndGlyphs">Binding Energy (eV)</text>
<text transform="translate(466.8,80.2) rotate(-89.9) scale(1,0.75)" text-anchor="middle" y="2.89" font-size="8.27" font-weight="bold" stroke="#333" stroke-width="0.2" textLength="32.7" lengthAdjust="spacingAndGlyphs">Intensity (a.u.)</text>
<text transform="matrix(1,0.002,0,0.75,0,2.779)" x="485.5" y="15.00" font-size="8.0" stroke="#333" stroke-width="0.15" textLength="13.3" lengthAdjust="spacingAndGlyphs">x 10</text>
<text transform="matrix(1,0.002,0,0.75,0,2.159)" x="499.0" y="12.63" font-size="7.73" stroke="#333" stroke-width="0.15" textLength="4.2" lengthAdjust="spacingAndGlyphs">3</text>
<text transform="matrix(1,0.002,0,0.75,0,0.000)" x="568.7" y="4.55" font-size="6.67" stroke="#333" stroke-width="0.06" textLength="30.7" lengthAdjust="spacingAndGlyphs">s2p.txt.txt</text>
<text transform="matrix(1,0.002,0,0.75,0,5.368)" x="495.8" y="25.44" font-size="5.87" stroke="#333" stroke-width="0.06" textLength="16.0" lengthAdjust="spacingAndGlyphs">Name</text>
<text transform="matrix(1,0.002,0,0.75,0,6.643)" x="495.8" y="30.54" font-size="5.87" fill="#e06a6a" stroke="#e06a6a" stroke-width="0.06" textLength="19.0" lengthAdjust="spacingAndGlyphs">s2p3/2</text>
<text transform="matrix(1,0.002,0,0.75,0,7.943)" x="495.8" y="35.74" font-size="5.87" fill="#9cc860" stroke="#9cc860" stroke-width="0.06" textLength="19.0" lengthAdjust="spacingAndGlyphs">s2p1/2</text>
<text transform="matrix(1,0.002,0,0.75,0,5.307)" x="526.5" y="25.44" font-size="5.87" stroke="#333" stroke-width="0.06" textLength="12.2" lengthAdjust="spacingAndGlyphs">Pos.</text>
<text transform="matrix(1,0.002,0,0.75,0,6.587)" x="524.0" y="30.54" font-size="5.87" stroke="#333" stroke-width="0.06" textLength="19.6" lengthAdjust="spacingAndGlyphs">164.64</text>
<text transform="matrix(1,0.002,0,0.75,0,7.887)" x="524.0" y="35.74" font-size="5.87" stroke="#333" stroke-width="0.06" textLength="19.6" lengthAdjust="spacingAndGlyphs">162.27</text>
<text transform="matrix(1,0.002,0,0.75,0,5.266)" x="547.0" y="25.44" font-size="5.87" stroke="#333" stroke-width="0.06" textLength="19.6" lengthAdjust="spacingAndGlyphs">FWHM</text>
<text transform="matrix(1,0.002,0,0.75,0,6.532)" x="551.6" y="30.54" font-size="5.87" stroke="#333" stroke-width="0.06" textLength="11.8" lengthAdjust="spacingAndGlyphs">2.56</text>
<text transform="matrix(1,0.002,0,0.75,0,7.832)" x="551.6" y="35.74" font-size="5.87" stroke="#333" stroke-width="0.06" textLength="11.8" lengthAdjust="spacingAndGlyphs">2.38</text>
<text transform="matrix(1,0.002,0,0.75,0,5.221)" x="569.7" y="25.44" font-size="5.87" stroke="#333" stroke-width="0.06" textLength="19.2" lengthAdjust="spacingAndGlyphs">%Area</text>
<text transform="matrix(1,0.002,0,0.75,0,6.491)" x="572.0" y="30.54" font-size="5.87" stroke="#333" stroke-width="0.06" textLength="15.8" lengthAdjust="spacingAndGlyphs">59.74</text>
<text transform="matrix(1,0.002,0,0.75,0,7.791)" x="572.0" y="35.74" font-size="5.87" stroke="#333" stroke-width="0.06" textLength="15.8" lengthAdjust="spacingAndGlyphs">40.26</text>
<text transform="matrix(1,0.002,0,0.75,0,92.893)" x="23.1" y="371.76" font-size="7.07" stroke="#333" stroke-width="0.3" text-anchor="end" textLength="10.8" lengthAdjust="spacingAndGlyphs">340</text>
<text transform="matrix(1,0.002,0,0.75,0,86.963)" x="23.1" y="348.04" font-size="7.07" stroke="#333" stroke-width="0.3" text-anchor="end" textLength="10.8" lengthAdjust="spacingAndGlyphs">350</text>
<text transform="matrix(1,0.002,0,0.75,0,81.033)" x="23.1" y="324.32" font-size="7.07" stroke="#333" stroke-width="0.3" text-anchor="end" textLength="10.8" lengthAdjust="spacingAndGlyphs">360</text>
<text transform="matrix(1,0.002,0,0.75,0,75.103)" x="23.1" y="300.60" font-size="7.07" stroke="#333" stroke-width="0.3" text-anchor="end" textLength="10.8" lengthAdjust="spacingAndGlyphs">370</text>
<text transform="matrix(1,0.002,0,0.75,0,69.173)" x="23.1" y="276.88" font-size="7.07" stroke="#333" stroke-width="0.3" text-anchor="end" textLength="10.8" lengthAdjust="spacingAndGlyphs">380</text>
<text transform="matrix(1,0.002,0,0.75,0,63.243)" x="23.1" y="253.16" font-size="7.07" stroke="#333" stroke-width="0.3" text-anchor="end" textLength="10.8" lengthAdjust="spacingAndGlyphs">390</text>
<text transform="matrix(1,0.002,0,0.75,0,97.444)" x="35.6" y="390.06" font-size="7.47" stroke="#333" stroke-width="0.3" text-anchor="middle" textLength="10.6" lengthAdjust="spacingAndGlyphs">544</text>
<text transform="matrix(1,0.002,0,0.75,0,97.371)" x="71.9" y="390.06" font-size="7.47" stroke="#333" stroke-width="0.3" text-anchor="middle" textLength="10.6" lengthAdjust="spacingAndGlyphs">540</text>
<text transform="matrix(1,0.002,0,0.75,0,97.299)" x="108.2" y="390.06" font-size="7.47" stroke="#333" stroke-width="0.3" text-anchor="middle" textLength="10.6" lengthAdjust="spacingAndGlyphs">536</text>
<text transform="matrix(1,0.002,0,0.75,0,97.226)" x="144.6" y="390.06" font-size="7.47" stroke="#333" stroke-width="0.3" text-anchor="middle" textLength="10.6" lengthAdjust="spacingAndGlyphs">532</text>
<text transform="matrix(1,0.002,0,0.75,0,97.153)" x="180.9" y="390.06" font-size="7.47" stroke="#333" stroke-width="0.3" text-anchor="middle" textLength="10.6" lengthAdjust="spacingAndGlyphs">528</text>
<text transform="matrix(1,0.002,0,0.75,0,98.904)" x="85.5" y="396.30" font-size="8.0" font-weight="bold" stroke="#333" stroke-width="0.2" textLength="64.7" lengthAdjust="spacingAndGlyphs">Binding Energy (eV)</text>
<text transform="translate(4.6,311.0) rotate(-89.9) scale(1,0.75)" text-anchor="middle" y="2.89" font-size="8.27" font-weight="bold" stroke="#333" stroke-width="0.2" textLength="34.6" lengthAdjust="spacingAndGlyphs">Intensity (a.u.)</text>
<text transform="matrix(1,0.002,0,0.75,0,59.922)" x="26.3" y="239.90" font-size="8.0" stroke="#333" stroke-width="0.15" textLength="12.5" lengthAdjust="spacingAndGlyphs">x 10</text>
<text transform="matrix(1,0.002,0,0.75,0,59.054)" x="39.1" y="236.53" font-size="7.73" stroke="#333" stroke-width="0.15" textLength="3.8" lengthAdjust="spacingAndGlyphs">2</text>
<text transform="matrix(1,0.002,0,0.75,0,56.786)" x="107.1" y="228.00" font-size="8.0" font-weight="bold" stroke="#333" stroke-width="0.15" textLength="22.1" lengthAdjust="spacingAndGlyphs">o1s.txt</text>
<text transform="matrix(1,0.002,0,0.75,0,62.572)" x="35.3" y="250.57" font-size="5.6" stroke="#333" stroke-width="0.06" textLength="14.5" lengthAdjust="spacingAndGlyphs">Name</text>
<text transform="matrix(1,0.002,0,0.75,0,63.822)" x="35.3" y="255.57" font-size="5.6" fill="#e06a6a" stroke="#e06a6a" stroke-width="0.06" textLength="26.8" lengthAdjust="spacingAndGlyphs">o1s (Metal)</text>
<text transform="matrix(1,0.002,0,0.75,0,64.922)" x="35.3" y="259.97" font-size="5.6" fill="#9cc860" stroke="#9cc860" stroke-width="0.06" textLength="25.3" lengthAdjust="spacingAndGlyphs">o1s (C=O)</text>
<text transform="matrix(1,0.002,0,0.75,0,66.072)" x="35.3" y="264.57" font-size="5.6" fill="#6f9ce0" stroke="#6f9ce0" stroke-width="0.06" textLength="18.3" lengthAdjust="spacingAndGlyphs">o1s OH</text>
<text transform="matrix(1,0.002,0,0.75,0,62.499)" x="71.7" y="250.57" font-size="5.6" stroke="#333" stroke-width="0.06" textLength="9.9" lengthAdjust="spacingAndGlyphs">Pos.</text>
<text transform="matrix(1,0.002,0,0.75,0,63.755)" x="68.8" y="255.57" font-size="5.6" stroke="#333" stroke-width="0.06" textLength="17.2" lengthAdjust="spacingAndGlyphs">533.64</text>
<text transform="matrix(1,0.002,0,0.75,0,64.855)" x="68.8" y="259.97" font-size="5.6" stroke="#333" stroke-width="0.06" textLength="17.2" lengthAdjust="spacingAndGlyphs">533.88</text>
<text transform="matrix(1,0.002,0,0.75,0,66.005)" x="68.8" y="264.57" font-size="5.6" stroke="#333" stroke-width="0.06" textLength="17.2" lengthAdjust="spacingAndGlyphs">531.64</text>
<text transform="matrix(1,0.002,0,0.75,0,62.460)" x="91.0" y="250.57" font-size="5.6" stroke="#333" stroke-width="0.06" textLength="15.7" lengthAdjust="spacingAndGlyphs">%Area</text>
<text transform="matrix(1,0.002,0,0.75,0,63.681)" x="105.8" y="255.57" font-size="5.6" stroke="#333" stroke-width="0.06" text-anchor="end" textLength="13.7" lengthAdjust="spacingAndGlyphs">58.17</text>
<text transform="matrix(1,0.002,0,0.75,0,64.781)" x="105.8" y="259.97" font-size="5.6" stroke="#333" stroke-width="0.06" text-anchor="end" textLength="13.7" lengthAdjust="spacingAndGlyphs">19.37</text>
<text transform="matrix(1,0.002,0,0.75,0,65.931)" x="105.8" y="264.57" font-size="5.6" stroke="#333" stroke-width="0.06" text-anchor="end" textLength="13.7" lengthAdjust="spacingAndGlyphs">22.46</text>
<text transform="matrix(1,0.002,0,0.75,0,88.922)" x="258.6" y="357.76" font-size="7.07" stroke="#333" stroke-width="0.3" text-anchor="end" textLength="10.6" lengthAdjust="spacingAndGlyphs">430</text>
<text transform="matrix(1,0.002,0,0.75,0,82.459)" x="258.6" y="331.91" font-size="7.07" stroke="#333" stroke-width="0.3" text-anchor="end" textLength="10.6" lengthAdjust="spacingAndGlyphs">435</text>
<text transform="matrix(1,0.002,0,0.75,0,75.997)" x="258.6" y="306.06" font-size="7.07" stroke="#333" stroke-width="0.3" text-anchor="end" textLength="10.6" lengthAdjust="spacingAndGlyphs">440</text>
<text transform="matrix(1,0.002,0,0.75,0,69.534)" x="258.6" y="280.21" font-size="7.07" stroke="#333" stroke-width="0.3" text-anchor="end" textLength="10.6" lengthAdjust="spacingAndGlyphs">445</text>
<text transform="matrix(1,0.002,0,0.75,0,63.072)" x="258.6" y="254.36" font-size="7.07" stroke="#333" stroke-width="0.3" text-anchor="end" textLength="10.6" lengthAdjust="spacingAndGlyphs">450</text>
<text transform="matrix(1,0.002,0,0.75,0,96.849)" x="270.3" y="389.56" font-size="7.47" stroke="#333" stroke-width="0.3" text-anchor="middle" textLength="10.2" lengthAdjust="spacingAndGlyphs">810</text>
<text transform="matrix(1,0.002,0,0.75,0,96.805)" x="292.2" y="389.56" font-size="7.47" stroke="#333" stroke-width="0.3" text-anchor="middle" textLength="10.2" lengthAdjust="spacingAndGlyphs">805</text>
<text transform="matrix(1,0.002,0,0.75,0,96.762)" x="314.2" y="389.56" font-size="7.47" stroke="#333" stroke-width="0.3" text-anchor="middle" textLength="10.2" lengthAdjust="spacingAndGlyphs">800</text>
<text transform="matrix(1,0.002,0,0.75,0,96.718)" x="336.1" y="389.56" font-size="7.47" stroke="#333" stroke-width="0.3" text-anchor="middle" textLength="10.2" lengthAdjust="spacingAndGlyphs">795</text>
<text transform="matrix(1,0.002,0,0.75,0,96.674)" x="358.1" y="389.56" font-size="7.47" stroke="#333" stroke-width="0.3" text-anchor="middle" textLength="10.2" lengthAdjust="spacingAndGlyphs">790</text>
<text transform="matrix(1,0.002,0,0.75,0,96.630)" x="380.1" y="389.56" font-size="7.47" stroke="#333" stroke-width="0.3" text-anchor="middle" textLength="10.2" lengthAdjust="spacingAndGlyphs">785</text>
<text transform="matrix(1,0.002,0,0.75,0,96.586)" x="402.0" y="389.56" font-size="7.47" stroke="#333" stroke-width="0.3" text-anchor="middle" textLength="10.2" lengthAdjust="spacingAndGlyphs">780</text>
<text transform="matrix(1,0.002,0,0.75,0,96.542)" x="423.9" y="389.56" font-size="7.47" stroke="#333" stroke-width="0.3" text-anchor="middle" textLength="10.2" lengthAdjust="spacingAndGlyphs">775</text>
<text transform="matrix(1,0.002,0,0.75,0,98.261)" x="319.7" y="395.60" font-size="8.0" font-weight="bold" stroke="#333" stroke-width="0.2" textLength="64.1" lengthAdjust="spacingAndGlyphs">Binding Energy (eV)</text>
<text transform="translate(240.5,310.4) rotate(-89.9) scale(1,0.75)" text-anchor="middle" y="2.89" font-size="8.27" font-weight="bold" stroke="#333" stroke-width="0.2" textLength="34.4" lengthAdjust="spacingAndGlyphs">Intensity (a.u.)</text>
<text transform="matrix(1,0.002,0,0.75,0,59.677)" x="261.6" y="240.80" font-size="8.0" stroke="#333" stroke-width="0.15" textLength="12.4" lengthAdjust="spacingAndGlyphs">x 10</text>
<text transform="matrix(1,0.002,0,0.75,0,58.809)" x="274.4" y="237.43" font-size="7.73" stroke="#333" stroke-width="0.15" textLength="3.8" lengthAdjust="spacingAndGlyphs">2</text>
<text transform="matrix(1,0.002,0,0.75,0,56.597)" x="338.9" y="229.10" font-size="8.0" font-weight="bold" stroke="#333" stroke-width="0.15" textLength="26.3" lengthAdjust="spacingAndGlyphs">co2p.txt</text>
<text transform="matrix(1,0.002,0,0.75,0,62.376)" x="270.6" y="251.67" font-size="5.6" stroke="#333" stroke-width="0.06" textLength="14.0" lengthAdjust="spacingAndGlyphs">Name</text>
<text transform="matrix(1,0.002,0,0.75,0,63.576)" x="270.6" y="256.47" font-size="5.6" fill="#e06a6a" stroke="#e06a6a" stroke-width="0.06" textLength="19.5" lengthAdjust="spacingAndGlyphs">co2p3/2</text>
<text transform="matrix(1,0.002,0,0.75,0,64.676)" x="270.6" y="260.87" font-size="5.6" fill="#9cc860" stroke="#9cc860" stroke-width="0.06" textLength="25.4" lengthAdjust="spacingAndGlyphs">co2pMetal</text>
<text transform="matrix(1,0.002,0,0.75,0,65.901)" x="270.6" y="265.77" font-size="5.6" fill="#6f9ce0" stroke="#6f9ce0" stroke-width="0.06" textLength="28.3" lengthAdjust="spacingAndGlyphs">co2p(C=O)</text>
<text transform="matrix(1,0.002,0,0.75,0,67.001)" x="270.6" y="270.17" font-size="5.6" fill="#9a80d0" stroke="#9a80d0" stroke-width="0.06" textLength="23.0" lengthAdjust="spacingAndGlyphs">co2p(OH)</text>
<text transform="matrix(1,0.002,0,0.75,0,68.176)" x="270.6" y="274.87" font-size="5.6" fill="#a8a848" stroke="#a8a848" stroke-width="0.06" textLength="19.5" lengthAdjust="spacingAndGlyphs">co2p1/2</text>
<text transform="matrix(1,0.002,0,0.75,0,62.301)" x="308.2" y="251.67" font-size="5.6" stroke="#333" stroke-width="0.06" textLength="9.9" lengthAdjust="spacingAndGlyphs">Pos.</text>
<text transform="matrix(1,0.002,0,0.75,0,63.507)" x="305.3" y="256.47" font-size="5.6" stroke="#333" stroke-width="0.06" textLength="16.9" lengthAdjust="spacingAndGlyphs">799.56</text>
<text transform="matrix(1,0.002,0,0.75,0,64.607)" x="305.3" y="260.87" font-size="5.6" stroke="#333" stroke-width="0.06" textLength="16.9" lengthAdjust="spacingAndGlyphs">787.63</text>
<text transform="matrix(1,0.002,0,0.75,0,65.832)" x="305.3" y="265.77" font-size="5.6" stroke="#333" stroke-width="0.06" textLength="16.9" lengthAdjust="spacingAndGlyphs">797.93</text>
<text transform="matrix(1,0.002,0,0.75,0,66.932)" x="305.3" y="270.17" font-size="5.6" stroke="#333" stroke-width="0.06" textLength="16.9" lengthAdjust="spacingAndGlyphs">794.79</text>
<text transform="matrix(1,0.002,0,0.75,0,68.107)" x="305.3" y="274.87" font-size="5.6" stroke="#333" stroke-width="0.06" textLength="16.9" lengthAdjust="spacingAndGlyphs">782.00</text>
<text transform="matrix(1,0.002,0,0.75,0,62.264)" x="326.9" y="251.67" font-size="5.6" stroke="#333" stroke-width="0.06" textLength="16.1" lengthAdjust="spacingAndGlyphs">%Area</text>
<text transform="matrix(1,0.002,0,0.75,0,63.433)" x="342.1" y="256.47" font-size="5.6" stroke="#333" stroke-width="0.06" text-anchor="end" textLength="14.0" lengthAdjust="spacingAndGlyphs">47.29</text>
<text transform="matrix(1,0.002,0,0.75,0,64.533)" x="342.1" y="260.87" font-size="5.6" stroke="#333" stroke-width="0.06" text-anchor="end" textLength="14.0" lengthAdjust="spacingAndGlyphs">18.95</text>
<text transform="matrix(1,0.002,0,0.75,0,65.758)" x="342.1" y="265.77" font-size="5.6" stroke="#333" stroke-width="0.06" text-anchor="end" textLength="10.5" lengthAdjust="spacingAndGlyphs">3.97</text>
<text transform="matrix(1,0.002,0,0.75,0,66.858)" x="342.1" y="270.17" font-size="5.6" stroke="#333" stroke-width="0.06" text-anchor="end" textLength="14.0" lengthAdjust="spacingAndGlyphs">14.60</text>
<text transform="matrix(1,0.002,0,0.75,0,68.033)" x="342.1" y="274.87" font-size="5.6" stroke="#333" stroke-width="0.06" text-anchor="end" textLength="14.0" lengthAdjust="spacingAndGlyphs">15.19</text>
<text transform="matrix(1,0.002,0,0.75,0,91.407)" x="487.0" y="369.53" font-size="7.07" stroke="#333" stroke-width="0.3" text-anchor="end" textLength="7.2" lengthAdjust="spacingAndGlyphs">40</text>
<text transform="matrix(1,0.002,0,0.75,0,86.140)" x="487.0" y="348.46" font-size="7.07" stroke="#333" stroke-width="0.3" text-anchor="end" textLength="7.2" lengthAdjust="spacingAndGlyphs">50</text>
<text transform="matrix(1,0.002,0,0.75,0,80.872)" x="487.0" y="327.39" font-size="7.07" stroke="#333" stroke-width="0.3" text-anchor="end" textLength="7.2" lengthAdjust="spacingAndGlyphs">60</text>
<text transform="matrix(1,0.002,0,0.75,0,75.605)" x="487.0" y="306.32" font-size="7.07" stroke="#333" stroke-width="0.3" text-anchor="end" textLength="7.2" lengthAdjust="spacingAndGlyphs">70</text>
<text transform="matrix(1,0.002,0,0.75,0,70.337)" x="487.0" y="285.25" font-size="7.07" stroke="#333" stroke-width="0.3" text-anchor="end" textLength="7.2" lengthAdjust="spacingAndGlyphs">80</text>
<text transform="matrix(1,0.002,0,0.75,0,65.070)" x="487.0" y="264.18" font-size="7.07" stroke="#333" stroke-width="0.3" text-anchor="end" textLength="7.2" lengthAdjust="spacingAndGlyphs">90</text>
<text transform="matrix(1,0.002,0,0.75,0,59.802)" x="487.0" y="243.10" font-size="7.07" stroke="#333" stroke-width="0.3" text-anchor="end" textLength="11.3" lengthAdjust="spacingAndGlyphs">100</text>
<text transform="matrix(1,0.002,0,0.75,0,96.315)" x="500.0" y="389.26" font-size="7.47" stroke="#333" stroke-width="0.3" text-anchor="middle" textLength="13.8" lengthAdjust="spacingAndGlyphs">1050</text>
<text transform="matrix(1,0.002,0,0.75,0,96.264)" x="525.4" y="389.26" font-size="7.47" stroke="#333" stroke-width="0.3" text-anchor="middle" textLength="13.8" lengthAdjust="spacingAndGlyphs">1045</text>
<text transform="matrix(1,0.002,0,0.75,0,96.213)" x="550.8" y="389.26" font-size="7.47" stroke="#333" stroke-width="0.3" text-anchor="middle" textLength="13.8" lengthAdjust="spacingAndGlyphs">1040</text>
<text transform="matrix(1,0.002,0,0.75,0,96.163)" x="576.2" y="389.26" font-size="7.47" stroke="#333" stroke-width="0.3" text-anchor="middle" textLength="13.8" lengthAdjust="spacingAndGlyphs">1035</text>
<text transform="matrix(1,0.002,0,0.75,0,96.112)" x="601.6" y="389.26" font-size="7.47" stroke="#333" stroke-width="0.3" text-anchor="middle" textLength="13.8" lengthAdjust="spacingAndGlyphs">1030</text>
<text transform="matrix(1,0.002,0,0.75,0,96.061)" x="627.0" y="389.26" font-size="7.47" stroke="#333" stroke-width="0.3" text-anchor="middle" textLength="13.8" lengthAdjust="spacingAndGlyphs">1025</text>
<text transform="matrix(1,0.002,0,0.75,0,96.010)" x="652.4" y="389.26" font-size="7.47" stroke="#333" stroke-width="0.3" text-anchor="middle" textLength="13.8" lengthAdjust="spacingAndGlyphs">1020</text>
<text transform="matrix(1,0.002,0,0.75,0,95.959)" x="677.8" y="389.26" font-size="7.47" stroke="#333" stroke-width="0.3" text-anchor="middle" textLength="13.8" lengthAdjust="spacingAndGlyphs">1015</text>
<text transform="matrix(1,0.002,0,0.75,0,97.801)" x="549.5" y="395.60" font-size="8.0" font-weight="bold" stroke="#333" stroke-width="0.2" textLength="67.4" lengthAdjust="spacingAndGlyphs">Binding Energy (eV)</text>
<text transform="translate(466.6,310.4) rotate(-89.9) scale(1,0.75)" text-anchor="middle" y="2.89" font-size="8.27" font-weight="bold" stroke="#333" stroke-width="0.2" textLength="34.4" lengthAdjust="spacingAndGlyphs">Intensity (a.u.)</text>
<text transform="matrix(1,0.002,0,0.75,0,59.095)" x="490.0" y="240.30" font-size="8.0" stroke="#333" stroke-width="0.15" textLength="12.8" lengthAdjust="spacingAndGlyphs">x 10</text>
<text transform="matrix(1,0.002,0,0.75,0,58.401)" x="503.2" y="237.63" font-size="7.73" stroke="#333" stroke-width="0.15" textLength="4.1" lengthAdjust="spacingAndGlyphs">3</text>
<text transform="matrix(1,0.002,0,0.75,0,56.035)" x="570.1" y="228.70" font-size="8.0" font-weight="bold" stroke="#333" stroke-width="0.15" textLength="27.2" lengthAdjust="spacingAndGlyphs">zn2p.txt</text>
<text transform="matrix(1,0.002,0,0.75,0,61.744)" x="499.3" y="250.97" font-size="5.6" fill="#2b3552" stroke="#2b3552" stroke-width="0.06" textLength="14.9" lengthAdjust="spacingAndGlyphs">Name</text>
<text transform="matrix(1,0.002,0,0.75,0,62.969)" x="499.3" y="255.87" font-size="5.6" fill="#e06a6a" stroke="#e06a6a" stroke-width="0.06" textLength="19.3" lengthAdjust="spacingAndGlyphs">zn2p3/2</text>
<text transform="matrix(1,0.002,0,0.75,0,62.898)" x="534.7" y="255.87" font-size="5.6" fill="#2b3552" stroke="#2b3552" stroke-width="0.06" textLength="20.5" lengthAdjust="spacingAndGlyphs">1023.46</text>
<text transform="matrix(1,0.002,0,0.75,0,62.815)" x="576.3" y="255.87" font-size="5.6" fill="#2b3552" stroke="#2b3552" stroke-width="0.06" text-anchor="end" textLength="15.5" lengthAdjust="spacingAndGlyphs">22.95</text>
<text transform="matrix(1,0.002,0,0.75,0,64.111)" x="499.3" y="260.44" font-size="5.6" fill="#9cc860" stroke="#9cc860" stroke-width="0.06" textLength="21.1" lengthAdjust="spacingAndGlyphs">zn2p (M)</text>
<text transform="matrix(1,0.002,0,0.75,0,64.041)" x="534.7" y="260.44" font-size="5.6" fill="#2b3552" stroke="#2b3552" stroke-width="0.06" textLength="20.5" lengthAdjust="spacingAndGlyphs">1021.96</text>
<text transform="matrix(1,0.002,0,0.75,0,63.957)" x="576.3" y="260.44" font-size="5.6" fill="#2b3552" stroke="#2b3552" stroke-width="0.06" text-anchor="end" textLength="15.5" lengthAdjust="spacingAndGlyphs">23.04</text>
<text transform="matrix(1,0.002,0,0.75,0,65.254)" x="499.3" y="265.01" font-size="5.6" fill="#6f9ce0" stroke="#6f9ce0" stroke-width="0.06" textLength="28.6" lengthAdjust="spacingAndGlyphs">zn2p Oxide</text>
<text transform="matrix(1,0.002,0,0.75,0,65.183)" x="534.7" y="265.01" font-size="5.6" fill="#2b3552" stroke="#2b3552" stroke-width="0.06" textLength="20.5" lengthAdjust="spacingAndGlyphs">1042.22</text>
<text transform="matrix(1,0.002,0,0.75,0,65.100)" x="576.3" y="265.01" font-size="5.6" fill="#2b3552" stroke="#2b3552" stroke-width="0.06" text-anchor="end" textLength="11.6" lengthAdjust="spacingAndGlyphs">2.80</text>
<text transform="matrix(1,0.002,0,0.75,0,66.396)" x="499.3" y="269.58" font-size="5.6" fill="#9a80d0" stroke="#9a80d0" stroke-width="0.06" textLength="19.3" lengthAdjust="spacingAndGlyphs">zn2p(M)</text>
<text transform="matrix(1,0.002,0,0.75,0,66.326)" x="534.7" y="269.58" font-size="5.6" fill="#2b3552" stroke="#2b3552" stroke-width="0.06" textLength="20.5" lengthAdjust="spacingAndGlyphs">1024.69</text>
<text transform="matrix(1,0.002,0,0.75,0,66.242)" x="576.3" y="269.58" font-size="5.6" fill="#2b3552" stroke="#2b3552" stroke-width="0.06" text-anchor="end" textLength="15.5" lengthAdjust="spacingAndGlyphs">18.28</text>
<text transform="matrix(1,0.002,0,0.75,0,67.539)" x="499.3" y="274.15" font-size="5.6" fill="#a8a848" stroke="#a8a848" stroke-width="0.06" textLength="25.5" lengthAdjust="spacingAndGlyphs">zn2p (OH)</text>
<text transform="matrix(1,0.002,0,0.75,0,67.468)" x="534.7" y="274.15" font-size="5.6" fill="#2b3552" stroke="#2b3552" stroke-width="0.06" textLength="20.5" lengthAdjust="spacingAndGlyphs">1037.53</text>
<text transform="matrix(1,0.002,0,0.75,0,67.385)" x="576.3" y="274.15" font-size="5.6" fill="#2b3552" stroke="#2b3552" stroke-width="0.06" text-anchor="end" textLength="11.6" lengthAdjust="spacingAndGlyphs">3.32</text>
<text transform="matrix(1,0.002,0,0.75,0,68.681)" x="499.3" y="278.72" font-size="5.6" fill="#ff70d8" stroke="#ff70d8" stroke-width="0.06" textLength="21.7" lengthAdjust="spacingAndGlyphs">zn2p (M)</text>
<text transform="matrix(1,0.002,0,0.75,0,68.611)" x="534.7" y="278.72" font-size="5.6" fill="#2b3552" stroke="#2b3552" stroke-width="0.06" textLength="20.5" lengthAdjust="spacingAndGlyphs">1044.89</text>
<text transform="matrix(1,0.002,0,0.75,0,68.527)" x="576.3" y="278.72" font-size="5.6" fill="#2b3552" stroke="#2b3552" stroke-width="0.06" text-anchor="end" textLength="11.6" lengthAdjust="spacingAndGlyphs">7.54</text>
<text transform="matrix(1,0.002,0,0.75,0,69.824)" x="499.3" y="283.29" font-size="5.6" fill="#ffa080" stroke="#ffa080" stroke-width="0.06" textLength="21.1" lengthAdjust="spacingAndGlyphs">zn2p (M)</text>
<text transform="matrix(1,0.002,0,0.75,0,69.753)" x="534.7" y="283.29" font-size="5.6" fill="#2b3552" stroke="#2b3552" stroke-width="0.06" textLength="20.5" lengthAdjust="spacingAndGlyphs">1047.61</text>
<text transform="matrix(1,0.002,0,0.75,0,69.670)" x="576.3" y="283.29" font-size="5.6" fill="#2b3552" stroke="#2b3552" stroke-width="0.06" text-anchor="end" textLength="11.6" lengthAdjust="spacingAndGlyphs">8.30</text>
<text transform="matrix(1,0.002,0,0.75,0,70.966)" x="499.3" y="287.86" font-size="5.6" fill="#ffff60" stroke="#ffff60" stroke-width="0.06" textLength="19.3" lengthAdjust="spacingAndGlyphs">zn2p1/2</text>
<text transform="matrix(1,0.002,0,0.75,0,70.896)" x="534.7" y="287.86" font-size="5.6" fill="#2b3552" stroke="#2b3552" stroke-width="0.06" textLength="20.5" lengthAdjust="spacingAndGlyphs">1046.35</text>
<text transform="matrix(1,0.002,0,0.75,0,70.812)" x="576.3" y="287.86" font-size="5.6" fill="#2b3552" stroke="#2b3552" stroke-width="0.06" text-anchor="end" textLength="15.5" lengthAdjust="spacingAndGlyphs">13.77</text>
<text transform="matrix(1,0.002,0,0.75,0,61.664)" x="539.0" y="250.97" font-size="5.6" fill="#2b3552" stroke="#2b3552" stroke-width="0.06" textLength="10.0" lengthAdjust="spacingAndGlyphs">Pos.</text>
<text transform="matrix(1,0.002,0,0.75,0,61.623)" x="559.5" y="250.97" font-size="5.6" fill="#2b3552" stroke="#2b3552" stroke-width="0.06" textLength="17.4" lengthAdjust="spacingAndGlyphs">%Area</text>
</g>
</svg>
</body></html>
